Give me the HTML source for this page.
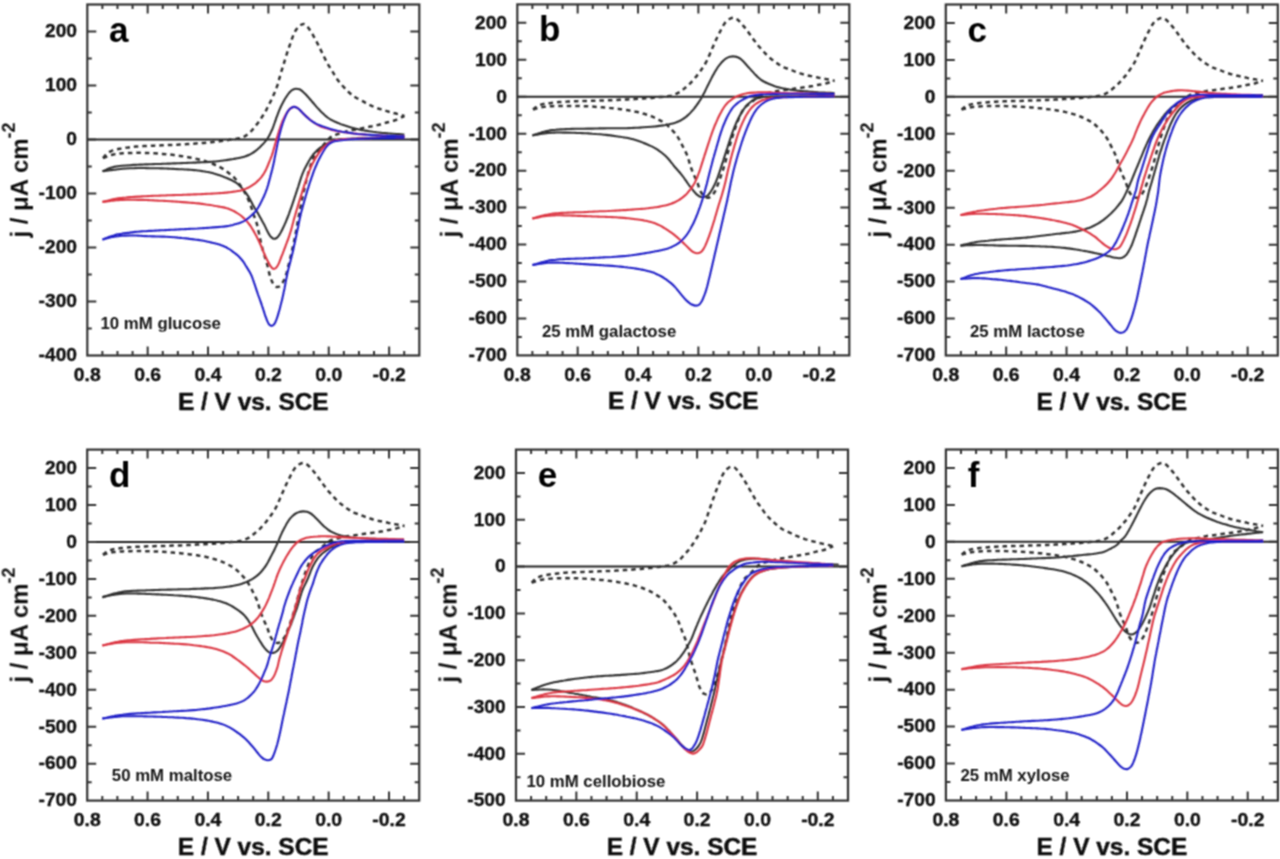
<!DOCTYPE html><html><head><meta charset="utf-8"><style>html,body{margin:0;padding:0;background:#fff;}svg{display:block}</style></head><body>
<svg width="1280" height="859" viewBox="0 0 1280 859">
<defs><filter id="bl" x="0" y="0" width="1280" height="859" filterUnits="userSpaceOnUse"><feConvolveMatrix order="3" kernelMatrix="1 2 1 2 4 2 1 2 1" edgeMode="duplicate"/></filter></defs>
<rect width="1280" height="859" fill="#fff"/><g filter="url(#bl)">
<g><clipPath id="ca"><rect x="87.30" y="4.50" width="332.00" height="351.00"/></clipPath><g clip-path="url(#ca)"><line x1="87.30" y1="139.50" x2="419.30" y2="139.50" stroke="#222" stroke-width="2"/><path d="M103.1 158.1 C103.5 157.6 104.7 156.0 105.6 155.0 C106.5 154.1 107.5 153.1 108.6 152.4 C109.7 151.7 110.9 151.1 112.2 150.6 C113.4 150.1 114.7 149.8 116.0 149.5 C117.3 149.1 118.6 148.9 119.9 148.7 C121.2 148.5 122.5 148.3 123.9 148.1 C125.2 147.9 126.5 147.6 127.8 147.5 C129.1 147.3 130.5 147.1 131.8 147.0 C133.1 146.8 134.4 146.7 135.8 146.6 C137.1 146.5 138.4 146.4 139.8 146.4 C141.1 146.3 142.4 146.2 143.7 146.1 C145.1 146.0 146.4 146.0 147.7 145.9 C149.1 145.8 150.4 145.8 151.7 145.7 C153.1 145.7 154.4 145.6 155.7 145.6 C157.1 145.5 158.4 145.5 159.7 145.4 C161.1 145.4 162.4 145.3 163.7 145.3 C165.1 145.2 166.4 145.1 167.7 145.1 C169.1 145.0 170.4 145.0 171.7 144.9 C173.1 144.9 174.4 144.8 175.7 144.7 C177.0 144.7 178.4 144.6 179.7 144.5 C181.0 144.5 182.4 144.4 183.7 144.3 C185.0 144.2 186.4 144.2 187.7 144.1 C189.0 144.0 190.4 143.9 191.7 143.8 C193.0 143.7 194.3 143.6 195.7 143.5 C197.0 143.4 198.3 143.3 199.7 143.2 C201.0 143.1 202.3 143.0 203.7 142.9 C205.0 142.8 206.3 142.7 207.6 142.5 C209.0 142.4 210.3 142.3 211.6 142.2 C212.9 142.0 214.3 141.9 215.6 141.8 C216.9 141.6 218.3 141.5 219.6 141.3 C220.9 141.2 222.2 141.0 223.5 140.8 C224.9 140.7 226.2 140.5 227.5 140.3 C228.8 140.0 230.1 139.8 231.5 139.6 C232.8 139.4 234.1 139.3 235.4 139.0 C236.7 138.8 238.1 138.7 239.3 138.3 C240.6 138.0 241.9 137.5 243.1 137.0 C244.3 136.5 245.5 135.8 246.6 135.1 C247.7 134.3 248.8 133.5 249.8 132.6 C250.7 131.7 251.6 130.8 252.5 129.7 C253.4 128.7 254.1 127.6 255.0 126.6 C255.8 125.6 256.7 124.6 257.5 123.5 C258.3 122.5 259.1 121.4 259.9 120.3 C260.6 119.2 261.3 118.1 262.0 116.9 C262.8 115.8 263.5 114.7 264.1 113.5 C264.8 112.4 265.5 111.2 266.2 110.1 C266.8 108.9 267.4 107.7 268.0 106.5 C268.6 105.4 269.2 104.2 269.8 103.0 C270.4 101.8 271.0 100.6 271.6 99.4 C272.1 98.2 272.7 96.9 273.2 95.7 C273.8 94.5 274.4 93.3 274.9 92.1 C275.4 90.9 275.9 89.6 276.4 88.4 C276.8 87.1 277.2 85.8 277.6 84.6 C278.0 83.3 278.4 82.0 278.7 80.7 C279.1 79.4 279.5 78.2 279.8 76.9 C280.2 75.6 280.6 74.3 280.9 73.0 C281.3 71.8 281.7 70.5 282.1 69.2 C282.5 67.9 282.9 66.7 283.3 65.4 C283.7 64.1 284.1 62.8 284.4 61.6 C284.8 60.3 285.2 59.0 285.6 57.7 C286.0 56.5 286.4 55.2 286.8 53.9 C287.2 52.6 287.6 51.4 288.0 50.1 C288.5 48.8 288.9 47.6 289.4 46.3 C289.8 45.1 290.2 43.8 290.7 42.6 C291.1 41.3 291.5 40.0 292.0 38.8 C292.4 37.5 292.9 36.3 293.4 35.0 C293.9 33.8 294.4 32.6 295.1 31.4 C295.7 30.3 296.4 29.1 297.3 28.1 C298.1 27.1 299.1 26.1 300.2 25.4 C301.2 24.7 302.5 23.9 303.6 24.0 C304.7 24.1 305.9 25.1 306.8 25.9 C307.7 26.8 308.5 28.0 309.2 29.1 C310.0 30.2 310.7 31.3 311.4 32.5 C312.1 33.6 312.8 34.7 313.4 35.9 C314.1 37.1 314.8 38.2 315.4 39.4 C316.0 40.6 316.6 41.7 317.2 42.9 C317.8 44.1 318.4 45.3 319.0 46.5 C319.6 47.7 320.2 48.9 320.8 50.1 C321.4 51.3 322.0 52.5 322.6 53.7 C323.1 54.9 323.7 56.1 324.3 57.3 C324.9 58.5 325.5 59.7 326.1 60.9 C326.7 62.1 327.3 63.2 328.0 64.4 C328.7 65.5 329.4 66.7 330.1 67.8 C330.8 68.9 331.5 70.0 332.2 71.2 C332.9 72.3 333.6 73.4 334.3 74.6 C335.0 75.7 335.6 76.9 336.4 78.0 C337.1 79.1 337.9 80.2 338.7 81.3 C339.5 82.3 340.4 83.3 341.3 84.3 C342.1 85.3 343.0 86.3 344.0 87.3 C344.9 88.3 345.8 89.2 346.7 90.2 C347.7 91.1 348.6 92.1 349.6 93.0 C350.6 93.9 351.6 94.8 352.6 95.6 C353.7 96.3 354.8 97.1 356.0 97.7 C357.1 98.4 358.3 98.9 359.5 99.5 C360.7 100.2 361.9 100.8 363.1 101.4 C364.2 102.1 365.4 102.8 366.5 103.4 C367.7 104.0 368.9 104.6 370.1 105.2 C371.3 105.7 372.5 106.3 373.8 106.8 C375.0 107.3 376.3 107.8 377.5 108.2 C378.8 108.6 380.1 109.0 381.3 109.4 C382.6 109.8 383.9 110.2 385.2 110.6 C386.4 111.0 387.7 111.4 389.0 111.8 C390.3 112.1 391.5 112.5 392.8 112.8 C394.1 113.2 395.4 113.4 396.7 113.8 C398.0 114.1 399.3 114.4 400.6 114.8 C401.9 115.2 403.8 115.9 404.4 116.1" fill="none" stroke="#303030" stroke-width="2.5" stroke-dasharray="4.5 4" stroke-linejoin="round"/><path d="M103.1 158.1 C103.7 157.8 105.5 157.1 106.8 156.6 C108.0 156.1 109.3 155.6 110.6 155.2 C111.8 154.9 113.1 154.5 114.4 154.3 C115.7 154.0 117.1 153.8 118.4 153.7 C119.7 153.5 121.0 153.4 122.4 153.3 C123.7 153.2 125.0 153.2 126.4 153.1 C127.7 153.0 129.0 153.0 130.4 153.0 C131.7 152.9 133.0 152.9 134.4 152.9 C135.7 152.8 137.0 152.8 138.4 152.8 C139.7 152.8 141.0 152.8 142.4 152.9 C143.7 152.9 145.0 152.9 146.4 152.9 C147.7 153.0 149.0 153.0 150.4 153.1 C151.7 153.2 153.0 153.2 154.3 153.3 C155.7 153.4 157.0 153.5 158.3 153.6 C159.7 153.7 161.0 153.8 162.3 153.9 C163.7 154.0 165.0 154.1 166.3 154.2 C167.6 154.4 169.0 154.5 170.3 154.6 C171.6 154.8 172.9 154.9 174.3 155.1 C175.6 155.3 176.9 155.4 178.2 155.6 C179.5 155.8 180.9 156.0 182.2 156.2 C183.5 156.4 184.8 156.6 186.1 156.8 C187.4 157.1 188.8 157.3 190.1 157.5 C191.4 157.8 192.7 158.0 194.0 158.3 C195.3 158.6 196.6 158.9 197.9 159.2 C199.2 159.5 200.5 159.8 201.8 160.2 C203.1 160.5 204.3 160.9 205.6 161.3 C206.9 161.7 208.1 162.1 209.4 162.6 C210.6 163.0 211.9 163.5 213.1 164.0 C214.4 164.6 215.6 165.1 216.8 165.6 C218.0 166.2 219.2 166.8 220.4 167.4 C221.5 168.1 222.7 168.7 223.8 169.5 C224.9 170.2 226.0 171.0 227.1 171.8 C228.1 172.6 229.2 173.4 230.3 174.2 C231.3 175.0 232.4 175.8 233.3 176.7 C234.3 177.6 235.2 178.6 236.1 179.7 C236.9 180.7 237.7 181.8 238.5 182.8 C239.2 183.9 240.0 185.0 240.7 186.1 C241.5 187.2 242.2 188.4 242.9 189.5 C243.6 190.6 244.3 191.7 245.0 192.9 C245.7 194.1 246.3 195.2 246.9 196.4 C247.5 197.6 248.0 198.8 248.5 200.1 C249.1 201.3 249.5 202.5 250.0 203.8 C250.5 205.0 250.9 206.3 251.4 207.5 C251.8 208.8 252.2 210.1 252.6 211.4 C253.0 212.6 253.4 213.9 253.8 215.2 C254.2 216.4 254.7 217.7 255.2 218.9 C255.6 220.2 256.1 221.4 256.5 222.7 C256.9 224.0 257.2 225.3 257.6 226.6 C257.9 227.8 258.2 229.2 258.4 230.5 C258.7 231.8 259.0 233.1 259.2 234.4 C259.5 235.7 259.7 237.0 260.0 238.3 C260.3 239.6 260.5 240.9 260.8 242.2 C261.1 243.5 261.4 244.8 261.8 246.1 C262.1 247.4 262.5 248.7 262.8 250.0 C263.2 251.2 263.6 252.5 264.0 253.8 C264.4 255.1 264.8 256.3 265.1 257.6 C265.5 258.9 265.9 260.2 266.3 261.4 C266.7 262.7 267.1 264.0 267.4 265.3 C267.8 266.6 268.1 267.9 268.4 269.2 C268.7 270.5 268.9 271.8 269.2 273.1 C269.5 274.4 269.9 275.7 270.3 276.9 C270.7 278.2 271.1 279.5 271.7 280.7 C272.2 281.9 272.8 283.2 273.6 284.2 C274.3 285.2 275.3 286.5 276.3 286.9 C277.3 287.2 278.7 286.9 279.7 286.3 C280.7 285.7 281.5 284.4 282.2 283.3 C283.0 282.2 283.6 281.0 284.2 279.8 C284.7 278.6 285.2 277.4 285.7 276.1 C286.1 274.8 286.4 273.5 286.8 272.3 C287.1 271.0 287.4 269.7 287.8 268.4 C288.1 267.1 288.4 265.8 288.7 264.5 C289.1 263.2 289.4 261.9 289.7 260.6 C290.0 259.3 290.3 258.0 290.6 256.7 C290.9 255.4 291.2 254.1 291.5 252.8 C291.8 251.5 292.1 250.2 292.4 248.9 C292.7 247.6 293.0 246.3 293.3 245.0 C293.6 243.7 293.9 242.4 294.2 241.1 C294.4 239.8 294.7 238.5 295.0 237.2 C295.2 235.9 295.5 234.6 295.7 233.3 C296.0 232.0 296.2 230.7 296.4 229.3 C296.7 228.0 296.9 226.7 297.1 225.4 C297.4 224.1 297.6 222.8 297.8 221.5 C298.1 220.2 298.3 218.8 298.5 217.5 C298.8 216.2 299.0 214.9 299.3 213.6 C299.5 212.3 299.8 211.0 300.0 209.7 C300.3 208.4 300.5 207.1 300.8 205.7 C301.1 204.4 301.3 203.1 301.6 201.8 C301.8 200.5 302.1 199.2 302.4 197.9 C302.7 196.6 302.9 195.3 303.2 194.0 C303.5 192.7 303.8 191.4 304.1 190.1 C304.4 188.8 304.7 187.5 305.0 186.2 C305.3 184.9 305.6 183.6 305.9 182.3 C306.2 181.0 306.6 179.7 306.9 178.4 C307.2 177.1 307.5 175.8 307.9 174.5 C308.2 173.3 308.6 172.0 308.9 170.7 C309.3 169.4 309.7 168.1 310.1 166.8 C310.5 165.6 310.9 164.3 311.4 163.1 C311.8 161.8 312.3 160.6 312.8 159.4 C313.4 158.1 313.9 156.9 314.5 155.7 C315.2 154.6 315.8 153.4 316.6 152.4 C317.5 151.4 318.7 150.8 319.6 149.8 C320.6 148.9 321.3 147.8 322.2 146.8 C323.0 145.7 323.7 144.6 324.6 143.6 C325.4 142.6 326.3 141.5 327.2 140.6 C328.1 139.6 329.0 138.6 330.0 137.8 C331.1 136.9 332.2 136.2 333.4 135.6 C334.5 135.0 335.9 134.7 337.1 134.3 C338.4 133.9 339.7 133.6 341.0 133.2 C342.2 132.8 343.5 132.3 344.8 131.9 C346.0 131.5 347.3 131.1 348.6 130.8 C349.9 130.5 351.2 130.4 352.5 130.1 C353.9 129.9 355.2 129.7 356.5 129.5 C357.8 129.2 359.1 128.9 360.4 128.6 C361.7 128.3 363.0 128.0 364.3 127.7 C365.6 127.4 366.9 127.2 368.2 126.9 C369.5 126.7 370.8 126.4 372.1 126.2 C373.4 125.9 374.8 125.7 376.1 125.4 C377.4 125.1 378.7 124.9 380.0 124.5 C381.2 124.2 382.5 123.7 383.8 123.4 C385.1 123.0 386.3 122.6 387.6 122.2 C388.9 121.9 390.2 121.7 391.5 121.3 C392.8 121.0 394.1 120.7 395.4 120.2 C396.6 119.8 397.8 119.2 399.0 118.7 C400.2 118.1 401.7 117.4 402.6 116.9 C403.5 116.5 404.1 116.2 404.4 116.1" fill="none" stroke="#303030" stroke-width="2.5" stroke-dasharray="4.5 4" stroke-linejoin="round"/><path d="M102.5 171.3 C103.1 171.0 104.9 170.1 106.1 169.6 C107.4 169.0 108.6 168.5 109.8 168.1 C111.1 167.6 112.4 167.2 113.7 166.9 C115.0 166.7 116.3 166.5 117.6 166.3 C118.9 166.1 120.3 165.9 121.6 165.8 C122.9 165.7 124.2 165.6 125.6 165.5 C126.9 165.4 128.2 165.3 129.6 165.2 C130.9 165.1 132.2 165.0 133.6 164.9 C134.9 164.9 136.2 164.8 137.5 164.7 C138.9 164.7 140.2 164.6 141.5 164.6 C142.9 164.5 144.2 164.5 145.5 164.4 C146.9 164.4 148.2 164.3 149.5 164.3 C150.9 164.2 152.2 164.2 153.5 164.1 C154.9 164.1 156.2 164.0 157.5 164.0 C158.9 163.9 160.2 163.9 161.5 163.9 C162.9 163.8 164.2 163.8 165.5 163.7 C166.9 163.7 168.2 163.6 169.5 163.6 C170.9 163.5 172.2 163.5 173.5 163.4 C174.9 163.4 176.2 163.3 177.5 163.3 C178.9 163.2 180.2 163.2 181.5 163.1 C182.9 163.1 184.2 163.0 185.5 163.0 C186.8 162.9 188.2 162.9 189.5 162.8 C190.8 162.7 192.2 162.7 193.5 162.6 C194.8 162.6 196.2 162.5 197.5 162.4 C198.8 162.4 200.2 162.3 201.5 162.3 C202.8 162.2 204.2 162.2 205.5 162.1 C206.8 162.0 208.2 162.0 209.5 161.9 C210.8 161.8 212.2 161.7 213.5 161.6 C214.8 161.5 216.1 161.4 217.5 161.2 C218.8 161.1 220.1 161.0 221.4 160.8 C222.8 160.6 224.1 160.4 225.4 160.2 C226.7 160.1 228.0 159.8 229.4 159.6 C230.7 159.4 232.0 159.2 233.3 159.0 C234.6 158.7 235.9 158.5 237.2 158.2 C238.5 158.0 239.8 157.7 241.1 157.4 C242.4 157.1 243.7 156.8 245.0 156.4 C246.3 156.0 247.6 155.6 248.8 155.0 C250.0 154.5 251.2 153.9 252.3 153.2 C253.4 152.5 254.5 151.7 255.6 150.9 C256.6 150.1 257.7 149.2 258.7 148.3 C259.7 147.5 260.6 146.5 261.5 145.6 C262.5 144.6 263.4 143.6 264.3 142.6 C265.1 141.6 266.0 140.6 266.8 139.6 C267.6 138.5 268.2 137.3 268.9 136.2 C269.5 135.0 270.2 133.8 270.7 132.6 C271.3 131.4 271.9 130.2 272.4 129.0 C272.9 127.7 273.4 126.5 273.8 125.2 C274.3 124.0 274.7 122.7 275.1 121.5 C275.6 120.2 276.0 118.9 276.4 117.7 C276.9 116.4 277.4 115.2 277.9 113.9 C278.3 112.7 278.8 111.4 279.3 110.2 C279.8 109.0 280.4 107.8 280.9 106.5 C281.5 105.3 282.1 104.1 282.7 103.0 C283.3 101.8 284.0 100.6 284.6 99.5 C285.3 98.3 286.0 97.2 286.8 96.1 C287.5 95.0 288.3 93.9 289.1 92.9 C290.0 91.9 290.9 90.8 292.0 90.1 C293.1 89.4 294.4 88.9 295.6 88.7 C296.9 88.6 298.3 88.9 299.5 89.3 C300.6 89.8 301.7 90.7 302.7 91.5 C303.7 92.4 304.7 93.4 305.6 94.3 C306.5 95.3 307.4 96.3 308.3 97.3 C309.2 98.3 310.0 99.3 310.9 100.3 C311.8 101.3 312.6 102.3 313.5 103.3 C314.4 104.3 315.3 105.4 316.1 106.4 C317.0 107.4 317.9 108.4 318.8 109.3 C319.7 110.3 320.7 111.3 321.6 112.2 C322.6 113.1 323.5 114.1 324.5 115.0 C325.5 115.8 326.5 116.7 327.6 117.5 C328.7 118.3 329.8 119.0 330.9 119.7 C332.1 120.3 333.3 120.9 334.5 121.5 C335.7 122.0 336.9 122.6 338.1 123.1 C339.4 123.6 340.6 124.1 341.9 124.6 C343.1 125.0 344.4 125.4 345.7 125.8 C346.9 126.2 348.2 126.6 349.5 127.0 C350.8 127.4 352.0 127.8 353.3 128.1 C354.6 128.5 355.9 128.8 357.2 129.1 C358.5 129.4 359.8 129.6 361.1 129.9 C362.4 130.1 363.8 130.4 365.1 130.6 C366.4 130.8 367.7 131.0 369.0 131.2 C370.3 131.4 371.7 131.6 373.0 131.8 C374.3 131.9 375.6 132.1 377.0 132.3 C378.3 132.4 379.6 132.6 380.9 132.7 C382.3 132.9 383.6 133.0 384.9 133.1 C386.2 133.2 387.6 133.3 388.9 133.5 C390.2 133.6 391.6 133.6 392.9 133.7 C394.2 133.8 395.5 133.9 396.9 134.0 C398.2 134.1 399.6 134.2 400.9 134.3 C402.1 134.4 403.8 134.5 404.4 134.5" fill="none" stroke="#303030" stroke-width="2.1" stroke-linejoin="round"/><path d="M102.5 171.3 C103.2 171.2 105.1 170.9 106.5 170.7 C107.8 170.5 109.1 170.3 110.4 170.1 C111.8 170.0 113.1 169.8 114.4 169.7 C115.7 169.5 117.1 169.4 118.4 169.2 C119.7 169.1 121.0 168.9 122.4 168.8 C123.7 168.7 125.0 168.6 126.3 168.5 C127.7 168.4 129.0 168.3 130.3 168.2 C131.7 168.1 133.0 168.1 134.3 168.1 C135.7 168.0 137.0 168.0 138.3 168.0 C139.7 168.0 141.0 168.0 142.3 168.0 C143.7 168.0 145.0 168.1 146.3 168.1 C147.7 168.1 149.0 168.1 150.3 168.2 C151.7 168.2 153.0 168.2 154.3 168.2 C155.7 168.3 157.0 168.3 158.3 168.3 C159.7 168.3 161.0 168.4 162.3 168.4 C163.7 168.4 165.0 168.5 166.3 168.5 C167.7 168.6 169.0 168.6 170.3 168.7 C171.7 168.7 173.0 168.8 174.3 168.9 C175.7 168.9 177.0 169.0 178.3 169.1 C179.6 169.1 181.0 169.2 182.3 169.3 C183.6 169.4 185.0 169.5 186.3 169.5 C187.6 169.6 189.0 169.7 190.3 169.8 C191.6 169.9 192.9 170.0 194.3 170.1 C195.6 170.2 196.9 170.4 198.3 170.5 C199.6 170.7 200.9 170.9 202.2 171.1 C203.5 171.3 204.9 171.5 206.2 171.8 C207.5 172.0 208.8 172.3 210.1 172.6 C211.4 172.9 212.7 173.2 213.9 173.6 C215.2 174.0 216.5 174.4 217.8 174.8 C219.0 175.2 220.3 175.6 221.6 176.1 C222.8 176.5 224.1 177.0 225.3 177.4 C226.5 177.9 227.8 178.4 229.0 179.0 C230.2 179.5 231.5 180.0 232.6 180.7 C233.8 181.3 235.0 181.9 236.1 182.7 C237.1 183.4 238.1 184.3 239.1 185.3 C240.1 186.2 241.0 187.1 241.9 188.1 C242.8 189.1 243.6 190.1 244.5 191.2 C245.3 192.2 246.2 193.3 246.9 194.3 C247.7 195.4 248.5 196.5 249.1 197.7 C249.8 198.8 250.4 200.0 251.0 201.2 C251.6 202.4 252.2 203.6 252.8 204.8 C253.5 205.9 254.2 207.1 254.8 208.2 C255.5 209.4 256.2 210.5 256.9 211.6 C257.6 212.8 258.3 213.9 258.9 215.1 C259.6 216.2 260.2 217.4 260.9 218.6 C261.5 219.7 262.2 220.9 262.8 222.1 C263.4 223.3 264.1 224.4 264.7 225.6 C265.3 226.8 265.9 228.0 266.4 229.2 C267.0 230.4 267.5 231.7 268.2 232.8 C268.8 234.0 269.5 235.2 270.3 236.2 C271.2 237.1 272.2 238.4 273.3 238.7 C274.3 239.0 275.6 238.6 276.6 238.0 C277.6 237.4 278.5 236.1 279.2 235.1 C280.0 234.0 280.6 232.8 281.2 231.6 C281.9 230.4 282.5 229.2 283.0 228.0 C283.6 226.8 284.2 225.6 284.7 224.4 C285.3 223.2 285.8 222.0 286.3 220.7 C286.8 219.5 287.3 218.3 287.8 217.0 C288.2 215.8 288.7 214.5 289.2 213.3 C289.6 212.0 290.1 210.8 290.5 209.5 C291.0 208.3 291.4 207.0 291.9 205.7 C292.3 204.5 292.7 203.2 293.1 202.0 C293.6 200.7 294.0 199.4 294.4 198.2 C294.8 196.9 295.2 195.6 295.7 194.4 C296.1 193.1 296.5 191.8 296.9 190.6 C297.3 189.3 297.7 188.0 298.2 186.8 C298.6 185.5 299.0 184.2 299.4 182.9 C299.8 181.7 300.2 180.4 300.6 179.1 C301.0 177.9 301.4 176.6 301.9 175.4 C302.4 174.1 302.9 172.9 303.4 171.7 C303.9 170.4 304.5 169.2 305.1 168.0 C305.7 166.9 306.4 165.7 307.0 164.5 C307.6 163.3 308.3 162.2 308.9 161.0 C309.6 159.9 310.3 158.7 311.0 157.6 C311.7 156.5 312.5 155.4 313.3 154.3 C314.2 153.3 315.1 152.3 316.0 151.4 C316.9 150.4 318.0 149.6 319.0 148.7 C320.1 147.9 321.2 147.2 322.3 146.5 C323.4 145.8 324.6 145.1 325.7 144.4 C326.9 143.8 328.0 143.1 329.2 142.5 C330.4 141.9 331.7 141.4 332.9 141.0 C334.2 140.6 335.5 140.3 336.8 140.1 C338.1 139.8 339.4 139.6 340.8 139.4 C342.1 139.3 343.4 139.1 344.7 139.0 C346.1 138.9 347.4 138.8 348.7 138.7 C350.1 138.7 351.4 138.6 352.7 138.5 C354.1 138.5 355.4 138.4 356.7 138.4 C358.1 138.3 359.4 138.3 360.7 138.2 C362.1 138.2 363.4 138.1 364.7 138.1 C366.1 138.0 367.4 138.0 368.7 138.0 C370.1 137.9 371.4 137.9 372.7 137.8 C374.1 137.8 375.4 137.8 376.7 137.8 C378.1 137.7 379.4 137.7 380.7 137.7 C382.0 137.6 383.4 137.6 384.7 137.6 C386.0 137.6 387.4 137.6 388.7 137.5 C390.0 137.5 391.4 137.5 392.7 137.5 C394.0 137.5 395.4 137.4 396.7 137.4 C398.0 137.4 399.4 137.4 400.7 137.4 C402.0 137.3 403.8 137.3 404.4 137.3" fill="none" stroke="#303030" stroke-width="2.1" stroke-linejoin="round"/><path d="M102.5 201.9 C103.2 201.7 105.1 201.3 106.4 200.9 C107.7 200.6 109.0 200.3 110.3 200.0 C111.6 199.7 112.9 199.4 114.2 199.1 C115.5 198.8 116.8 198.6 118.1 198.4 C119.4 198.2 120.8 198.0 122.1 197.9 C123.4 197.7 124.7 197.6 126.1 197.5 C127.4 197.3 128.7 197.2 130.0 197.1 C131.4 197.0 132.7 197.0 134.0 196.9 C135.4 196.8 136.7 196.7 138.0 196.6 C139.4 196.6 140.7 196.5 142.0 196.4 C143.4 196.3 144.7 196.3 146.0 196.2 C147.3 196.1 148.7 196.1 150.0 196.0 C151.3 195.9 152.7 195.9 154.0 195.8 C155.3 195.8 156.7 195.7 158.0 195.7 C159.3 195.6 160.7 195.6 162.0 195.5 C163.3 195.5 164.7 195.4 166.0 195.4 C167.3 195.3 168.7 195.3 170.0 195.2 C171.3 195.2 172.7 195.2 174.0 195.1 C175.3 195.1 176.7 195.0 178.0 195.0 C179.3 194.9 180.7 194.9 182.0 194.9 C183.3 194.8 184.7 194.8 186.0 194.7 C187.3 194.7 188.7 194.6 190.0 194.6 C191.3 194.5 192.7 194.5 194.0 194.4 C195.3 194.4 196.6 194.3 198.0 194.3 C199.3 194.2 200.6 194.2 202.0 194.1 C203.3 194.0 204.6 194.0 206.0 193.9 C207.3 193.8 208.6 193.8 210.0 193.7 C211.3 193.6 212.6 193.6 214.0 193.5 C215.3 193.4 216.6 193.3 218.0 193.2 C219.3 193.1 220.6 193.1 221.9 193.0 C223.3 192.8 224.6 192.7 225.9 192.6 C227.3 192.5 228.6 192.3 229.9 192.2 C231.2 192.0 232.5 191.8 233.9 191.6 C235.2 191.4 236.5 191.3 237.8 191.0 C239.1 190.8 240.4 190.6 241.7 190.2 C243.0 189.8 244.3 189.4 245.5 188.9 C246.7 188.4 247.9 187.8 249.1 187.2 C250.3 186.5 251.4 185.9 252.5 185.1 C253.7 184.4 254.7 183.6 255.8 182.8 C256.8 181.9 257.8 181.0 258.7 180.1 C259.6 179.1 260.5 178.1 261.4 177.1 C262.2 176.0 262.9 174.9 263.7 173.8 C264.4 172.7 265.1 171.5 265.7 170.3 C266.3 169.2 266.8 167.9 267.3 166.7 C267.9 165.5 268.3 164.2 268.8 163.0 C269.3 161.7 269.8 160.5 270.3 159.3 C270.8 158.0 271.3 156.8 271.8 155.6 C272.2 154.3 272.6 153.0 273.0 151.8 C273.4 150.5 273.7 149.2 274.1 147.9 C274.5 146.6 274.8 145.4 275.2 144.1 C275.6 142.8 275.9 141.5 276.3 140.2 C276.7 139.0 277.0 137.7 277.4 136.4 C277.8 135.1 278.1 133.8 278.5 132.6 C278.9 131.3 279.3 130.0 279.8 128.7 C280.2 127.5 280.6 126.2 281.1 125.0 C281.5 123.7 282.0 122.5 282.5 121.2 C283.0 120.0 283.6 118.8 284.2 117.6 C284.8 116.4 285.4 115.2 286.1 114.1 C286.8 113.0 287.5 111.8 288.3 110.8 C289.2 109.8 290.0 108.6 291.1 108.0 C292.2 107.3 293.5 106.8 294.7 106.9 C295.9 107.0 297.1 107.8 298.2 108.5 C299.3 109.3 300.1 110.4 301.1 111.3 C302.0 112.3 302.9 113.2 303.9 114.2 C304.8 115.1 305.8 116.0 306.8 116.9 C307.8 117.8 308.8 118.7 309.8 119.5 C310.8 120.4 311.9 121.2 313.0 122.0 C314.0 122.8 315.1 123.5 316.3 124.2 C317.4 124.9 318.6 125.5 319.8 126.0 C321.0 126.6 322.3 127.0 323.6 127.4 C324.9 127.8 326.2 128.1 327.4 128.5 C328.7 128.9 330.0 129.3 331.3 129.7 C332.5 130.0 333.8 130.4 335.1 130.7 C336.4 131.0 337.7 131.2 339.1 131.4 C340.4 131.6 341.7 131.8 343.0 132.0 C344.3 132.2 345.7 132.4 347.0 132.6 C348.3 132.7 349.6 132.9 350.9 133.1 C352.3 133.3 353.6 133.5 354.9 133.6 C356.2 133.8 357.5 133.9 358.9 134.1 C360.2 134.2 361.5 134.3 362.9 134.4 C364.2 134.5 365.5 134.6 366.8 134.7 C368.2 134.8 369.5 134.9 370.8 135.0 C372.2 135.0 373.5 135.1 374.8 135.2 C376.2 135.3 377.5 135.4 378.8 135.4 C380.2 135.5 381.5 135.6 382.8 135.7 C384.2 135.7 385.5 135.8 386.8 135.8 C388.1 135.9 389.5 136.0 390.8 136.0 C392.1 136.1 393.5 136.1 394.8 136.2 C396.1 136.2 397.5 136.2 398.8 136.3 C400.1 136.3 401.9 136.3 402.8 136.4 C403.7 136.4 404.1 136.4 404.4 136.4" fill="none" stroke="#dc3844" stroke-width="2.1" stroke-linejoin="round"/><path d="M102.5 201.9 C103.2 201.8 105.2 201.6 106.5 201.4 C107.8 201.2 109.1 201.0 110.4 200.9 C111.8 200.7 113.1 200.5 114.4 200.4 C115.7 200.3 117.1 200.2 118.4 200.1 C119.7 200.0 121.1 200.0 122.4 199.9 C123.7 199.9 125.1 199.9 126.4 199.8 C127.7 199.8 129.1 199.8 130.4 199.8 C131.7 199.8 133.1 199.8 134.4 199.8 C135.7 199.8 137.1 199.8 138.4 199.9 C139.7 199.9 141.1 199.9 142.4 199.9 C143.7 200.0 145.1 200.0 146.4 200.0 C147.7 200.1 149.1 200.1 150.4 200.2 C151.7 200.2 153.1 200.3 154.4 200.4 C155.7 200.4 157.1 200.5 158.4 200.6 C159.7 200.6 161.0 200.7 162.4 200.8 C163.7 200.9 165.0 200.9 166.4 201.0 C167.7 201.1 169.0 201.2 170.4 201.3 C171.7 201.4 173.0 201.4 174.4 201.5 C175.7 201.6 177.0 201.7 178.3 201.8 C179.7 201.9 181.0 202.0 182.3 202.1 C183.7 202.2 185.0 202.3 186.3 202.4 C187.7 202.5 189.0 202.6 190.3 202.7 C191.6 202.8 193.0 202.9 194.3 203.0 C195.6 203.2 197.0 203.3 198.3 203.4 C199.6 203.6 200.9 203.7 202.3 203.9 C203.6 204.1 204.9 204.3 206.2 204.5 C207.5 204.6 208.9 204.8 210.2 205.0 C211.5 205.2 212.8 205.4 214.1 205.7 C215.4 205.9 216.7 206.1 218.1 206.4 C219.4 206.6 220.7 206.9 222.0 207.1 C223.3 207.4 224.6 207.6 225.9 208.0 C227.2 208.3 228.5 208.7 229.7 209.2 C230.9 209.6 232.2 210.2 233.3 210.8 C234.5 211.4 235.7 212.1 236.8 212.8 C238.0 213.5 239.1 214.2 240.1 215.0 C241.2 215.8 242.2 216.7 243.2 217.6 C244.2 218.5 245.1 219.4 246.0 220.4 C246.9 221.4 247.8 222.4 248.6 223.5 C249.4 224.5 250.2 225.6 251.0 226.7 C251.7 227.8 252.4 228.9 253.1 230.1 C253.8 231.2 254.4 232.4 255.0 233.6 C255.6 234.8 256.3 235.9 256.9 237.1 C257.5 238.3 258.1 239.5 258.7 240.7 C259.3 241.9 259.8 243.1 260.3 244.3 C260.9 245.6 261.4 246.8 261.9 248.0 C262.4 249.2 262.9 250.5 263.4 251.7 C264.0 252.9 264.5 254.1 265.0 255.4 C265.6 256.6 266.2 257.8 266.7 259.0 C267.3 260.2 267.9 261.4 268.5 262.6 C269.2 263.7 269.7 265.0 270.5 266.0 C271.3 267.1 272.1 268.5 273.1 268.8 C274.0 269.1 275.3 268.5 276.2 267.7 C277.1 267.0 277.7 265.6 278.3 264.4 C278.9 263.2 279.4 261.9 279.9 260.7 C280.4 259.5 280.8 258.2 281.3 257.0 C281.8 255.8 282.3 254.5 282.8 253.3 C283.3 252.0 283.8 250.8 284.2 249.5 C284.7 248.3 285.2 247.0 285.6 245.8 C286.1 244.5 286.6 243.3 287.0 242.0 C287.5 240.8 288.0 239.5 288.4 238.3 C288.9 237.0 289.3 235.8 289.7 234.5 C290.2 233.2 290.5 232.0 290.9 230.7 C291.3 229.4 291.6 228.1 292.0 226.8 C292.3 225.5 292.6 224.2 293.0 223.0 C293.3 221.7 293.7 220.4 294.0 219.1 C294.4 217.8 294.7 216.5 295.1 215.3 C295.5 214.0 295.9 212.7 296.2 211.4 C296.6 210.1 297.0 208.9 297.4 207.6 C297.8 206.3 298.2 205.0 298.5 203.8 C298.9 202.5 299.3 201.2 299.7 199.9 C300.1 198.7 300.5 197.4 300.9 196.1 C301.3 194.8 301.7 193.6 302.1 192.3 C302.5 191.0 302.8 189.7 303.3 188.5 C303.7 187.2 304.1 185.9 304.5 184.7 C304.9 183.4 305.3 182.1 305.8 180.9 C306.2 179.6 306.6 178.3 307.1 177.1 C307.5 175.8 307.9 174.6 308.4 173.3 C308.9 172.1 309.4 170.8 309.9 169.6 C310.4 168.4 310.9 167.1 311.5 165.9 C312.0 164.7 312.6 163.5 313.2 162.3 C313.9 161.2 314.5 160.0 315.2 158.8 C315.8 157.7 316.5 156.5 317.2 155.4 C318.0 154.3 318.7 153.2 319.5 152.1 C320.3 151.1 321.2 150.0 322.0 149.0 C322.9 148.0 323.8 147.0 324.8 146.2 C325.8 145.3 326.9 144.4 328.0 143.7 C329.1 143.0 330.3 142.4 331.5 141.8 C332.7 141.3 334.0 140.9 335.3 140.6 C336.6 140.2 337.9 140.1 339.2 139.9 C340.5 139.7 341.8 139.5 343.2 139.4 C344.5 139.3 345.8 139.2 347.2 139.1 C348.5 139.0 349.8 139.0 351.2 138.9 C352.5 138.8 353.8 138.8 355.1 138.7 C356.5 138.7 357.8 138.6 359.1 138.5 C360.5 138.5 361.8 138.4 363.1 138.4 C364.5 138.3 365.8 138.3 367.1 138.2 C368.5 138.2 369.8 138.1 371.1 138.1 C372.5 138.1 373.8 138.0 375.1 138.0 C376.5 138.0 377.8 137.9 379.1 137.9 C380.5 137.9 381.8 137.8 383.1 137.8 C384.5 137.8 385.8 137.8 387.1 137.8 C388.5 137.7 389.8 137.7 391.1 137.7 C392.5 137.7 393.8 137.7 395.1 137.6 C396.5 137.6 397.8 137.6 399.1 137.6 C400.5 137.6 402.3 137.5 403.1 137.5 C404.0 137.5 404.2 137.5 404.4 137.5" fill="none" stroke="#dc3844" stroke-width="2.1" stroke-linejoin="round"/><path d="M102.5 239.5 C103.1 239.3 105.0 238.5 106.2 238.0 C107.5 237.5 108.7 237.0 110.0 236.6 C111.2 236.1 112.5 235.7 113.8 235.4 C115.0 235.0 116.3 234.7 117.7 234.4 C119.0 234.2 120.3 233.9 121.6 233.7 C122.9 233.5 124.2 233.3 125.5 233.1 C126.9 232.9 128.2 232.7 129.5 232.6 C130.8 232.4 132.1 232.2 133.5 232.1 C134.8 232.0 136.1 231.8 137.5 231.7 C138.8 231.6 140.1 231.5 141.4 231.4 C142.8 231.3 144.1 231.3 145.4 231.2 C146.8 231.1 148.1 231.0 149.4 230.9 C150.8 230.9 152.1 230.8 153.4 230.7 C154.8 230.6 156.1 230.6 157.4 230.5 C158.7 230.4 160.1 230.4 161.4 230.3 C162.7 230.2 164.1 230.2 165.4 230.1 C166.7 230.0 168.1 230.0 169.4 229.9 C170.7 229.8 172.1 229.8 173.4 229.7 C174.7 229.6 176.1 229.6 177.4 229.5 C178.7 229.4 180.1 229.4 181.4 229.3 C182.7 229.2 184.1 229.2 185.4 229.1 C186.7 229.0 188.0 229.0 189.4 228.9 C190.7 228.8 192.0 228.8 193.4 228.7 C194.7 228.6 196.0 228.5 197.4 228.5 C198.7 228.4 200.0 228.3 201.4 228.2 C202.7 228.1 204.0 228.1 205.4 228.0 C206.7 227.9 208.0 227.8 209.3 227.7 C210.7 227.6 212.0 227.5 213.3 227.4 C214.7 227.3 216.0 227.2 217.3 227.1 C218.7 227.0 220.0 226.9 221.3 226.8 C222.6 226.7 224.0 226.6 225.3 226.4 C226.6 226.2 227.9 226.0 229.2 225.8 C230.5 225.5 231.8 225.2 233.1 224.9 C234.4 224.5 235.7 224.2 237.0 223.8 C238.3 223.4 239.5 223.0 240.8 222.5 C242.0 222.0 243.2 221.5 244.4 220.9 C245.5 220.2 246.6 219.4 247.7 218.6 C248.7 217.8 249.8 216.9 250.8 216.0 C251.8 215.2 252.8 214.3 253.7 213.3 C254.6 212.4 255.5 211.3 256.3 210.3 C257.1 209.2 257.8 208.1 258.5 207.0 C259.2 205.8 259.8 204.6 260.4 203.5 C261.1 202.3 261.7 201.1 262.2 199.9 C262.8 198.7 263.4 197.5 264.0 196.3 C264.5 195.1 265.0 193.8 265.5 192.6 C266.0 191.3 266.4 190.1 266.9 188.8 C267.3 187.6 267.7 186.3 268.1 185.0 C268.4 183.7 268.8 182.5 269.1 181.2 C269.5 179.9 269.8 178.6 270.2 177.3 C270.5 176.0 270.8 174.7 271.2 173.4 C271.5 172.1 271.8 170.8 272.2 169.6 C272.5 168.3 272.8 167.0 273.1 165.7 C273.4 164.4 273.7 163.1 274.0 161.8 C274.2 160.5 274.5 159.1 274.7 157.8 C275.0 156.5 275.3 155.2 275.5 153.9 C275.8 152.6 276.0 151.3 276.3 150.0 C276.6 148.7 276.8 147.4 277.1 146.1 C277.3 144.8 277.6 143.4 277.9 142.1 C278.1 140.8 278.4 139.5 278.7 138.2 C278.9 136.9 279.3 135.6 279.6 134.3 C279.9 133.0 280.3 131.8 280.6 130.5 C281.0 129.2 281.3 127.9 281.7 126.6 C282.1 125.3 282.5 124.1 282.9 122.8 C283.3 121.5 283.8 120.3 284.3 119.1 C284.8 117.8 285.3 116.6 285.8 115.4 C286.4 114.2 286.9 112.9 287.6 111.8 C288.3 110.7 289.1 109.5 290.1 108.7 C291.1 107.9 292.3 107.1 293.5 106.9 C294.7 106.8 296.1 107.2 297.2 107.8 C298.3 108.4 299.2 109.5 300.2 110.4 C301.2 111.3 302.0 112.3 303.0 113.3 C303.9 114.2 304.9 115.1 305.8 116.1 C306.8 117.0 307.8 117.9 308.8 118.8 C309.8 119.6 310.8 120.5 311.9 121.2 C313.0 122.0 314.2 122.6 315.4 123.3 C316.5 123.9 317.7 124.5 319.0 125.0 C320.2 125.6 321.4 126.1 322.7 126.5 C323.9 127.0 325.2 127.4 326.5 127.8 C327.7 128.2 329.0 128.6 330.3 129.0 C331.5 129.4 332.8 129.8 334.1 130.1 C335.4 130.4 336.7 130.7 338.0 131.0 C339.3 131.2 340.6 131.4 342.0 131.7 C343.3 131.9 344.6 132.1 345.9 132.3 C347.2 132.5 348.5 132.7 349.9 132.9 C351.2 133.1 352.5 133.3 353.8 133.5 C355.1 133.6 356.5 133.8 357.8 134.0 C359.1 134.1 360.4 134.2 361.8 134.3 C363.1 134.4 364.4 134.5 365.8 134.6 C367.1 134.7 368.4 134.8 369.7 134.9 C371.1 135.0 372.4 135.1 373.7 135.1 C375.1 135.2 376.4 135.3 377.7 135.4 C379.1 135.5 380.4 135.5 381.7 135.6 C383.1 135.7 384.4 135.7 385.7 135.8 C387.1 135.9 388.4 135.9 389.7 136.0 C391.1 136.0 392.4 136.1 393.7 136.1 C395.0 136.2 396.4 136.2 397.7 136.2 C399.0 136.3 400.6 136.3 401.7 136.3 C402.8 136.4 403.9 136.4 404.4 136.4" fill="none" stroke="#2424c8" stroke-width="2.1" stroke-linejoin="round"/><path d="M102.5 239.5 C103.2 239.3 105.1 238.8 106.4 238.4 C107.7 238.1 108.9 237.7 110.2 237.4 C111.5 237.1 112.8 236.9 114.2 236.6 C115.5 236.4 116.8 236.3 118.1 236.2 C119.5 236.0 120.8 235.9 122.1 235.8 C123.4 235.8 124.8 235.7 126.1 235.6 C127.4 235.6 128.8 235.6 130.1 235.5 C131.4 235.5 132.8 235.5 134.1 235.5 C135.4 235.5 136.8 235.6 138.1 235.6 C139.4 235.7 140.8 235.8 142.1 235.9 C143.4 235.9 144.8 236.0 146.1 236.1 C147.4 236.2 148.8 236.2 150.1 236.3 C151.4 236.3 152.8 236.4 154.1 236.4 C155.4 236.4 156.7 236.5 158.1 236.5 C159.4 236.5 160.7 236.5 162.1 236.6 C163.4 236.6 164.7 236.7 166.1 236.7 C167.4 236.8 168.7 236.9 170.1 237.0 C171.4 237.1 172.7 237.2 174.1 237.3 C175.4 237.4 176.7 237.5 178.0 237.6 C179.4 237.7 180.7 237.8 182.0 238.0 C183.4 238.1 184.7 238.3 186.0 238.4 C187.3 238.6 188.7 238.7 190.0 238.9 C191.3 239.0 192.6 239.2 193.9 239.4 C195.3 239.6 196.6 239.8 197.9 239.9 C199.2 240.1 200.5 240.3 201.9 240.5 C203.2 240.8 204.5 241.0 205.8 241.2 C207.1 241.5 208.4 241.8 209.7 242.1 C211.0 242.3 212.3 242.7 213.6 243.0 C214.9 243.3 216.2 243.7 217.5 244.0 C218.7 244.4 220.0 244.8 221.3 245.3 C222.5 245.7 223.8 246.2 225.0 246.8 C226.2 247.3 227.3 248.0 228.5 248.7 C229.6 249.3 230.8 250.1 231.8 250.8 C232.9 251.6 234.0 252.4 235.0 253.2 C236.1 254.1 237.1 254.9 238.1 255.8 C239.0 256.7 240.0 257.7 240.9 258.7 C241.8 259.7 242.6 260.7 243.4 261.8 C244.1 262.9 244.8 264.0 245.5 265.2 C246.2 266.3 246.9 267.5 247.6 268.6 C248.3 269.7 249.0 270.8 249.7 272.0 C250.3 273.2 251.0 274.4 251.5 275.6 C252.0 276.8 252.5 278.0 252.9 279.3 C253.4 280.5 253.8 281.8 254.2 283.1 C254.7 284.3 255.1 285.6 255.5 286.9 C255.9 288.1 256.3 289.4 256.7 290.7 C257.1 291.9 257.6 293.2 258.0 294.5 C258.4 295.7 258.9 297.0 259.4 298.2 C259.8 299.5 260.3 300.7 260.7 302.0 C261.2 303.3 261.6 304.5 262.0 305.8 C262.5 307.0 262.9 308.3 263.3 309.6 C263.7 310.8 264.1 312.1 264.5 313.4 C264.9 314.6 265.3 315.9 265.8 317.2 C266.2 318.4 266.7 319.7 267.2 320.9 C267.8 322.1 268.3 323.6 269.1 324.4 C269.9 325.2 271.1 326.0 272.1 325.8 C273.0 325.7 274.1 324.3 274.8 323.3 C275.5 322.3 275.9 320.9 276.4 319.7 C276.9 318.4 277.3 317.2 277.7 315.9 C278.1 314.6 278.5 313.3 278.8 312.0 C279.2 310.8 279.6 309.5 279.9 308.2 C280.2 306.9 280.6 305.6 280.9 304.3 C281.2 303.0 281.6 301.7 281.9 300.4 C282.2 299.1 282.5 297.8 282.8 296.5 C283.1 295.2 283.4 293.9 283.6 292.6 C283.9 291.3 284.2 290.0 284.5 288.7 C284.7 287.4 285.0 286.1 285.2 284.8 C285.5 283.5 285.7 282.2 285.9 280.9 C286.2 279.5 286.4 278.2 286.7 276.9 C287.0 275.6 287.2 274.3 287.5 273.0 C287.8 271.7 288.1 270.4 288.4 269.1 C288.8 267.8 289.1 266.5 289.4 265.3 C289.8 264.0 290.1 262.7 290.4 261.4 C290.8 260.1 291.1 258.8 291.4 257.5 C291.8 256.2 292.1 254.9 292.4 253.6 C292.7 252.3 293.0 251.0 293.3 249.7 C293.6 248.4 293.8 247.1 294.1 245.8 C294.4 244.5 294.7 243.2 295.0 241.9 C295.2 240.6 295.5 239.3 295.8 238.0 C296.1 236.7 296.3 235.4 296.6 234.1 C296.9 232.8 297.2 231.5 297.4 230.2 C297.7 228.9 298.0 227.5 298.3 226.2 C298.5 224.9 298.8 223.6 299.0 222.3 C299.3 221.0 299.5 219.7 299.8 218.4 C300.1 217.1 300.4 215.8 300.7 214.5 C301.0 213.2 301.4 211.9 301.7 210.6 C302.1 209.3 302.4 208.1 302.8 206.8 C303.1 205.5 303.5 204.2 303.8 202.9 C304.2 201.6 304.5 200.3 304.9 199.1 C305.3 197.8 305.6 196.5 306.0 195.2 C306.4 193.9 306.8 192.7 307.1 191.4 C307.5 190.1 307.9 188.8 308.3 187.6 C308.7 186.3 309.1 185.0 309.5 183.7 C309.9 182.5 310.4 181.2 310.8 179.9 C311.2 178.7 311.6 177.4 312.1 176.2 C312.5 174.9 313.0 173.6 313.4 172.4 C313.9 171.1 314.3 169.9 314.8 168.7 C315.3 167.4 315.8 166.2 316.4 165.0 C316.9 163.7 317.4 162.5 318.0 161.3 C318.6 160.1 319.1 158.9 319.8 157.7 C320.4 156.5 321.0 155.4 321.7 154.2 C322.4 153.1 323.0 151.9 323.7 150.8 C324.4 149.6 325.1 148.5 325.9 147.4 C326.7 146.4 327.5 145.3 328.5 144.4 C329.5 143.6 330.7 142.9 331.9 142.3 C333.1 141.8 334.4 141.4 335.7 141.1 C336.9 140.8 338.3 140.7 339.6 140.5 C340.9 140.3 342.2 140.1 343.6 140.0 C344.9 139.8 346.2 139.6 347.5 139.5 C348.9 139.4 350.2 139.3 351.5 139.2 C352.9 139.1 354.2 139.0 355.5 139.0 C356.9 138.9 358.2 138.8 359.5 138.8 C360.8 138.7 362.2 138.6 363.5 138.6 C364.8 138.5 366.2 138.5 367.5 138.4 C368.8 138.4 370.2 138.3 371.5 138.3 C372.8 138.3 374.2 138.2 375.5 138.2 C376.8 138.1 378.2 138.1 379.5 138.1 C380.8 138.1 382.2 138.0 383.5 138.0 C384.8 138.0 386.2 138.0 387.5 137.9 C388.8 137.9 390.2 137.9 391.5 137.9 C392.8 137.9 394.2 137.8 395.5 137.8 C396.8 137.8 398.2 137.8 399.5 137.8 C400.8 137.8 402.7 137.7 403.5 137.7 C404.3 137.7 404.2 137.7 404.4 137.7" fill="none" stroke="#2424c8" stroke-width="2.1" stroke-linejoin="round"/></g><path d="M102.39 355.50v-4.50M102.39 4.50v4.50M117.48 355.50v-4.50M117.48 4.50v4.50M132.57 355.50v-4.50M132.57 4.50v4.50M147.66 355.50v-9.00M147.66 4.50v9.00M162.75 355.50v-4.50M162.75 4.50v4.50M177.85 355.50v-4.50M177.85 4.50v4.50M192.94 355.50v-4.50M192.94 4.50v4.50M208.03 355.50v-9.00M208.03 4.50v9.00M223.12 355.50v-4.50M223.12 4.50v4.50M238.21 355.50v-4.50M238.21 4.50v4.50M253.30 355.50v-4.50M253.30 4.50v4.50M268.39 355.50v-9.00M268.39 4.50v9.00M283.48 355.50v-4.50M283.48 4.50v4.50M298.57 355.50v-4.50M298.57 4.50v4.50M313.66 355.50v-4.50M313.66 4.50v4.50M328.75 355.50v-9.00M328.75 4.50v9.00M343.85 355.50v-4.50M343.85 4.50v4.50M358.94 355.50v-4.50M358.94 4.50v4.50M374.03 355.50v-4.50M374.03 4.50v4.50M389.12 355.50v-9.00M389.12 4.50v9.00M404.21 355.50v-4.50M404.21 4.50v4.50M87.30 328.50h4.50M419.30 328.50h-4.50M87.30 301.50h9.00M419.30 301.50h-9.00M87.30 274.50h4.50M419.30 274.50h-4.50M87.30 247.50h9.00M419.30 247.50h-9.00M87.30 220.50h4.50M419.30 220.50h-4.50M87.30 193.50h9.00M419.30 193.50h-9.00M87.30 166.50h4.50M419.30 166.50h-4.50M87.30 139.50h9.00M419.30 139.50h-9.00M87.30 112.50h4.50M419.30 112.50h-4.50M87.30 85.50h9.00M419.30 85.50h-9.00M87.30 58.50h4.50M419.30 58.50h-4.50M87.30 31.50h9.00M419.30 31.50h-9.00" stroke="#333333" stroke-width="2" fill="none"/><rect x="87.30" y="4.50" width="332.00" height="351.00" fill="none" stroke="#333333" stroke-width="2.2"/><g font-family='"Liberation Sans", sans-serif' font-weight="bold" font-size="19.2" fill="#0c0c0c" stroke="#0c0c0c" stroke-width="0.3"><text transform="translate(77.00 361.30) scale(1.0 1)" text-anchor="end">-400</text><text transform="translate(77.00 307.30) scale(1.0 1)" text-anchor="end">-300</text><text transform="translate(77.00 253.30) scale(1.0 1)" text-anchor="end">-200</text><text transform="translate(77.00 199.30) scale(1.0 1)" text-anchor="end">-100</text><text transform="translate(77.00 145.30) scale(1.0 1)" text-anchor="end">0</text><text transform="translate(77.00 91.30) scale(1.0 1)" text-anchor="end">100</text><text transform="translate(77.00 37.30) scale(1.0 1)" text-anchor="end">200</text><text transform="translate(87.30 380.90) scale(1.01 1)" text-anchor="middle">0.8</text><text transform="translate(147.66 380.90) scale(1.01 1)" text-anchor="middle">0.6</text><text transform="translate(208.03 380.90) scale(1.01 1)" text-anchor="middle">0.4</text><text transform="translate(268.39 380.90) scale(1.01 1)" text-anchor="middle">0.2</text><text transform="translate(328.75 380.90) scale(1.01 1)" text-anchor="middle">0.0</text><text transform="translate(389.12 380.90) scale(1.01 1)" text-anchor="middle">-0.2</text></g><text transform="translate(253.30 409.50) scale(1.04 1)" text-anchor="middle" font-family='"Liberation Sans", sans-serif' font-weight="bold" font-size="23.5" fill="#0c0c0c" stroke="#0c0c0c" stroke-width="0.4">E / V vs. SCE</text><text transform="translate(27.80 180.00) rotate(-90)" text-anchor="middle" font-family='"Liberation Sans", sans-serif' font-weight="bold" font-size="24" fill="#0c0c0c">j / μA cm<tspan font-size="18" dy="-13">-2</tspan></text><text x="109.10" y="41.50" font-family='"Liberation Sans", sans-serif' font-weight="bold" font-size="35" fill="#000">a</text><text transform="translate(100.50 328.60) scale(1.05 1)" font-family='"Liberation Sans", sans-serif' font-weight="bold" font-size="16" fill="#151515">10 mM glucose</text></g>
<g><clipPath id="cb"><rect x="517.30" y="4.40" width="332.00" height="351.00"/></clipPath><g clip-path="url(#cb)"><line x1="517.30" y1="96.77" x2="849.30" y2="96.77" stroke="#222" stroke-width="2"/><path d="M533.1 109.5 C533.6 109.1 535.1 107.7 536.2 107.0 C537.3 106.3 538.5 105.6 539.7 105.1 C540.9 104.6 542.2 104.3 543.5 104.0 C544.8 103.7 546.2 103.6 547.5 103.4 C548.8 103.2 550.1 103.1 551.5 102.9 C552.8 102.8 554.1 102.6 555.4 102.5 C556.8 102.3 558.1 102.2 559.4 102.1 C560.7 102.0 562.1 101.9 563.4 101.8 C564.7 101.7 566.1 101.6 567.4 101.6 C568.7 101.5 570.1 101.4 571.4 101.4 C572.7 101.3 574.1 101.3 575.4 101.2 C576.7 101.2 578.1 101.1 579.4 101.1 C580.7 101.0 582.0 101.0 583.4 101.0 C584.7 100.9 586.0 100.9 587.4 100.9 C588.7 100.8 590.0 100.8 591.4 100.8 C592.7 100.7 594.0 100.7 595.4 100.7 C596.7 100.6 598.0 100.6 599.4 100.5 C600.7 100.5 602.0 100.5 603.4 100.4 C604.7 100.4 606.0 100.3 607.4 100.3 C608.7 100.3 610.0 100.2 611.4 100.2 C612.7 100.1 614.0 100.1 615.4 100.0 C616.7 99.9 618.0 99.9 619.4 99.8 C620.7 99.8 622.0 99.7 623.4 99.6 C624.7 99.6 626.0 99.5 627.4 99.4 C628.7 99.4 630.0 99.3 631.3 99.2 C632.7 99.2 634.0 99.1 635.3 99.0 C636.7 98.9 638.0 98.8 639.3 98.7 C640.7 98.7 642.0 98.6 643.3 98.5 C644.7 98.4 646.0 98.3 647.3 98.2 C648.6 98.1 650.0 98.0 651.3 97.9 C652.6 97.8 654.0 97.6 655.3 97.5 C656.6 97.4 657.9 97.2 659.3 97.1 C660.6 97.0 661.9 96.8 663.2 96.7 C664.6 96.5 665.9 96.4 667.2 96.3 C668.5 96.1 669.9 95.9 671.2 95.6 C672.4 95.3 673.7 94.9 675.0 94.4 C676.2 93.9 677.4 93.4 678.6 92.7 C679.8 92.1 680.9 91.3 681.9 90.5 C683.0 89.7 684.0 88.8 685.0 88.0 C686.0 87.1 687.0 86.3 688.0 85.4 C689.0 84.5 690.0 83.5 690.9 82.6 C691.8 81.6 692.7 80.6 693.6 79.6 C694.5 78.6 695.3 77.6 696.2 76.6 C697.0 75.6 697.8 74.5 698.6 73.4 C699.4 72.4 700.2 71.3 701.0 70.2 C701.7 69.1 702.5 68.0 703.2 66.9 C703.9 65.8 704.7 64.7 705.4 63.5 C706.0 62.4 706.7 61.2 707.2 60.0 C707.8 58.8 708.3 57.5 708.8 56.3 C709.4 55.1 709.9 53.8 710.4 52.6 C710.9 51.4 711.4 50.2 712.0 49.0 C712.5 47.7 713.1 46.5 713.6 45.3 C714.2 44.1 714.7 42.9 715.2 41.6 C715.8 40.4 716.3 39.2 716.9 38.0 C717.5 36.8 718.1 35.6 718.6 34.4 C719.2 33.2 719.9 32.0 720.5 30.8 C721.1 29.7 721.6 28.5 722.3 27.3 C722.9 26.1 723.6 24.9 724.3 23.9 C725.1 22.8 726.0 21.7 726.9 20.9 C727.9 20.0 729.1 19.2 730.2 18.7 C731.4 18.1 732.7 17.7 733.9 17.8 C735.1 18.0 736.3 18.8 737.4 19.5 C738.5 20.3 739.3 21.3 740.3 22.3 C741.2 23.3 742.1 24.3 742.9 25.3 C743.8 26.3 744.6 27.3 745.5 28.4 C746.3 29.4 747.1 30.5 747.9 31.6 C748.7 32.7 749.4 33.7 750.2 34.8 C751.0 35.9 751.8 37.0 752.6 38.1 C753.3 39.1 754.1 40.2 754.9 41.3 C755.7 42.4 756.5 43.5 757.3 44.5 C758.1 45.5 759.0 46.5 759.9 47.5 C760.8 48.5 761.7 49.5 762.6 50.5 C763.5 51.4 764.4 52.5 765.3 53.5 C766.2 54.4 767.1 55.4 768.0 56.3 C769.0 57.2 770.1 58.1 771.1 58.9 C772.2 59.7 773.2 60.5 774.3 61.3 C775.4 62.1 776.5 62.9 777.6 63.6 C778.7 64.3 779.8 65.1 780.9 65.8 C782.1 66.4 783.3 67.0 784.5 67.6 C785.7 68.1 787.0 68.5 788.2 69.0 C789.5 69.5 790.8 69.9 792.0 70.3 C793.3 70.8 794.5 71.3 795.7 71.8 C797.0 72.2 798.3 72.7 799.5 73.1 C800.8 73.5 802.1 73.9 803.3 74.3 C804.6 74.6 805.9 75.0 807.2 75.3 C808.5 75.6 809.8 75.8 811.1 76.1 C812.4 76.4 813.7 76.7 815.0 76.9 C816.3 77.2 817.6 77.5 818.9 77.8 C820.3 78.0 821.6 78.3 822.9 78.5 C824.2 78.8 825.5 79.0 826.8 79.2 C828.1 79.4 829.5 79.6 830.8 79.9 C832.0 80.2 833.8 80.6 834.4 80.8" fill="none" stroke="#303030" stroke-width="2.5" stroke-dasharray="4.5 4" stroke-linejoin="round"/><path d="M533.1 109.5 C533.7 109.3 535.6 108.8 536.9 108.4 C538.2 108.1 539.5 107.7 540.8 107.5 C542.1 107.2 543.5 107.0 544.8 106.8 C546.1 106.7 547.4 106.6 548.8 106.4 C550.1 106.3 551.4 106.3 552.7 106.2 C554.1 106.1 555.4 106.1 556.7 106.1 C558.1 106.0 559.4 106.0 560.7 106.0 C562.1 105.9 563.4 105.9 564.7 105.9 C566.1 105.9 567.4 105.9 568.7 105.9 C570.1 105.9 571.4 105.9 572.7 105.9 C574.1 105.9 575.4 105.9 576.7 106.0 C578.1 106.0 579.4 106.0 580.7 106.1 C582.1 106.1 583.4 106.2 584.7 106.2 C586.1 106.3 587.4 106.3 588.7 106.4 C590.1 106.5 591.4 106.5 592.7 106.6 C594.1 106.7 595.4 106.8 596.7 106.9 C598.0 107.0 599.4 107.1 600.7 107.2 C602.0 107.3 603.4 107.4 604.7 107.5 C606.0 107.6 607.3 107.7 608.7 107.8 C610.0 108.0 611.3 108.1 612.7 108.2 C614.0 108.4 615.3 108.5 616.6 108.7 C618.0 108.8 619.3 109.0 620.6 109.2 C621.9 109.3 623.2 109.5 624.6 109.7 C625.9 109.9 627.2 110.1 628.5 110.3 C629.8 110.6 631.1 110.8 632.5 111.0 C633.8 111.3 635.1 111.5 636.4 111.8 C637.7 112.1 639.0 112.5 640.3 112.8 C641.5 113.1 642.8 113.5 644.1 113.8 C645.4 114.2 646.7 114.6 647.9 115.0 C649.2 115.4 650.5 115.9 651.7 116.4 C652.9 116.9 654.1 117.4 655.4 118.0 C656.6 118.6 657.7 119.2 658.9 119.8 C660.1 120.4 661.3 121.0 662.4 121.7 C663.6 122.4 664.7 123.2 665.7 124.0 C666.8 124.8 667.7 125.7 668.7 126.6 C669.7 127.6 670.6 128.5 671.5 129.5 C672.4 130.4 673.3 131.4 674.2 132.4 C675.1 133.4 676.0 134.4 676.7 135.5 C677.5 136.6 678.2 137.7 678.9 138.9 C679.6 140.0 680.3 141.2 680.9 142.4 C681.5 143.5 682.0 144.8 682.6 146.0 C683.2 147.2 683.8 148.4 684.3 149.6 C684.9 150.8 685.6 151.9 686.2 153.1 C686.7 154.3 687.3 155.6 687.7 156.8 C688.2 158.1 688.5 159.3 688.9 160.6 C689.3 161.9 689.6 163.2 690.0 164.5 C690.4 165.7 690.8 167.0 691.2 168.3 C691.7 169.5 692.2 170.8 692.7 172.0 C693.2 173.2 693.8 174.4 694.3 175.7 C694.8 176.9 695.4 178.1 695.9 179.3 C696.4 180.6 697.0 181.8 697.5 183.0 C698.0 184.2 698.3 185.5 698.8 186.8 C699.2 188.0 699.6 189.3 700.2 190.5 C700.7 191.7 701.4 192.9 702.1 194.0 C702.9 195.0 703.8 196.2 704.9 196.8 C705.9 197.5 707.3 197.9 708.4 197.7 C709.6 197.5 710.7 196.5 711.7 195.6 C712.7 194.8 713.5 193.7 714.3 192.6 C715.0 191.5 715.6 190.3 716.2 189.1 C716.7 187.9 717.1 186.6 717.6 185.3 C718.1 184.1 718.5 182.8 719.0 181.6 C719.4 180.3 719.9 179.1 720.3 177.8 C720.7 176.6 721.2 175.3 721.6 174.0 C722.0 172.8 722.5 171.5 722.9 170.2 C723.3 169.0 723.7 167.7 724.1 166.4 C724.5 165.2 724.9 163.9 725.3 162.6 C725.6 161.3 726.0 160.0 726.3 158.7 C726.6 157.5 727.0 156.2 727.3 154.9 C727.6 153.6 728.0 152.3 728.3 151.0 C728.6 149.7 729.0 148.4 729.4 147.1 C729.7 145.8 730.1 144.6 730.4 143.3 C730.8 142.0 731.2 140.7 731.6 139.4 C732.0 138.2 732.3 136.9 732.7 135.6 C733.1 134.3 733.5 133.1 734.0 131.8 C734.4 130.5 734.8 129.3 735.2 128.0 C735.7 126.8 736.1 125.5 736.6 124.3 C737.0 123.0 737.5 121.8 738.0 120.5 C738.5 119.3 738.9 118.0 739.5 116.8 C740.0 115.6 740.6 114.4 741.2 113.2 C741.8 112.0 742.5 110.9 743.2 109.8 C744.0 108.6 744.7 107.5 745.6 106.6 C746.6 105.7 747.8 105.1 748.8 104.3 C749.9 103.5 751.0 102.8 752.0 101.9 C753.0 101.1 753.9 100.1 755.0 99.3 C756.0 98.4 757.0 97.6 758.1 96.8 C759.2 96.1 760.4 95.3 761.6 94.8 C762.8 94.3 764.1 93.9 765.3 93.6 C766.6 93.3 768.0 93.1 769.3 92.8 C770.6 92.5 771.9 92.2 773.2 91.9 C774.5 91.6 775.8 91.3 777.1 91.1 C778.4 90.9 779.7 90.7 781.0 90.5 C782.4 90.3 783.7 90.3 785.0 90.1 C786.3 89.9 787.7 89.7 789.0 89.5 C790.3 89.3 791.6 89.1 792.9 88.9 C794.2 88.7 795.6 88.5 796.9 88.3 C798.2 88.1 799.5 88.0 800.8 87.8 C802.2 87.6 803.5 87.5 804.8 87.3 C806.1 87.1 807.5 86.9 808.8 86.7 C810.1 86.5 811.4 86.2 812.7 86.0 C814.0 85.7 815.3 85.4 816.6 85.1 C817.9 84.9 819.2 84.7 820.6 84.5 C821.9 84.3 823.2 84.1 824.5 83.8 C825.8 83.5 827.1 83.1 828.3 82.7 C829.6 82.3 831.1 81.8 832.2 81.5 C833.2 81.2 834.0 80.9 834.4 80.8" fill="none" stroke="#303030" stroke-width="2.5" stroke-dasharray="4.5 4" stroke-linejoin="round"/><path d="M532.4 135.4 C533.0 135.2 534.9 134.6 536.2 134.2 C537.5 133.8 538.7 133.3 540.0 132.9 C541.3 132.5 542.5 132.1 543.8 131.8 C545.1 131.4 546.4 131.1 547.7 130.9 C549.0 130.6 550.3 130.3 551.7 130.1 C553.0 129.9 554.3 129.8 555.6 129.7 C557.0 129.5 558.3 129.4 559.6 129.4 C560.9 129.3 562.3 129.2 563.6 129.2 C564.9 129.1 566.3 129.1 567.6 129.0 C568.9 129.0 570.3 128.9 571.6 128.9 C572.9 128.9 574.3 128.9 575.6 128.8 C576.9 128.8 578.3 128.8 579.6 128.8 C580.9 128.8 582.3 128.7 583.6 128.7 C584.9 128.7 586.3 128.7 587.6 128.6 C588.9 128.6 590.3 128.6 591.6 128.6 C592.9 128.5 594.3 128.5 595.6 128.5 C596.9 128.5 598.3 128.4 599.6 128.4 C600.9 128.4 602.3 128.4 603.6 128.4 C604.9 128.4 606.3 128.4 607.6 128.3 C608.9 128.3 610.3 128.3 611.6 128.3 C612.9 128.3 614.3 128.3 615.6 128.3 C616.9 128.3 618.3 128.2 619.6 128.2 C620.9 128.2 622.3 128.2 623.6 128.2 C624.9 128.1 626.3 128.1 627.6 128.1 C628.9 128.0 630.3 128.0 631.6 128.0 C632.9 127.9 634.3 127.9 635.6 127.8 C636.9 127.7 638.3 127.7 639.6 127.6 C640.9 127.5 642.2 127.4 643.6 127.3 C644.9 127.2 646.2 127.1 647.6 127.0 C648.9 126.9 650.2 126.8 651.6 126.7 C652.9 126.6 654.2 126.5 655.5 126.4 C656.9 126.2 658.2 126.1 659.5 125.9 C660.8 125.8 662.2 125.6 663.5 125.4 C664.8 125.1 666.1 124.9 667.4 124.7 C668.7 124.4 670.0 124.1 671.3 123.8 C672.6 123.5 673.9 123.1 675.2 122.7 C676.4 122.3 677.7 121.8 678.9 121.2 C680.1 120.7 681.3 120.0 682.4 119.3 C683.5 118.7 684.6 117.9 685.7 117.1 C686.7 116.3 687.8 115.4 688.7 114.5 C689.7 113.6 690.6 112.6 691.5 111.6 C692.4 110.7 693.3 109.6 694.1 108.6 C694.9 107.5 695.7 106.5 696.5 105.4 C697.3 104.3 698.1 103.2 698.8 102.1 C699.6 101.0 700.3 99.9 701.0 98.7 C701.6 97.6 702.3 96.4 702.9 95.2 C703.5 94.1 704.1 92.9 704.8 91.7 C705.4 90.5 705.9 89.3 706.5 88.1 C707.1 86.9 707.7 85.7 708.3 84.5 C708.9 83.3 709.5 82.1 710.1 80.9 C710.7 79.8 711.3 78.6 711.9 77.4 C712.6 76.2 713.2 75.0 713.8 73.9 C714.5 72.7 715.1 71.5 715.8 70.4 C716.5 69.3 717.2 68.1 717.9 67.0 C718.7 65.9 719.5 64.9 720.4 63.8 C721.2 62.8 722.1 61.8 723.1 60.9 C724.0 60.0 725.1 59.1 726.2 58.4 C727.3 57.8 728.5 57.2 729.8 56.8 C731.1 56.5 732.4 56.3 733.7 56.4 C735.0 56.4 736.4 56.7 737.6 57.2 C738.8 57.7 739.9 58.4 741.0 59.2 C742.0 60.0 742.9 61.1 743.8 62.0 C744.8 63.0 745.6 64.0 746.5 65.0 C747.4 66.0 748.3 67.0 749.2 67.9 C750.1 68.9 751.0 70.0 751.9 70.9 C752.8 71.9 753.7 72.9 754.6 73.9 C755.5 74.8 756.4 75.8 757.4 76.7 C758.4 77.6 759.4 78.5 760.4 79.3 C761.5 80.1 762.6 80.8 763.8 81.5 C764.9 82.1 766.2 82.7 767.4 83.2 C768.6 83.8 769.8 84.3 771.1 84.8 C772.3 85.3 773.6 85.7 774.8 86.2 C776.1 86.6 777.4 87.0 778.6 87.3 C779.9 87.7 781.2 88.0 782.5 88.3 C783.8 88.5 785.1 88.8 786.5 89.0 C787.8 89.3 789.1 89.5 790.4 89.7 C791.7 89.9 793.0 90.1 794.4 90.3 C795.7 90.4 797.0 90.6 798.3 90.7 C799.7 90.8 801.0 91.0 802.3 91.1 C803.6 91.2 805.0 91.3 806.3 91.4 C807.6 91.5 809.0 91.6 810.3 91.7 C811.6 91.8 813.0 91.9 814.3 92.0 C815.6 92.1 816.9 92.2 818.3 92.3 C819.6 92.3 820.9 92.4 822.3 92.5 C823.6 92.6 824.9 92.6 826.3 92.7 C827.6 92.8 828.9 92.8 830.3 92.9 C831.6 93.0 833.8 93.1 834.5 93.1" fill="none" stroke="#303030" stroke-width="2.1" stroke-linejoin="round"/><path d="M532.4 135.4 C533.0 135.3 535.0 134.9 536.3 134.7 C537.6 134.5 539.0 134.2 540.3 134.0 C541.6 133.8 542.9 133.6 544.2 133.4 C545.5 133.2 546.9 133.1 548.2 132.9 C549.5 132.8 550.9 132.7 552.2 132.7 C553.5 132.6 554.8 132.6 556.2 132.5 C557.5 132.5 558.8 132.5 560.2 132.5 C561.5 132.5 562.8 132.5 564.2 132.6 C565.5 132.6 566.8 132.6 568.2 132.6 C569.5 132.7 570.8 132.7 572.2 132.7 C573.5 132.8 574.8 132.8 576.2 132.9 C577.5 132.9 578.8 133.0 580.2 133.0 C581.5 133.1 582.8 133.1 584.2 133.2 C585.5 133.3 586.8 133.3 588.2 133.4 C589.5 133.5 590.8 133.6 592.2 133.7 C593.5 133.7 594.8 133.8 596.1 134.0 C597.5 134.1 598.8 134.2 600.1 134.3 C601.5 134.4 602.8 134.6 604.1 134.7 C605.4 134.8 606.8 135.0 608.1 135.1 C609.4 135.3 610.7 135.5 612.1 135.6 C613.4 135.8 614.7 136.0 616.0 136.2 C617.3 136.4 618.7 136.5 620.0 136.7 C621.3 136.9 622.6 137.1 623.9 137.4 C625.2 137.6 626.6 137.8 627.9 138.1 C629.2 138.4 630.5 138.7 631.8 139.0 C633.1 139.3 634.3 139.7 635.6 140.1 C636.9 140.5 638.2 140.9 639.4 141.3 C640.7 141.7 641.9 142.2 643.2 142.7 C644.4 143.2 645.6 143.7 646.9 144.2 C648.1 144.7 649.3 145.3 650.5 145.9 C651.7 146.4 652.9 147.0 654.1 147.7 C655.2 148.3 656.4 149.0 657.5 149.7 C658.6 150.5 659.7 151.2 660.8 152.0 C661.8 152.8 662.9 153.7 663.9 154.5 C664.9 155.4 665.9 156.3 666.8 157.2 C667.8 158.2 668.6 159.2 669.5 160.2 C670.4 161.2 671.1 162.3 672.0 163.4 C672.8 164.4 673.6 165.5 674.4 166.5 C675.3 167.5 676.2 168.5 677.1 169.5 C678.0 170.5 678.9 171.4 679.8 172.5 C680.6 173.5 681.5 174.5 682.3 175.6 C683.1 176.6 683.9 177.7 684.6 178.8 C685.4 179.9 686.1 181.0 686.9 182.1 C687.7 183.2 688.4 184.3 689.2 185.4 C690.0 186.4 690.8 187.5 691.7 188.5 C692.5 189.6 693.3 190.7 694.2 191.7 C695.0 192.7 695.9 193.7 696.9 194.6 C697.9 195.4 699.0 196.3 700.2 196.7 C701.4 197.1 702.9 197.2 704.1 197.0 C705.3 196.8 706.6 196.2 707.6 195.5 C708.6 194.7 709.4 193.5 710.2 192.4 C711.0 191.4 711.6 190.2 712.3 189.1 C713.0 187.9 713.6 186.7 714.2 185.5 C714.8 184.3 715.4 183.1 715.9 181.9 C716.4 180.7 716.9 179.5 717.4 178.2 C717.9 177.0 718.3 175.7 718.7 174.4 C719.2 173.2 719.6 171.9 720.0 170.6 C720.4 169.4 720.8 168.1 721.2 166.8 C721.6 165.6 722.0 164.3 722.5 163.0 C722.9 161.8 723.3 160.5 723.7 159.2 C724.1 158.0 724.5 156.7 724.9 155.4 C725.3 154.2 725.7 152.9 726.1 151.6 C726.5 150.3 726.9 149.1 727.4 147.8 C727.8 146.5 728.2 145.3 728.6 144.0 C729.0 142.7 729.4 141.5 729.8 140.2 C730.3 138.9 730.7 137.7 731.1 136.4 C731.6 135.2 732.0 133.9 732.4 132.6 C732.9 131.4 733.3 130.1 733.8 128.9 C734.3 127.6 734.8 126.4 735.3 125.2 C735.8 123.9 736.4 122.7 736.9 121.5 C737.5 120.3 738.1 119.1 738.7 117.9 C739.3 116.7 739.9 115.6 740.6 114.4 C741.2 113.2 741.9 112.1 742.6 111.0 C743.3 109.8 744.1 108.7 744.9 107.7 C745.7 106.6 746.6 105.6 747.5 104.6 C748.4 103.7 749.4 102.8 750.5 102.0 C751.5 101.2 752.6 100.4 753.8 99.8 C755.0 99.2 756.2 98.7 757.5 98.3 C758.7 97.9 760.1 97.6 761.4 97.4 C762.7 97.1 764.0 96.9 765.3 96.8 C766.6 96.6 768.0 96.6 769.3 96.6 C770.6 96.5 772.0 96.5 773.3 96.5 C774.6 96.4 776.0 96.4 777.3 96.4 C778.6 96.4 780.0 96.4 781.3 96.4 C782.6 96.4 784.0 96.4 785.3 96.4 C786.6 96.4 788.0 96.4 789.3 96.4 C790.6 96.3 792.0 96.3 793.3 96.3 C794.6 96.3 796.0 96.3 797.3 96.3 C798.6 96.3 800.0 96.3 801.3 96.3 C802.6 96.3 804.0 96.3 805.3 96.3 C806.6 96.2 808.0 96.2 809.3 96.2 C810.6 96.2 812.0 96.2 813.3 96.2 C814.6 96.2 816.0 96.2 817.3 96.2 C818.6 96.1 820.0 96.1 821.3 96.1 C822.6 96.1 824.0 96.1 825.3 96.1 C826.6 96.1 828.0 96.1 829.3 96.0 C830.6 96.0 832.4 96.0 833.3 96.0 C834.2 96.0 834.3 96.0 834.5 96.0" fill="none" stroke="#303030" stroke-width="2.1" stroke-linejoin="round"/><path d="M532.4 218.5 C533.0 218.3 535.0 217.8 536.2 217.4 C537.5 217.0 538.8 216.7 540.1 216.3 C541.4 216.0 542.7 215.6 544.0 215.3 C545.3 215.0 546.6 214.7 547.9 214.5 C549.2 214.2 550.5 214.0 551.8 213.8 C553.1 213.6 554.5 213.5 555.8 213.4 C557.1 213.2 558.4 213.1 559.8 213.0 C561.1 212.9 562.4 212.9 563.8 212.8 C565.1 212.7 566.4 212.7 567.8 212.6 C569.1 212.6 570.4 212.5 571.8 212.5 C573.1 212.4 574.4 212.4 575.8 212.3 C577.1 212.3 578.4 212.2 579.8 212.2 C581.1 212.1 582.4 212.1 583.7 212.1 C585.1 212.0 586.4 211.9 587.7 211.9 C589.1 211.8 590.4 211.8 591.7 211.7 C593.1 211.6 594.4 211.6 595.7 211.5 C597.1 211.5 598.4 211.4 599.7 211.3 C601.1 211.3 602.4 211.2 603.7 211.2 C605.1 211.1 606.4 211.0 607.7 211.0 C609.1 210.9 610.4 210.8 611.7 210.8 C613.1 210.7 614.4 210.7 615.7 210.6 C617.0 210.5 618.4 210.5 619.7 210.4 C621.0 210.3 622.4 210.2 623.7 210.1 C625.0 210.1 626.4 210.0 627.7 209.9 C629.0 209.8 630.4 209.7 631.7 209.6 C633.0 209.5 634.3 209.4 635.7 209.3 C637.0 209.2 638.3 209.1 639.7 209.0 C641.0 208.9 642.3 208.8 643.6 208.7 C645.0 208.6 646.3 208.4 647.6 208.3 C649.0 208.1 650.3 208.0 651.6 207.8 C652.9 207.6 654.2 207.5 655.6 207.3 C656.9 207.1 658.2 206.8 659.5 206.6 C660.8 206.4 662.1 206.1 663.4 205.8 C664.7 205.6 666.0 205.3 667.3 204.9 C668.6 204.5 669.9 204.1 671.1 203.7 C672.4 203.2 673.6 202.7 674.8 202.2 C676.0 201.6 677.2 201.0 678.4 200.3 C679.5 199.7 680.6 198.9 681.7 198.1 C682.8 197.4 683.8 196.5 684.8 195.6 C685.8 194.7 686.8 193.8 687.6 192.8 C688.5 191.8 689.4 190.8 690.2 189.7 C691.0 188.6 691.8 187.6 692.5 186.4 C693.2 185.3 693.9 184.2 694.6 183.0 C695.2 181.9 695.8 180.7 696.3 179.4 C696.9 178.2 697.4 177.0 697.8 175.7 C698.3 174.5 698.8 173.3 699.2 172.0 C699.7 170.7 700.1 169.5 700.5 168.2 C700.9 166.9 701.3 165.7 701.7 164.4 C702.1 163.1 702.5 161.8 702.9 160.6 C703.3 159.3 703.7 158.0 704.1 156.8 C704.5 155.5 704.9 154.2 705.4 153.0 C705.8 151.7 706.2 150.4 706.6 149.2 C707.0 147.9 707.4 146.6 707.8 145.4 C708.2 144.1 708.7 142.8 709.1 141.5 C709.5 140.3 709.9 139.0 710.3 137.7 C710.8 136.5 711.2 135.2 711.6 134.0 C712.1 132.7 712.5 131.5 713.0 130.2 C713.5 129.0 713.9 127.7 714.4 126.5 C714.9 125.2 715.5 124.0 716.0 122.8 C716.5 121.6 717.1 120.4 717.6 119.1 C718.2 117.9 718.7 116.7 719.3 115.5 C719.9 114.3 720.5 113.1 721.2 112.0 C721.8 110.8 722.5 109.6 723.2 108.5 C723.9 107.4 724.6 106.3 725.5 105.2 C726.3 104.2 727.2 103.2 728.1 102.3 C729.1 101.4 730.2 100.5 731.2 99.8 C732.3 99.0 733.4 98.2 734.6 97.6 C735.7 96.9 736.9 96.3 738.1 95.8 C739.4 95.2 740.6 94.8 741.9 94.4 C743.2 94.0 744.5 93.7 745.8 93.5 C747.1 93.2 748.4 93.1 749.7 92.9 C751.1 92.8 752.4 92.7 753.7 92.6 C755.0 92.5 756.4 92.4 757.7 92.3 C759.0 92.3 760.4 92.2 761.7 92.2 C763.0 92.2 764.4 92.2 765.7 92.2 C767.0 92.3 768.4 92.4 769.7 92.4 C771.0 92.5 772.4 92.6 773.7 92.7 C775.0 92.7 776.4 92.8 777.7 92.8 C779.0 92.9 780.4 92.9 781.7 93.0 C783.0 93.0 784.4 93.0 785.7 93.1 C787.0 93.1 788.4 93.2 789.7 93.2 C791.0 93.2 792.4 93.2 793.7 93.3 C795.0 93.3 796.4 93.3 797.7 93.3 C799.0 93.4 800.4 93.4 801.7 93.4 C803.0 93.4 804.4 93.5 805.7 93.5 C807.0 93.5 808.4 93.5 809.7 93.6 C811.0 93.6 812.4 93.6 813.7 93.6 C815.0 93.7 816.4 93.7 817.7 93.7 C819.0 93.7 820.4 93.8 821.7 93.8 C823.0 93.8 824.3 93.8 825.7 93.8 C827.0 93.9 828.3 93.9 829.7 93.9 C831.0 93.9 832.9 94.0 833.7 94.0 C834.5 94.0 834.4 94.0 834.5 94.0" fill="none" stroke="#dc3844" stroke-width="2.1" stroke-linejoin="round"/><path d="M532.4 218.5 C533.0 218.4 535.0 218.0 536.3 217.7 C537.6 217.5 538.9 217.2 540.2 217.0 C541.6 216.7 542.9 216.5 544.2 216.3 C545.5 216.1 546.8 215.9 548.2 215.8 C549.5 215.7 550.8 215.5 552.1 215.5 C553.5 215.4 554.8 215.4 556.1 215.3 C557.5 215.3 558.8 215.3 560.1 215.3 C561.5 215.3 562.8 215.3 564.1 215.4 C565.5 215.4 566.8 215.4 568.1 215.5 C569.5 215.5 570.8 215.6 572.1 215.6 C573.5 215.6 574.8 215.7 576.1 215.8 C577.5 215.8 578.8 215.9 580.1 215.9 C581.5 216.0 582.8 216.0 584.1 216.1 C585.5 216.1 586.8 216.2 588.1 216.2 C589.5 216.3 590.8 216.3 592.1 216.4 C593.4 216.4 594.8 216.5 596.1 216.5 C597.4 216.6 598.8 216.6 600.1 216.7 C601.4 216.7 602.8 216.8 604.1 216.8 C605.4 216.9 606.8 216.9 608.1 217.0 C609.4 217.0 610.8 217.1 612.1 217.1 C613.4 217.2 614.8 217.3 616.1 217.3 C617.4 217.4 618.8 217.5 620.1 217.6 C621.4 217.7 622.7 217.8 624.1 217.9 C625.4 218.0 626.7 218.2 628.1 218.3 C629.4 218.4 630.7 218.6 632.0 218.7 C633.4 218.9 634.7 219.0 636.0 219.2 C637.3 219.4 638.6 219.6 640.0 219.8 C641.3 220.0 642.6 220.2 643.9 220.4 C645.2 220.7 646.5 220.9 647.8 221.2 C649.1 221.6 650.4 221.9 651.7 222.3 C653.0 222.6 654.2 223.1 655.5 223.5 C656.7 224.0 657.9 224.5 659.1 225.1 C660.3 225.7 661.5 226.3 662.7 227.0 C663.8 227.7 665.0 228.4 666.1 229.1 C667.2 229.8 668.3 230.6 669.4 231.3 C670.5 232.1 671.6 232.8 672.7 233.6 C673.8 234.4 674.8 235.2 675.8 236.1 C676.9 236.9 677.9 237.8 678.8 238.7 C679.8 239.6 680.8 240.5 681.8 241.4 C682.8 242.3 683.7 243.2 684.7 244.2 C685.7 245.1 686.6 246.0 687.5 247.0 C688.5 247.9 689.3 249.0 690.3 249.8 C691.3 250.7 692.4 251.7 693.5 252.2 C694.6 252.8 696.0 253.4 697.2 253.3 C698.4 253.3 699.8 252.8 700.8 252.1 C701.9 251.4 702.7 250.2 703.4 249.1 C704.1 248.0 704.7 246.8 705.3 245.6 C705.8 244.4 706.4 243.1 706.9 241.9 C707.4 240.7 707.9 239.4 708.3 238.2 C708.8 236.9 709.3 235.7 709.7 234.4 C710.1 233.2 710.5 231.9 711.0 230.6 C711.4 229.4 711.8 228.1 712.2 226.8 C712.6 225.6 713.0 224.3 713.4 223.0 C713.8 221.7 714.2 220.5 714.6 219.2 C714.9 217.9 715.3 216.6 715.7 215.3 C716.1 214.1 716.4 212.8 716.8 211.5 C717.2 210.2 717.6 208.9 717.9 207.7 C718.3 206.4 718.7 205.1 719.1 203.8 C719.5 202.6 719.9 201.3 720.3 200.0 C720.7 198.7 721.1 197.5 721.5 196.2 C721.9 194.9 722.3 193.7 722.6 192.4 C723.0 191.1 723.4 189.8 723.7 188.5 C724.1 187.2 724.4 186.0 724.7 184.7 C725.1 183.4 725.4 182.1 725.7 180.8 C726.0 179.5 726.2 178.2 726.5 176.9 C726.8 175.6 727.1 174.3 727.4 173.0 C727.7 171.7 728.0 170.4 728.3 169.1 C728.6 167.8 728.9 166.5 729.3 165.2 C729.6 163.9 729.9 162.6 730.2 161.3 C730.5 160.0 730.8 158.7 731.2 157.4 C731.5 156.1 731.9 154.8 732.2 153.5 C732.6 152.3 733.0 151.0 733.3 149.7 C733.7 148.4 734.1 147.1 734.4 145.9 C734.8 144.6 735.2 143.3 735.6 142.0 C735.9 140.7 736.3 139.5 736.7 138.2 C737.1 136.9 737.5 135.7 737.9 134.4 C738.4 133.1 738.8 131.9 739.3 130.6 C739.7 129.4 740.2 128.1 740.7 126.9 C741.2 125.7 741.8 124.4 742.3 123.2 C742.9 122.0 743.4 120.8 744.0 119.6 C744.6 118.4 745.2 117.2 745.8 116.0 C746.5 114.9 747.2 113.7 747.9 112.6 C748.6 111.5 749.4 110.4 750.2 109.4 C751.0 108.3 751.9 107.3 752.9 106.4 C753.8 105.5 754.9 104.6 755.9 103.8 C757.0 103.0 758.1 102.3 759.3 101.7 C760.5 101.1 761.7 100.5 762.9 100.0 C764.2 99.6 765.5 99.2 766.8 98.9 C768.1 98.6 769.4 98.4 770.7 98.2 C772.0 98.1 773.4 98.0 774.7 97.8 C776.0 97.7 777.3 97.7 778.7 97.6 C780.0 97.5 781.3 97.3 782.7 97.3 C784.0 97.2 785.3 97.1 786.7 97.1 C788.0 97.0 789.3 97.0 790.7 96.9 C792.0 96.9 793.3 96.9 794.7 96.9 C796.0 96.9 797.3 96.8 798.7 96.8 C800.0 96.8 801.3 96.8 802.7 96.7 C804.0 96.7 805.3 96.7 806.7 96.7 C808.0 96.7 809.3 96.6 810.7 96.6 C812.0 96.6 813.3 96.6 814.7 96.6 C816.0 96.5 817.3 96.5 818.7 96.5 C820.0 96.5 821.3 96.5 822.7 96.5 C824.0 96.4 825.3 96.4 826.7 96.4 C828.0 96.4 829.4 96.4 830.7 96.3 C831.9 96.3 833.7 96.3 834.4 96.3" fill="none" stroke="#dc3844" stroke-width="2.1" stroke-linejoin="round"/><path d="M532.4 265.0 C533.0 264.8 534.9 264.2 536.2 263.9 C537.5 263.5 538.8 263.1 540.1 262.7 C541.3 262.4 542.6 262.0 543.9 261.7 C545.2 261.4 546.5 261.1 547.8 260.8 C549.1 260.5 550.4 260.3 551.8 260.1 C553.1 259.9 554.4 259.8 555.7 259.7 C557.1 259.5 558.4 259.4 559.7 259.3 C561.0 259.2 562.4 259.2 563.7 259.1 C565.0 259.0 566.4 259.0 567.7 258.9 C569.0 258.9 570.4 258.8 571.7 258.8 C573.0 258.7 574.4 258.7 575.7 258.6 C577.0 258.6 578.4 258.6 579.7 258.5 C581.0 258.5 582.4 258.4 583.7 258.4 C585.0 258.3 586.4 258.3 587.7 258.2 C589.0 258.1 590.4 258.1 591.7 258.0 C593.0 257.9 594.4 257.9 595.7 257.8 C597.0 257.7 598.3 257.7 599.7 257.6 C601.0 257.5 602.3 257.5 603.7 257.4 C605.0 257.3 606.3 257.3 607.7 257.2 C609.0 257.1 610.3 257.0 611.7 257.0 C613.0 256.9 614.3 256.8 615.7 256.7 C617.0 256.6 618.3 256.5 619.6 256.4 C621.0 256.3 622.3 256.2 623.6 256.1 C625.0 256.0 626.3 255.9 627.6 255.7 C628.9 255.6 630.3 255.4 631.6 255.3 C632.9 255.1 634.2 254.9 635.6 254.7 C636.9 254.5 638.2 254.3 639.5 254.1 C640.8 253.9 642.1 253.7 643.5 253.5 C644.8 253.3 646.1 253.0 647.4 252.8 C648.7 252.6 650.0 252.3 651.3 252.1 C652.6 251.8 653.9 251.6 655.3 251.3 C656.6 251.1 657.9 250.8 659.2 250.6 C660.5 250.3 661.8 250.1 663.1 249.8 C664.4 249.5 665.7 249.2 667.0 248.8 C668.2 248.4 669.5 248.0 670.7 247.4 C672.0 246.9 673.2 246.4 674.4 245.7 C675.5 245.1 676.7 244.4 677.8 243.6 C678.8 242.9 679.9 242.1 680.9 241.2 C681.9 240.3 682.9 239.4 683.8 238.4 C684.7 237.4 685.5 236.4 686.3 235.4 C687.1 234.3 687.9 233.2 688.6 232.0 C689.3 230.9 690.0 229.8 690.6 228.6 C691.2 227.4 691.9 226.2 692.5 225.0 C693.1 223.9 693.7 222.7 694.2 221.5 C694.8 220.2 695.3 219.0 695.8 217.8 C696.4 216.6 696.8 215.3 697.3 214.1 C697.8 212.8 698.3 211.6 698.7 210.3 C699.2 209.1 699.6 207.8 700.1 206.6 C700.5 205.3 701.0 204.1 701.4 202.8 C701.8 201.5 702.2 200.3 702.6 199.0 C703.0 197.7 703.3 196.4 703.7 195.1 C704.1 193.9 704.4 192.6 704.8 191.3 C705.1 190.0 705.5 188.7 705.8 187.4 C706.2 186.1 706.5 184.9 706.9 183.6 C707.2 182.3 707.5 181.0 707.8 179.7 C708.2 178.4 708.5 177.1 708.8 175.8 C709.1 174.5 709.4 173.2 709.8 171.9 C710.1 170.6 710.4 169.3 710.8 168.0 C711.1 166.8 711.4 165.5 711.8 164.2 C712.1 162.9 712.5 161.6 712.8 160.3 C713.2 159.0 713.5 157.7 713.9 156.5 C714.2 155.2 714.6 153.9 715.0 152.6 C715.3 151.3 715.7 150.0 716.1 148.8 C716.5 147.5 716.8 146.2 717.2 144.9 C717.6 143.6 717.9 142.4 718.3 141.1 C718.7 139.8 719.0 138.5 719.4 137.2 C719.8 136.0 720.2 134.7 720.6 133.4 C721.0 132.1 721.4 130.9 721.9 129.6 C722.3 128.4 722.8 127.1 723.2 125.9 C723.7 124.6 724.2 123.4 724.8 122.2 C725.3 120.9 725.8 119.7 726.4 118.5 C727.0 117.3 727.6 116.1 728.2 114.9 C728.8 113.8 729.5 112.6 730.2 111.5 C730.9 110.3 731.6 109.2 732.4 108.2 C733.2 107.1 734.1 106.1 735.1 105.2 C736.0 104.3 737.1 103.4 738.1 102.6 C739.2 101.8 740.3 101.1 741.5 100.4 C742.6 99.8 743.8 99.1 745.0 98.5 C746.2 97.9 747.4 97.3 748.6 96.8 C749.8 96.3 751.1 95.9 752.4 95.6 C753.7 95.3 755.0 95.1 756.3 94.9 C757.7 94.7 759.0 94.6 760.3 94.4 C761.6 94.3 763.0 94.2 764.3 94.2 C765.6 94.1 767.0 94.0 768.3 94.0 C769.6 94.0 771.0 93.9 772.3 93.9 C773.6 93.9 775.0 93.9 776.3 93.9 C777.6 93.8 779.0 93.8 780.3 93.8 C781.6 93.8 783.0 93.8 784.3 93.8 C785.6 93.8 787.0 93.8 788.3 93.8 C789.6 93.8 791.0 93.8 792.3 93.8 C793.6 93.8 795.0 93.8 796.3 93.8 C797.6 93.8 799.0 93.8 800.3 93.8 C801.6 93.8 803.0 93.8 804.3 93.8 C805.6 93.8 807.0 93.8 808.3 93.8 C809.6 93.8 811.0 93.9 812.3 93.9 C813.6 93.9 815.0 93.9 816.3 93.9 C817.6 93.9 819.0 93.9 820.3 93.9 C821.6 93.9 823.0 93.9 824.3 93.9 C825.6 93.9 827.0 94.0 828.3 94.0 C829.6 94.0 831.3 94.0 832.3 94.0 C833.3 94.0 834.1 94.0 834.5 94.0" fill="none" stroke="#2424c8" stroke-width="2.1" stroke-linejoin="round"/><path d="M532.4 265.0 C533.0 264.9 535.0 264.6 536.3 264.4 C537.7 264.2 539.0 263.9 540.3 263.7 C541.6 263.5 542.9 263.4 544.3 263.2 C545.6 263.0 546.9 262.9 548.2 262.8 C549.6 262.7 550.9 262.7 552.2 262.6 C553.6 262.6 554.9 262.6 556.2 262.6 C557.6 262.6 558.9 262.7 560.2 262.7 C561.6 262.8 562.9 262.8 564.2 262.9 C565.6 262.9 566.9 263.0 568.2 263.1 C569.5 263.2 570.9 263.3 572.2 263.3 C573.5 263.4 574.9 263.5 576.2 263.6 C577.5 263.7 578.9 263.8 580.2 263.9 C581.5 264.0 582.9 264.0 584.2 264.1 C585.5 264.2 586.8 264.3 588.2 264.4 C589.5 264.5 590.8 264.6 592.2 264.6 C593.5 264.7 594.8 264.8 596.2 264.9 C597.5 265.0 598.8 265.0 600.2 265.1 C601.5 265.2 602.8 265.3 604.1 265.4 C605.5 265.4 606.8 265.5 608.1 265.6 C609.5 265.7 610.8 265.8 612.1 265.9 C613.5 266.0 614.8 266.1 616.1 266.2 C617.4 266.3 618.8 266.4 620.1 266.6 C621.4 266.7 622.8 266.8 624.1 267.0 C625.4 267.1 626.7 267.3 628.0 267.5 C629.4 267.6 630.7 267.8 632.0 268.0 C633.3 268.2 634.7 268.4 636.0 268.6 C637.3 268.8 638.6 269.0 639.9 269.2 C641.2 269.5 642.5 269.7 643.8 270.0 C645.1 270.3 646.4 270.6 647.7 270.9 C649.0 271.3 650.3 271.6 651.6 272.1 C652.8 272.5 654.1 272.9 655.3 273.4 C656.6 273.9 657.8 274.5 659.0 275.1 C660.1 275.7 661.3 276.3 662.5 277.0 C663.6 277.7 664.7 278.5 665.8 279.2 C666.9 280.0 668.0 280.8 669.0 281.6 C670.1 282.4 671.1 283.2 672.1 284.1 C673.1 285.0 674.0 286.0 674.9 286.9 C675.8 287.9 676.7 289.0 677.5 290.0 C678.4 291.0 679.2 292.1 680.0 293.1 C680.9 294.2 681.7 295.2 682.5 296.2 C683.4 297.3 684.3 298.3 685.2 299.2 C686.1 300.1 687.1 301.1 688.1 301.9 C689.2 302.8 690.2 303.7 691.3 304.3 C692.5 304.9 693.8 305.5 695.0 305.6 C696.3 305.7 697.7 305.5 698.8 304.9 C699.8 304.3 700.6 303.1 701.3 302.0 C702.1 300.9 702.6 299.7 703.1 298.4 C703.6 297.2 704.1 296.0 704.6 294.7 C705.0 293.5 705.5 292.2 705.9 290.9 C706.3 289.7 706.6 288.4 707.0 287.1 C707.3 285.8 707.7 284.5 708.0 283.2 C708.3 281.9 708.6 280.6 708.9 279.3 C709.3 278.0 709.6 276.7 709.9 275.5 C710.2 274.2 710.5 272.9 710.8 271.6 C711.1 270.3 711.4 269.0 711.7 267.7 C712.0 266.4 712.3 265.1 712.6 263.8 C712.9 262.5 713.2 261.2 713.5 259.9 C713.8 258.6 714.1 257.3 714.4 256.0 C714.7 254.7 715.0 253.4 715.3 252.1 C715.6 250.8 715.9 249.5 716.2 248.2 C716.5 246.9 716.8 245.6 717.1 244.3 C717.4 243.0 717.7 241.7 718.0 240.4 C718.3 239.1 718.6 237.8 718.9 236.5 C719.2 235.2 719.5 233.9 719.8 232.6 C720.1 231.3 720.4 230.0 720.7 228.7 C721.0 227.4 721.3 226.1 721.6 224.8 C721.9 223.5 722.2 222.2 722.5 220.9 C722.8 219.6 723.1 218.3 723.4 217.0 C723.7 215.7 724.0 214.4 724.3 213.1 C724.6 211.8 724.9 210.5 725.2 209.2 C725.5 207.9 725.8 206.6 726.1 205.3 C726.4 204.0 726.7 202.7 727.0 201.4 C727.3 200.1 727.5 198.8 727.8 197.5 C728.1 196.2 728.4 194.9 728.6 193.6 C728.9 192.3 729.2 191.0 729.4 189.7 C729.7 188.3 730.0 187.0 730.2 185.7 C730.5 184.4 730.7 183.1 731.0 181.8 C731.3 180.5 731.6 179.2 731.9 177.9 C732.2 176.6 732.5 175.3 732.8 174.0 C733.1 172.7 733.4 171.4 733.7 170.1 C734.1 168.8 734.4 167.5 734.7 166.3 C735.1 165.0 735.4 163.7 735.8 162.4 C736.1 161.1 736.5 159.8 736.8 158.5 C737.2 157.2 737.6 156.0 737.9 154.7 C738.3 153.4 738.7 152.1 739.1 150.9 C739.5 149.6 739.9 148.3 740.3 147.0 C740.7 145.8 741.1 144.5 741.5 143.2 C741.9 142.0 742.3 140.7 742.8 139.4 C743.2 138.2 743.6 136.9 744.1 135.7 C744.6 134.4 745.0 133.2 745.5 131.9 C746.0 130.7 746.5 129.4 747.0 128.2 C747.5 127.0 748.0 125.7 748.5 124.5 C749.1 123.3 749.6 122.1 750.1 120.9 C750.7 119.6 751.2 118.4 751.8 117.2 C752.4 116.0 753.1 114.9 753.7 113.7 C754.4 112.6 755.1 111.4 755.9 110.3 C756.7 109.3 757.5 108.2 758.4 107.3 C759.3 106.3 760.3 105.4 761.3 104.5 C762.4 103.7 763.5 102.9 764.6 102.2 C765.7 101.5 766.9 100.8 768.1 100.3 C769.3 99.8 770.6 99.3 771.8 98.9 C773.1 98.6 774.4 98.3 775.7 98.1 C777.1 97.9 778.4 97.7 779.7 97.6 C781.0 97.5 782.4 97.4 783.7 97.3 C785.0 97.2 786.4 97.2 787.7 97.1 C789.0 97.1 790.4 97.1 791.7 97.1 C793.0 97.0 794.4 97.0 795.7 97.0 C797.0 97.0 798.4 96.9 799.7 96.9 C801.0 96.9 802.4 96.8 803.7 96.8 C805.0 96.8 806.4 96.8 807.7 96.8 C809.0 96.7 810.4 96.7 811.7 96.7 C813.0 96.7 814.4 96.7 815.7 96.7 C817.0 96.7 818.4 96.6 819.7 96.6 C821.0 96.6 822.4 96.6 823.7 96.6 C825.0 96.6 826.4 96.6 827.7 96.6 C829.0 96.5 830.6 96.5 831.7 96.5 C832.8 96.5 833.8 96.5 834.2 96.5" fill="none" stroke="#2424c8" stroke-width="2.1" stroke-linejoin="round"/></g><path d="M532.39 355.40v-4.50M532.39 4.40v4.50M547.48 355.40v-4.50M547.48 4.40v4.50M562.57 355.40v-4.50M562.57 4.40v4.50M577.66 355.40v-9.00M577.66 4.40v9.00M592.75 355.40v-4.50M592.75 4.40v4.50M607.85 355.40v-4.50M607.85 4.40v4.50M622.94 355.40v-4.50M622.94 4.40v4.50M638.03 355.40v-9.00M638.03 4.40v9.00M653.12 355.40v-4.50M653.12 4.40v4.50M668.21 355.40v-4.50M668.21 4.40v4.50M683.30 355.40v-4.50M683.30 4.40v4.50M698.39 355.40v-9.00M698.39 4.40v9.00M713.48 355.40v-4.50M713.48 4.40v4.50M728.57 355.40v-4.50M728.57 4.40v4.50M743.66 355.40v-4.50M743.66 4.40v4.50M758.75 355.40v-9.00M758.75 4.40v9.00M773.85 355.40v-4.50M773.85 4.40v4.50M788.94 355.40v-4.50M788.94 4.40v4.50M804.03 355.40v-4.50M804.03 4.40v4.50M819.12 355.40v-9.00M819.12 4.40v9.00M834.21 355.40v-4.50M834.21 4.40v4.50M517.30 336.93h4.50M849.30 336.93h-4.50M517.30 318.45h9.00M849.30 318.45h-9.00M517.30 299.98h4.50M849.30 299.98h-4.50M517.30 281.51h9.00M849.30 281.51h-9.00M517.30 263.03h4.50M849.30 263.03h-4.50M517.30 244.56h9.00M849.30 244.56h-9.00M517.30 226.08h4.50M849.30 226.08h-4.50M517.30 207.61h9.00M849.30 207.61h-9.00M517.30 189.14h4.50M849.30 189.14h-4.50M517.30 170.66h9.00M849.30 170.66h-9.00M517.30 152.19h4.50M849.30 152.19h-4.50M517.30 133.72h9.00M849.30 133.72h-9.00M517.30 115.24h4.50M849.30 115.24h-4.50M517.30 96.77h9.00M849.30 96.77h-9.00M517.30 78.29h4.50M849.30 78.29h-4.50M517.30 59.82h9.00M849.30 59.82h-9.00M517.30 41.35h4.50M849.30 41.35h-4.50M517.30 22.87h9.00M849.30 22.87h-9.00" stroke="#333333" stroke-width="2" fill="none"/><rect x="517.30" y="4.40" width="332.00" height="351.00" fill="none" stroke="#333333" stroke-width="2.2"/><g font-family='"Liberation Sans", sans-serif' font-weight="bold" font-size="19.2" fill="#0c0c0c" stroke="#0c0c0c" stroke-width="0.3"><text transform="translate(507.00 361.20) scale(1.0 1)" text-anchor="end">-700</text><text transform="translate(507.00 324.25) scale(1.0 1)" text-anchor="end">-600</text><text transform="translate(507.00 287.31) scale(1.0 1)" text-anchor="end">-500</text><text transform="translate(507.00 250.36) scale(1.0 1)" text-anchor="end">-400</text><text transform="translate(507.00 213.41) scale(1.0 1)" text-anchor="end">-300</text><text transform="translate(507.00 176.46) scale(1.0 1)" text-anchor="end">-200</text><text transform="translate(507.00 139.52) scale(1.0 1)" text-anchor="end">-100</text><text transform="translate(507.00 102.57) scale(1.0 1)" text-anchor="end">0</text><text transform="translate(507.00 65.62) scale(1.0 1)" text-anchor="end">100</text><text transform="translate(507.00 28.67) scale(1.0 1)" text-anchor="end">200</text><text transform="translate(517.30 380.80) scale(1.01 1)" text-anchor="middle">0.8</text><text transform="translate(577.66 380.80) scale(1.01 1)" text-anchor="middle">0.6</text><text transform="translate(638.03 380.80) scale(1.01 1)" text-anchor="middle">0.4</text><text transform="translate(698.39 380.80) scale(1.01 1)" text-anchor="middle">0.2</text><text transform="translate(758.75 380.80) scale(1.01 1)" text-anchor="middle">0.0</text><text transform="translate(819.12 380.80) scale(1.01 1)" text-anchor="middle">-0.2</text></g><text transform="translate(683.30 409.40) scale(1.04 1)" text-anchor="middle" font-family='"Liberation Sans", sans-serif' font-weight="bold" font-size="23.5" fill="#0c0c0c" stroke="#0c0c0c" stroke-width="0.4">E / V vs. SCE</text><text transform="translate(457.80 179.90) rotate(-90)" text-anchor="middle" font-family='"Liberation Sans", sans-serif' font-weight="bold" font-size="24" fill="#0c0c0c">j / μA cm<tspan font-size="18" dy="-13">-2</tspan></text><text x="539.10" y="41.40" font-family='"Liberation Sans", sans-serif' font-weight="bold" font-size="35" fill="#000">b</text><text transform="translate(541.90 336.70) scale(1.05 1)" font-family='"Liberation Sans", sans-serif' font-weight="bold" font-size="16" fill="#151515">25 mM galactose</text></g>
<g><clipPath id="cc"><rect x="945.80" y="4.50" width="332.00" height="351.00"/></clipPath><g clip-path="url(#cc)"><line x1="945.80" y1="96.87" x2="1277.80" y2="96.87" stroke="#222" stroke-width="2"/><path d="M961.6 109.6 C962.1 109.2 963.6 107.8 964.7 107.1 C965.8 106.4 967.0 105.7 968.2 105.2 C969.4 104.7 970.7 104.4 972.0 104.1 C973.3 103.8 974.7 103.7 976.0 103.5 C977.3 103.3 978.6 103.2 980.0 103.0 C981.3 102.9 982.6 102.7 983.9 102.6 C985.3 102.4 986.6 102.3 987.9 102.2 C989.2 102.1 990.6 102.0 991.9 101.9 C993.2 101.8 994.6 101.7 995.9 101.7 C997.2 101.6 998.6 101.5 999.9 101.5 C1001.2 101.4 1002.6 101.4 1003.9 101.3 C1005.2 101.3 1006.6 101.2 1007.9 101.2 C1009.2 101.1 1010.5 101.1 1011.9 101.1 C1013.2 101.0 1014.5 101.0 1015.9 101.0 C1017.2 100.9 1018.5 100.9 1019.9 100.9 C1021.2 100.8 1022.5 100.8 1023.9 100.8 C1025.2 100.7 1026.5 100.7 1027.9 100.6 C1029.2 100.6 1030.5 100.6 1031.9 100.5 C1033.2 100.5 1034.5 100.4 1035.9 100.4 C1037.2 100.4 1038.5 100.3 1039.9 100.3 C1041.2 100.2 1042.5 100.2 1043.9 100.1 C1045.2 100.0 1046.5 100.0 1047.9 99.9 C1049.2 99.9 1050.5 99.8 1051.9 99.7 C1053.2 99.7 1054.5 99.6 1055.9 99.5 C1057.2 99.5 1058.5 99.4 1059.8 99.3 C1061.2 99.3 1062.5 99.2 1063.8 99.1 C1065.2 99.0 1066.5 98.9 1067.8 98.8 C1069.2 98.8 1070.5 98.7 1071.8 98.6 C1073.2 98.5 1074.5 98.4 1075.8 98.3 C1077.1 98.2 1078.5 98.1 1079.8 98.0 C1081.1 97.9 1082.5 97.7 1083.8 97.6 C1085.1 97.5 1086.4 97.3 1087.8 97.2 C1089.1 97.1 1090.4 96.9 1091.7 96.8 C1093.1 96.6 1094.4 96.5 1095.7 96.4 C1097.0 96.2 1098.4 96.0 1099.7 95.7 C1100.9 95.4 1102.2 95.0 1103.5 94.5 C1104.7 94.0 1105.9 93.5 1107.1 92.8 C1108.3 92.2 1109.4 91.4 1110.4 90.6 C1111.5 89.8 1112.5 88.9 1113.5 88.1 C1114.5 87.2 1115.5 86.4 1116.5 85.5 C1117.5 84.6 1118.5 83.6 1119.4 82.7 C1120.3 81.7 1121.2 80.7 1122.1 79.7 C1123.0 78.7 1123.8 77.7 1124.7 76.7 C1125.5 75.7 1126.3 74.6 1127.1 73.5 C1127.9 72.5 1128.7 71.4 1129.5 70.3 C1130.2 69.2 1131.0 68.1 1131.7 67.0 C1132.4 65.9 1133.2 64.8 1133.9 63.6 C1134.5 62.5 1135.2 61.3 1135.7 60.1 C1136.3 58.9 1136.8 57.6 1137.3 56.4 C1137.9 55.2 1138.4 53.9 1138.9 52.7 C1139.4 51.5 1139.9 50.3 1140.5 49.1 C1141.0 47.8 1141.6 46.6 1142.1 45.4 C1142.7 44.2 1143.2 43.0 1143.7 41.7 C1144.3 40.5 1144.8 39.3 1145.4 38.1 C1146.0 36.9 1146.6 35.7 1147.1 34.5 C1147.7 33.3 1148.4 32.1 1149.0 30.9 C1149.6 29.8 1150.1 28.6 1150.8 27.4 C1151.4 26.2 1152.1 25.0 1152.8 24.0 C1153.6 22.9 1154.5 21.8 1155.4 21.0 C1156.4 20.1 1157.6 19.3 1158.7 18.8 C1159.9 18.2 1161.2 17.8 1162.4 17.9 C1163.6 18.1 1164.8 18.9 1165.9 19.6 C1167.0 20.4 1167.8 21.4 1168.8 22.4 C1169.7 23.4 1170.6 24.4 1171.4 25.4 C1172.3 26.4 1173.1 27.4 1174.0 28.5 C1174.8 29.5 1175.6 30.6 1176.4 31.7 C1177.2 32.8 1177.9 33.8 1178.7 34.9 C1179.5 36.0 1180.3 37.1 1181.1 38.2 C1181.8 39.2 1182.6 40.3 1183.4 41.4 C1184.2 42.5 1185.0 43.6 1185.8 44.6 C1186.6 45.6 1187.5 46.6 1188.4 47.6 C1189.3 48.6 1190.2 49.6 1191.1 50.6 C1192.0 51.5 1192.9 52.6 1193.8 53.6 C1194.7 54.5 1195.6 55.5 1196.5 56.4 C1197.5 57.3 1198.6 58.2 1199.6 59.0 C1200.7 59.8 1201.7 60.6 1202.8 61.4 C1203.9 62.2 1205.0 63.0 1206.1 63.7 C1207.2 64.4 1208.3 65.2 1209.4 65.9 C1210.6 66.5 1211.8 67.1 1213.0 67.7 C1214.2 68.2 1215.5 68.6 1216.7 69.1 C1218.0 69.6 1219.3 70.0 1220.5 70.4 C1221.8 70.9 1223.0 71.4 1224.2 71.9 C1225.5 72.3 1226.8 72.8 1228.0 73.2 C1229.3 73.6 1230.6 74.0 1231.8 74.4 C1233.1 74.7 1234.4 75.1 1235.7 75.4 C1237.0 75.7 1238.3 75.9 1239.6 76.2 C1240.9 76.5 1242.2 76.8 1243.5 77.0 C1244.8 77.3 1246.1 77.6 1247.4 77.9 C1248.8 78.1 1250.1 78.4 1251.4 78.6 C1252.7 78.9 1254.0 79.1 1255.3 79.3 C1256.6 79.5 1258.0 79.7 1259.3 80.0 C1260.5 80.3 1262.3 80.7 1262.9 80.9" fill="none" stroke="#303030" stroke-width="2.5" stroke-dasharray="4.5 4" stroke-linejoin="round"/><path d="M961.6 109.6 C962.2 109.4 964.1 108.9 965.4 108.5 C966.7 108.2 968.0 107.8 969.3 107.6 C970.6 107.3 972.0 107.1 973.3 106.9 C974.6 106.8 975.9 106.7 977.3 106.5 C978.6 106.4 979.9 106.4 981.2 106.3 C982.6 106.2 983.9 106.2 985.2 106.2 C986.6 106.1 987.9 106.1 989.2 106.1 C990.6 106.0 991.9 106.0 993.2 106.0 C994.6 106.0 995.9 106.0 997.2 106.0 C998.6 106.0 999.9 106.0 1001.2 106.0 C1002.6 106.0 1003.9 106.0 1005.2 106.1 C1006.6 106.1 1007.9 106.1 1009.2 106.2 C1010.6 106.2 1011.9 106.3 1013.2 106.3 C1014.6 106.4 1015.9 106.4 1017.2 106.5 C1018.6 106.6 1019.9 106.6 1021.2 106.7 C1022.6 106.8 1023.9 106.9 1025.2 107.0 C1026.5 107.1 1027.9 107.2 1029.2 107.3 C1030.5 107.4 1031.9 107.5 1033.2 107.6 C1034.5 107.7 1035.8 107.8 1037.2 107.9 C1038.5 108.1 1039.8 108.2 1041.2 108.3 C1042.5 108.5 1043.8 108.6 1045.1 108.8 C1046.5 108.9 1047.8 109.1 1049.1 109.3 C1050.4 109.4 1051.7 109.6 1053.1 109.8 C1054.4 110.0 1055.7 110.2 1057.0 110.4 C1058.3 110.7 1059.6 110.9 1061.0 111.1 C1062.3 111.4 1063.6 111.6 1064.9 111.9 C1066.2 112.2 1067.5 112.6 1068.8 112.9 C1070.0 113.2 1071.3 113.6 1072.6 113.9 C1073.9 114.3 1075.2 114.7 1076.4 115.1 C1077.7 115.5 1079.0 116.0 1080.2 116.5 C1081.4 117.0 1082.6 117.5 1083.9 118.1 C1085.1 118.7 1086.2 119.3 1087.4 119.9 C1088.6 120.5 1089.8 121.1 1090.9 121.8 C1092.1 122.5 1093.2 123.3 1094.2 124.1 C1095.3 124.9 1096.2 125.8 1097.2 126.7 C1098.2 127.7 1099.1 128.6 1100.0 129.6 C1100.9 130.5 1101.8 131.5 1102.7 132.5 C1103.6 133.5 1104.5 134.5 1105.2 135.6 C1106.0 136.7 1106.7 137.8 1107.4 139.0 C1108.1 140.1 1108.8 141.3 1109.4 142.5 C1110.0 143.6 1110.5 144.9 1111.1 146.1 C1111.7 147.3 1112.3 148.5 1112.8 149.7 C1113.4 150.9 1114.1 152.0 1114.7 153.2 C1115.2 154.4 1115.8 155.7 1116.2 156.9 C1116.7 158.2 1117.0 159.4 1117.4 160.7 C1117.8 162.0 1118.1 163.3 1118.5 164.6 C1118.9 165.8 1119.3 167.1 1119.7 168.4 C1120.2 169.6 1120.7 170.9 1121.2 172.1 C1121.7 173.3 1122.3 174.5 1122.8 175.8 C1123.3 177.0 1123.9 178.2 1124.4 179.4 C1124.9 180.7 1125.5 181.9 1126.0 183.1 C1126.5 184.3 1126.8 185.6 1127.3 186.9 C1127.7 188.1 1128.1 189.4 1128.7 190.6 C1129.2 191.8 1129.9 193.0 1130.6 194.1 C1131.4 195.1 1132.3 196.3 1133.4 196.9 C1134.4 197.6 1135.8 198.0 1136.9 197.8 C1138.1 197.6 1139.2 196.6 1140.2 195.7 C1141.2 194.9 1142.0 193.8 1142.8 192.7 C1143.5 191.6 1144.1 190.4 1144.7 189.2 C1145.2 188.0 1145.6 186.7 1146.1 185.4 C1146.6 184.2 1147.0 182.9 1147.5 181.7 C1147.9 180.4 1148.4 179.2 1148.8 177.9 C1149.2 176.7 1149.7 175.4 1150.1 174.1 C1150.5 172.9 1151.0 171.6 1151.4 170.3 C1151.8 169.1 1152.2 167.8 1152.6 166.5 C1153.0 165.3 1153.4 164.0 1153.8 162.7 C1154.1 161.4 1154.5 160.1 1154.8 158.8 C1155.1 157.6 1155.5 156.3 1155.8 155.0 C1156.1 153.7 1156.5 152.4 1156.8 151.1 C1157.1 149.8 1157.5 148.5 1157.9 147.2 C1158.2 145.9 1158.6 144.7 1158.9 143.4 C1159.3 142.1 1159.7 140.8 1160.1 139.5 C1160.5 138.3 1160.8 137.0 1161.2 135.7 C1161.6 134.4 1162.0 133.2 1162.5 131.9 C1162.9 130.6 1163.3 129.4 1163.7 128.1 C1164.2 126.9 1164.6 125.6 1165.1 124.4 C1165.5 123.1 1166.0 121.9 1166.5 120.6 C1167.0 119.4 1167.4 118.1 1168.0 116.9 C1168.5 115.7 1169.1 114.5 1169.7 113.3 C1170.3 112.1 1171.0 111.0 1171.7 109.9 C1172.5 108.7 1173.2 107.6 1174.1 106.7 C1175.1 105.8 1176.3 105.2 1177.3 104.4 C1178.4 103.6 1179.5 102.9 1180.5 102.0 C1181.5 101.2 1182.4 100.2 1183.5 99.4 C1184.5 98.5 1185.5 97.7 1186.6 96.9 C1187.7 96.2 1188.9 95.4 1190.1 94.9 C1191.3 94.4 1192.6 94.0 1193.8 93.7 C1195.1 93.4 1196.5 93.2 1197.8 92.9 C1199.1 92.6 1200.4 92.3 1201.7 92.0 C1203.0 91.7 1204.3 91.4 1205.6 91.2 C1206.9 91.0 1208.2 90.8 1209.5 90.6 C1210.9 90.4 1212.2 90.4 1213.5 90.2 C1214.8 90.0 1216.2 89.8 1217.5 89.6 C1218.8 89.4 1220.1 89.2 1221.4 89.0 C1222.7 88.8 1224.1 88.6 1225.4 88.4 C1226.7 88.2 1228.0 88.1 1229.3 87.9 C1230.7 87.7 1232.0 87.6 1233.3 87.4 C1234.6 87.2 1236.0 87.0 1237.3 86.8 C1238.6 86.6 1239.9 86.3 1241.2 86.1 C1242.5 85.8 1243.8 85.5 1245.1 85.2 C1246.4 85.0 1247.7 84.8 1249.1 84.6 C1250.4 84.4 1251.7 84.2 1253.0 83.9 C1254.3 83.6 1255.6 83.2 1256.8 82.8 C1258.1 82.4 1259.6 81.9 1260.7 81.6 C1261.7 81.3 1262.5 81.0 1262.9 80.9" fill="none" stroke="#303030" stroke-width="2.5" stroke-dasharray="4.5 4" stroke-linejoin="round"/><path d="M960.4 245.6 C961.1 245.4 963.0 245.0 964.3 244.6 C965.6 244.3 966.9 244.0 968.2 243.7 C969.5 243.4 970.8 243.1 972.1 242.8 C973.4 242.6 974.7 242.3 976.0 242.1 C977.3 241.9 978.7 241.7 980.0 241.5 C981.3 241.4 982.6 241.2 983.9 241.1 C985.3 240.9 986.6 240.8 987.9 240.7 C989.3 240.5 990.6 240.4 991.9 240.3 C993.2 240.2 994.6 240.1 995.9 239.9 C997.2 239.8 998.6 239.7 999.9 239.6 C1001.2 239.5 1002.5 239.4 1003.9 239.3 C1005.2 239.2 1006.5 239.1 1007.9 239.0 C1009.2 238.9 1010.5 238.8 1011.8 238.7 C1013.2 238.6 1014.5 238.5 1015.8 238.4 C1017.2 238.3 1018.5 238.2 1019.8 238.1 C1021.2 238.0 1022.5 237.9 1023.8 237.8 C1025.1 237.7 1026.5 237.6 1027.8 237.4 C1029.1 237.3 1030.4 237.2 1031.8 237.0 C1033.1 236.9 1034.4 236.7 1035.7 236.5 C1037.1 236.4 1038.4 236.2 1039.7 236.0 C1041.0 235.9 1042.4 235.7 1043.7 235.5 C1045.0 235.3 1046.3 235.2 1047.6 235.0 C1049.0 234.8 1050.3 234.6 1051.6 234.5 C1052.9 234.3 1054.3 234.2 1055.6 234.0 C1056.9 233.9 1058.2 233.7 1059.6 233.6 C1060.9 233.4 1062.2 233.3 1063.5 233.1 C1064.9 233.0 1066.2 232.8 1067.5 232.7 C1068.8 232.5 1070.2 232.4 1071.5 232.2 C1072.8 232.0 1074.1 231.8 1075.4 231.6 C1076.7 231.4 1078.0 231.1 1079.3 230.8 C1080.6 230.4 1081.9 230.1 1083.2 229.7 C1084.5 229.4 1085.8 229.0 1087.0 228.5 C1088.3 228.1 1089.5 227.7 1090.8 227.2 C1092.0 226.7 1093.2 226.1 1094.4 225.5 C1095.6 224.9 1096.8 224.3 1097.9 223.6 C1099.1 222.9 1100.2 222.2 1101.3 221.4 C1102.4 220.7 1103.5 219.9 1104.5 219.1 C1105.6 218.2 1106.6 217.4 1107.6 216.5 C1108.6 215.7 1109.6 214.7 1110.6 213.8 C1111.5 212.9 1112.5 212.0 1113.4 211.0 C1114.3 210.1 1115.2 209.1 1116.1 208.1 C1117.0 207.1 1117.8 206.0 1118.6 205.0 C1119.5 203.9 1120.4 202.9 1121.1 201.9 C1121.9 200.8 1122.6 199.6 1123.2 198.5 C1123.9 197.3 1124.4 196.1 1125.0 194.9 C1125.6 193.7 1126.2 192.5 1126.7 191.3 C1127.3 190.1 1127.9 188.9 1128.4 187.6 C1128.9 186.4 1129.5 185.2 1130.0 184.0 C1130.5 182.8 1131.1 181.5 1131.6 180.3 C1132.1 179.1 1132.6 177.8 1133.1 176.6 C1133.6 175.4 1134.1 174.1 1134.6 172.9 C1135.1 171.7 1135.6 170.4 1136.1 169.2 C1136.6 168.0 1137.2 166.7 1137.7 165.5 C1138.2 164.3 1138.7 163.0 1139.2 161.8 C1139.7 160.6 1140.2 159.4 1140.7 158.1 C1141.3 156.9 1141.8 155.7 1142.3 154.4 C1142.8 153.2 1143.3 152.0 1143.8 150.7 C1144.3 149.5 1144.8 148.3 1145.4 147.0 C1145.9 145.8 1146.4 144.6 1147.0 143.4 C1147.5 142.2 1148.1 141.0 1148.7 139.8 C1149.3 138.6 1149.9 137.4 1150.5 136.2 C1151.1 135.0 1151.7 133.8 1152.4 132.7 C1153.0 131.5 1153.7 130.3 1154.4 129.2 C1155.1 128.1 1155.8 126.9 1156.5 125.8 C1157.2 124.7 1158.0 123.6 1158.7 122.5 C1159.5 121.4 1160.3 120.3 1161.1 119.3 C1161.9 118.2 1162.7 117.1 1163.5 116.1 C1164.3 115.0 1165.2 114.0 1166.1 113.0 C1166.9 112.0 1167.8 111.0 1168.8 110.1 C1169.7 109.1 1170.7 108.2 1171.7 107.4 C1172.8 106.6 1173.9 105.8 1175.0 105.0 C1176.1 104.3 1177.2 103.6 1178.4 102.9 C1179.5 102.3 1180.7 101.6 1181.9 101.0 C1183.0 100.4 1184.2 99.7 1185.4 99.2 C1186.6 98.7 1187.9 98.2 1189.2 97.8 C1190.5 97.4 1191.7 97.1 1193.0 96.8 C1194.3 96.5 1195.6 96.3 1197.0 96.1 C1198.3 95.9 1199.6 95.9 1201.0 95.8 C1202.3 95.7 1203.6 95.7 1205.0 95.6 C1206.3 95.6 1207.6 95.5 1208.9 95.5 C1210.3 95.5 1211.6 95.4 1212.9 95.4 C1214.3 95.4 1215.6 95.4 1216.9 95.4 C1218.3 95.3 1219.6 95.3 1220.9 95.3 C1222.3 95.3 1223.6 95.3 1224.9 95.3 C1226.3 95.2 1227.6 95.2 1228.9 95.2 C1230.3 95.2 1231.6 95.2 1232.9 95.2 C1234.3 95.2 1235.6 95.2 1236.9 95.2 C1238.3 95.2 1239.6 95.1 1240.9 95.1 C1242.3 95.1 1243.6 95.1 1244.9 95.1 C1246.3 95.1 1247.6 95.1 1248.9 95.1 C1250.3 95.1 1251.6 95.1 1252.9 95.1 C1254.3 95.1 1255.6 95.1 1256.9 95.0 C1258.3 95.0 1259.9 95.0 1260.9 95.0 C1262.0 95.0 1262.7 95.0 1263.0 95.0" fill="none" stroke="#303030" stroke-width="2.1" stroke-linejoin="round"/><path d="M960.4 245.6 C961.1 245.6 963.1 245.5 964.4 245.4 C965.7 245.3 967.1 245.3 968.4 245.2 C969.7 245.2 971.1 245.1 972.4 245.1 C973.7 245.0 975.1 245.0 976.4 245.0 C977.7 245.0 979.1 245.0 980.4 245.0 C981.7 245.0 983.1 245.1 984.4 245.1 C985.7 245.1 987.1 245.2 988.4 245.2 C989.7 245.3 991.1 245.3 992.4 245.3 C993.7 245.4 995.1 245.4 996.4 245.5 C997.7 245.5 999.1 245.5 1000.4 245.6 C1001.7 245.6 1003.1 245.6 1004.4 245.6 C1005.7 245.7 1007.1 245.7 1008.4 245.7 C1009.7 245.7 1011.1 245.7 1012.4 245.8 C1013.7 245.8 1015.1 245.8 1016.4 245.8 C1017.7 245.8 1019.1 245.8 1020.4 245.9 C1021.7 245.9 1023.1 245.9 1024.4 245.9 C1025.7 246.0 1027.1 246.0 1028.4 246.0 C1029.7 246.1 1031.0 246.1 1032.4 246.1 C1033.7 246.2 1035.0 246.2 1036.4 246.2 C1037.7 246.3 1039.0 246.3 1040.4 246.4 C1041.7 246.4 1043.0 246.5 1044.4 246.5 C1045.7 246.6 1047.0 246.6 1048.4 246.7 C1049.7 246.8 1051.0 246.8 1052.4 246.9 C1053.7 247.0 1055.0 247.1 1056.4 247.2 C1057.7 247.3 1059.0 247.4 1060.3 247.5 C1061.7 247.7 1063.0 247.8 1064.3 247.9 C1065.6 248.1 1067.0 248.2 1068.3 248.4 C1069.6 248.6 1070.9 248.7 1072.3 248.9 C1073.6 249.1 1074.9 249.3 1076.2 249.5 C1077.5 249.7 1078.8 250.0 1080.2 250.2 C1081.5 250.4 1082.8 250.6 1084.1 250.9 C1085.4 251.1 1086.7 251.3 1088.0 251.6 C1089.3 251.8 1090.7 252.1 1092.0 252.4 C1093.3 252.6 1094.6 253.0 1095.9 253.3 C1097.2 253.6 1098.5 253.9 1099.8 254.1 C1101.1 254.4 1102.4 254.6 1103.7 254.9 C1105.0 255.2 1106.3 255.6 1107.6 255.9 C1108.8 256.2 1110.1 256.6 1111.4 256.9 C1112.7 257.3 1114.0 257.6 1115.3 257.8 C1116.6 258.0 1118.0 258.2 1119.3 258.2 C1120.6 258.1 1122.0 257.9 1123.1 257.3 C1124.3 256.8 1125.3 255.9 1126.2 254.9 C1127.1 254.0 1127.7 252.8 1128.4 251.6 C1129.1 250.5 1129.7 249.3 1130.3 248.1 C1130.9 246.9 1131.5 245.7 1132.0 244.5 C1132.5 243.2 1132.9 242.0 1133.4 240.7 C1133.8 239.5 1134.3 238.2 1134.7 237.0 C1135.2 235.7 1135.6 234.4 1136.0 233.2 C1136.4 231.9 1136.9 230.7 1137.3 229.4 C1137.7 228.1 1138.2 226.9 1138.6 225.6 C1139.0 224.3 1139.4 223.1 1139.8 221.8 C1140.3 220.5 1140.7 219.3 1141.1 218.0 C1141.5 216.7 1141.9 215.5 1142.4 214.2 C1142.8 213.0 1143.2 211.7 1143.7 210.4 C1144.1 209.2 1144.5 207.9 1144.9 206.6 C1145.4 205.4 1145.8 204.1 1146.1 202.8 C1146.5 201.5 1146.8 200.2 1147.2 199.0 C1147.5 197.7 1147.8 196.4 1148.1 195.1 C1148.4 193.8 1148.6 192.5 1149.0 191.2 C1149.3 189.9 1149.8 188.6 1150.1 187.4 C1150.5 186.1 1150.9 184.8 1151.3 183.5 C1151.7 182.3 1152.0 181.0 1152.4 179.7 C1152.8 178.4 1153.1 177.1 1153.5 175.8 C1153.9 174.6 1154.3 173.3 1154.6 172.0 C1155.0 170.7 1155.4 169.4 1155.7 168.2 C1156.1 166.9 1156.4 165.6 1156.8 164.3 C1157.2 163.0 1157.5 161.7 1157.9 160.5 C1158.2 159.2 1158.6 157.9 1159.0 156.6 C1159.3 155.3 1159.7 154.1 1160.1 152.8 C1160.5 151.5 1160.9 150.2 1161.4 149.0 C1161.8 147.7 1162.2 146.4 1162.6 145.2 C1163.0 143.9 1163.5 142.7 1163.9 141.4 C1164.4 140.1 1164.8 138.9 1165.3 137.6 C1165.7 136.4 1166.2 135.1 1166.7 133.9 C1167.1 132.6 1167.6 131.4 1168.1 130.2 C1168.6 128.9 1169.1 127.7 1169.6 126.4 C1170.1 125.2 1170.6 124.0 1171.2 122.8 C1171.7 121.6 1172.3 120.4 1172.9 119.2 C1173.5 118.0 1174.2 116.8 1174.8 115.7 C1175.5 114.5 1176.2 113.4 1177.0 112.3 C1177.8 111.2 1178.7 110.2 1179.5 109.2 C1180.4 108.2 1181.4 107.3 1182.4 106.4 C1183.4 105.5 1184.4 104.7 1185.5 103.9 C1186.6 103.1 1187.7 102.4 1188.9 101.8 C1190.0 101.1 1191.2 100.5 1192.5 100.0 C1193.7 99.5 1194.9 99.0 1196.2 98.7 C1197.5 98.3 1198.8 98.0 1200.1 97.8 C1201.4 97.5 1202.8 97.4 1204.1 97.3 C1205.4 97.2 1206.8 97.2 1208.1 97.2 C1209.4 97.1 1210.8 97.1 1212.1 97.1 C1213.4 97.1 1214.7 97.0 1216.1 97.0 C1217.4 97.0 1218.7 97.0 1220.1 97.0 C1221.4 97.0 1222.7 97.0 1224.1 96.9 C1225.4 96.9 1226.7 96.9 1228.1 96.9 C1229.4 96.9 1230.7 96.9 1232.1 96.9 C1233.4 96.9 1234.7 96.9 1236.1 96.9 C1237.4 96.9 1238.7 96.9 1240.1 96.9 C1241.4 96.9 1242.7 96.9 1244.1 96.9 C1245.4 96.9 1246.7 96.8 1248.1 96.8 C1249.4 96.8 1250.7 96.8 1252.1 96.8 C1253.4 96.8 1254.7 96.8 1256.1 96.8 C1257.4 96.8 1259.0 96.8 1260.1 96.8 C1261.2 96.8 1262.2 96.8 1262.6 96.8" fill="none" stroke="#303030" stroke-width="2.1" stroke-linejoin="round"/><path d="M960.4 215.0 C961.1 214.8 963.0 214.4 964.3 214.1 C965.6 213.7 966.9 213.4 968.2 213.1 C969.5 212.8 970.8 212.5 972.1 212.2 C973.4 212.0 974.7 211.7 976.0 211.5 C977.3 211.2 978.6 211.0 980.0 210.8 C981.3 210.6 982.6 210.4 983.9 210.3 C985.2 210.1 986.6 209.9 987.9 209.7 C989.2 209.6 990.5 209.4 991.9 209.2 C993.2 209.1 994.5 208.9 995.8 208.8 C997.2 208.6 998.5 208.5 999.8 208.3 C1001.1 208.2 1002.5 208.1 1003.8 208.0 C1005.1 207.8 1006.4 207.7 1007.8 207.6 C1009.1 207.5 1010.4 207.4 1011.8 207.3 C1013.1 207.2 1014.4 207.2 1015.7 207.1 C1017.1 207.0 1018.4 206.9 1019.7 206.8 C1021.1 206.7 1022.4 206.6 1023.7 206.5 C1025.1 206.4 1026.4 206.3 1027.7 206.2 C1029.0 206.1 1030.4 206.0 1031.7 205.8 C1033.0 205.7 1034.4 205.6 1035.7 205.5 C1037.0 205.3 1038.3 205.2 1039.7 205.1 C1041.0 204.9 1042.3 204.8 1043.6 204.7 C1045.0 204.5 1046.3 204.4 1047.6 204.2 C1048.9 204.1 1050.3 204.0 1051.6 203.8 C1052.9 203.7 1054.3 203.5 1055.6 203.4 C1056.9 203.3 1058.2 203.1 1059.6 203.0 C1060.9 202.8 1062.2 202.7 1063.5 202.5 C1064.9 202.4 1066.2 202.2 1067.5 202.1 C1068.8 201.9 1070.2 201.8 1071.5 201.6 C1072.8 201.5 1074.1 201.4 1075.5 201.2 C1076.8 201.0 1078.1 200.8 1079.4 200.5 C1080.7 200.2 1082.0 199.9 1083.2 199.5 C1084.5 199.1 1085.8 198.6 1087.0 198.1 C1088.3 197.7 1089.5 197.2 1090.7 196.7 C1091.9 196.1 1093.1 195.5 1094.2 194.7 C1095.3 194.0 1096.3 193.1 1097.4 192.3 C1098.4 191.5 1099.5 190.6 1100.5 189.8 C1101.5 188.9 1102.5 188.1 1103.5 187.2 C1104.5 186.3 1105.5 185.4 1106.4 184.5 C1107.4 183.5 1108.3 182.5 1109.1 181.5 C1110.0 180.5 1110.8 179.4 1111.6 178.3 C1112.4 177.3 1113.1 176.2 1113.8 175.0 C1114.6 173.9 1115.3 172.8 1115.9 171.6 C1116.6 170.5 1117.2 169.3 1117.9 168.1 C1118.5 167.0 1119.2 165.8 1119.8 164.6 C1120.4 163.5 1121.1 162.3 1121.7 161.1 C1122.4 160.0 1123.1 158.8 1123.7 157.6 C1124.4 156.5 1125.0 155.3 1125.6 154.1 C1126.3 153.0 1126.8 151.8 1127.4 150.6 C1128.0 149.4 1128.6 148.2 1129.2 147.0 C1129.8 145.8 1130.5 144.6 1131.1 143.4 C1131.6 142.2 1132.2 141.0 1132.7 139.8 C1133.3 138.6 1133.8 137.4 1134.3 136.1 C1134.8 134.9 1135.2 133.6 1135.7 132.4 C1136.2 131.2 1136.7 129.9 1137.2 128.7 C1137.7 127.4 1138.2 126.2 1138.8 125.0 C1139.3 123.8 1139.9 122.6 1140.4 121.4 C1141.0 120.2 1141.6 119.0 1142.2 117.8 C1142.8 116.6 1143.4 115.4 1144.1 114.2 C1144.7 113.1 1145.3 111.9 1146.0 110.7 C1146.7 109.6 1147.3 108.4 1148.0 107.3 C1148.7 106.2 1149.4 105.0 1150.2 103.9 C1151.0 102.9 1151.8 101.8 1152.7 100.8 C1153.5 99.8 1154.5 98.8 1155.5 97.9 C1156.5 97.1 1157.5 96.2 1158.6 95.5 C1159.7 94.8 1160.9 94.1 1162.1 93.6 C1163.3 93.0 1164.6 92.6 1165.9 92.3 C1167.2 91.9 1168.5 91.7 1169.8 91.4 C1171.1 91.2 1172.4 91.0 1173.7 90.8 C1175.1 90.6 1176.4 90.5 1177.7 90.4 C1179.1 90.3 1180.4 90.3 1181.7 90.3 C1183.1 90.3 1184.4 90.4 1185.7 90.5 C1187.0 90.6 1188.4 90.7 1189.7 90.8 C1191.0 90.9 1192.4 91.0 1193.7 91.2 C1195.0 91.3 1196.3 91.5 1197.7 91.6 C1199.0 91.8 1200.3 92.0 1201.6 92.1 C1203.0 92.2 1204.3 92.4 1205.6 92.5 C1206.9 92.6 1208.3 92.8 1209.6 92.9 C1210.9 93.0 1212.3 93.1 1213.6 93.2 C1214.9 93.3 1216.2 93.4 1217.6 93.5 C1218.9 93.6 1220.2 93.6 1221.6 93.7 C1222.9 93.8 1224.2 93.9 1225.6 93.9 C1226.9 94.0 1228.2 94.1 1229.6 94.1 C1230.9 94.2 1232.2 94.3 1233.6 94.3 C1234.9 94.4 1236.2 94.4 1237.5 94.5 C1238.9 94.6 1240.2 94.6 1241.5 94.7 C1242.9 94.7 1244.2 94.8 1245.5 94.8 C1246.9 94.8 1248.2 94.9 1249.5 94.9 C1250.9 95.0 1252.2 95.0 1253.5 95.0 C1254.9 95.1 1256.2 95.1 1257.5 95.1 C1258.9 95.2 1260.6 95.2 1261.5 95.3 C1262.4 95.3 1262.8 95.3 1263.0 95.3" fill="none" stroke="#dc3844" stroke-width="2.1" stroke-linejoin="round"/><path d="M960.4 215.0 C961.1 214.9 963.1 214.7 964.4 214.6 C965.7 214.5 967.0 214.4 968.4 214.2 C969.7 214.1 971.0 214.0 972.4 214.0 C973.7 213.9 975.0 213.8 976.4 213.8 C977.7 213.7 979.0 213.7 980.4 213.7 C981.7 213.7 983.0 213.8 984.4 213.8 C985.7 213.8 987.0 213.8 988.4 213.9 C989.7 213.9 991.0 213.9 992.4 214.0 C993.7 214.0 995.0 214.1 996.4 214.1 C997.7 214.2 999.0 214.2 1000.3 214.3 C1001.7 214.4 1003.0 214.4 1004.3 214.5 C1005.7 214.6 1007.0 214.7 1008.3 214.7 C1009.7 214.8 1011.0 214.9 1012.3 215.0 C1013.7 215.1 1015.0 215.1 1016.3 215.2 C1017.6 215.3 1019.0 215.5 1020.3 215.6 C1021.6 215.7 1023.0 215.8 1024.3 215.9 C1025.6 216.1 1026.9 216.2 1028.3 216.4 C1029.6 216.5 1030.9 216.7 1032.2 216.9 C1033.6 217.0 1034.9 217.2 1036.2 217.4 C1037.5 217.6 1038.8 217.8 1040.2 218.0 C1041.5 218.2 1042.8 218.4 1044.1 218.6 C1045.4 218.8 1046.7 219.0 1048.1 219.2 C1049.4 219.5 1050.7 219.7 1052.0 220.0 C1053.3 220.2 1054.6 220.4 1055.9 220.7 C1057.2 221.0 1058.5 221.2 1059.8 221.5 C1061.1 221.8 1062.4 222.1 1063.7 222.4 C1065.0 222.7 1066.3 223.0 1067.6 223.4 C1068.9 223.8 1070.2 224.1 1071.4 224.6 C1072.7 225.0 1073.9 225.5 1075.2 226.0 C1076.4 226.5 1077.6 227.1 1078.8 227.7 C1080.0 228.2 1081.2 228.9 1082.4 229.4 C1083.6 230.0 1084.8 230.6 1086.0 231.2 C1087.1 231.9 1088.3 232.5 1089.5 233.2 C1090.6 233.9 1091.7 234.6 1092.8 235.3 C1094.0 236.0 1095.1 236.8 1096.1 237.6 C1097.1 238.5 1098.0 239.4 1099.0 240.3 C1100.0 241.2 1101.0 242.1 1102.1 242.9 C1103.1 243.8 1104.2 244.6 1105.2 245.4 C1106.3 246.1 1107.4 246.9 1108.6 247.5 C1109.8 248.1 1111.0 248.8 1112.3 249.0 C1113.5 249.3 1115.0 249.3 1116.2 249.1 C1117.4 248.8 1118.6 248.1 1119.5 247.3 C1120.5 246.4 1121.0 245.1 1121.7 244.0 C1122.4 242.8 1123.0 241.6 1123.6 240.4 C1124.2 239.2 1124.7 238.0 1125.3 236.8 C1125.8 235.6 1126.4 234.4 1126.9 233.1 C1127.4 231.9 1127.9 230.7 1128.3 229.4 C1128.8 228.2 1129.3 226.9 1129.7 225.7 C1130.2 224.4 1130.7 223.2 1131.1 221.9 C1131.5 220.6 1132.0 219.4 1132.4 218.1 C1132.8 216.9 1133.2 215.6 1133.6 214.3 C1134.0 213.0 1134.4 211.8 1134.8 210.5 C1135.2 209.2 1135.6 208.0 1136.0 206.7 C1136.4 205.4 1136.8 204.1 1137.1 202.8 C1137.5 201.6 1137.9 200.3 1138.2 199.0 C1138.6 197.7 1139.0 196.4 1139.3 195.1 C1139.7 193.9 1140.0 192.6 1140.3 191.3 C1140.7 190.0 1141.0 188.7 1141.4 187.4 C1141.7 186.1 1142.1 184.8 1142.5 183.6 C1142.8 182.3 1143.2 181.0 1143.6 179.7 C1144.0 178.5 1144.4 177.2 1144.8 175.9 C1145.2 174.6 1145.6 173.4 1146.0 172.1 C1146.4 170.8 1146.8 169.6 1147.2 168.3 C1147.6 167.0 1148.0 165.8 1148.5 164.5 C1148.9 163.2 1149.3 162.0 1149.7 160.7 C1150.1 159.4 1150.6 158.2 1151.0 156.9 C1151.4 155.6 1151.9 154.4 1152.3 153.1 C1152.7 151.9 1153.2 150.6 1153.6 149.3 C1154.1 148.1 1154.5 146.8 1154.9 145.6 C1155.4 144.3 1155.8 143.1 1156.3 141.8 C1156.8 140.6 1157.3 139.3 1157.8 138.1 C1158.3 136.9 1158.9 135.7 1159.4 134.4 C1160.0 133.2 1160.6 132.0 1161.2 130.9 C1161.8 129.7 1162.5 128.5 1163.1 127.3 C1163.7 126.2 1164.4 125.0 1165.1 123.9 C1165.8 122.7 1166.5 121.6 1167.2 120.5 C1167.9 119.3 1168.6 118.2 1169.4 117.1 C1170.2 116.1 1171.0 115.0 1171.8 113.9 C1172.6 112.9 1173.5 111.8 1174.3 110.8 C1175.2 109.8 1176.0 108.8 1176.9 107.8 C1177.8 106.8 1178.7 105.8 1179.6 104.8 C1180.6 103.9 1181.5 103.0 1182.6 102.2 C1183.6 101.4 1184.7 100.6 1185.9 99.9 C1187.1 99.3 1188.3 98.7 1189.5 98.3 C1190.8 97.9 1192.1 97.5 1193.4 97.3 C1194.7 97.0 1196.0 96.9 1197.4 96.8 C1198.7 96.7 1200.0 96.7 1201.3 96.6 C1202.7 96.6 1204.0 96.6 1205.3 96.6 C1206.7 96.6 1208.0 96.6 1209.3 96.6 C1210.7 96.6 1212.0 96.6 1213.3 96.6 C1214.7 96.6 1216.0 96.5 1217.3 96.5 C1218.7 96.5 1220.0 96.5 1221.3 96.5 C1222.7 96.5 1224.0 96.5 1225.3 96.5 C1226.7 96.5 1228.0 96.5 1229.3 96.5 C1230.7 96.5 1232.0 96.5 1233.3 96.5 C1234.7 96.5 1236.0 96.5 1237.3 96.5 C1238.7 96.5 1240.0 96.5 1241.3 96.5 C1242.7 96.4 1244.0 96.4 1245.3 96.4 C1246.7 96.4 1248.0 96.4 1249.3 96.4 C1250.7 96.4 1252.0 96.4 1253.3 96.4 C1254.7 96.4 1256.0 96.4 1257.3 96.4 C1258.7 96.4 1260.4 96.4 1261.3 96.4 C1262.3 96.4 1262.7 96.4 1263.0 96.4" fill="none" stroke="#dc3844" stroke-width="2.1" stroke-linejoin="round"/><path d="M960.4 279.0 C961.0 278.8 962.9 278.1 964.2 277.7 C965.4 277.2 966.7 276.8 968.0 276.3 C969.2 275.9 970.5 275.5 971.8 275.1 C973.0 274.8 974.3 274.4 975.6 274.1 C976.9 273.8 978.2 273.6 979.6 273.3 C980.9 273.1 982.2 272.9 983.5 272.7 C984.8 272.5 986.1 272.3 987.5 272.2 C988.8 272.0 990.1 271.9 991.4 271.7 C992.8 271.6 994.1 271.4 995.4 271.3 C996.7 271.1 998.1 271.0 999.4 270.9 C1000.7 270.7 1002.1 270.6 1003.4 270.5 C1004.7 270.4 1006.0 270.2 1007.4 270.1 C1008.7 270.0 1010.0 269.9 1011.4 269.8 C1012.7 269.7 1014.0 269.6 1015.3 269.6 C1016.7 269.5 1018.0 269.4 1019.3 269.3 C1020.7 269.2 1022.0 269.1 1023.3 269.0 C1024.7 268.9 1026.0 268.8 1027.3 268.7 C1028.6 268.7 1030.0 268.6 1031.3 268.5 C1032.6 268.4 1034.0 268.3 1035.3 268.2 C1036.6 268.1 1038.0 268.0 1039.3 267.9 C1040.6 267.8 1041.9 267.7 1043.3 267.6 C1044.6 267.5 1045.9 267.4 1047.3 267.3 C1048.6 267.2 1049.9 267.1 1051.3 267.0 C1052.6 266.9 1053.9 266.8 1055.2 266.6 C1056.6 266.5 1057.9 266.4 1059.2 266.3 C1060.5 266.2 1061.9 266.0 1063.2 265.9 C1064.5 265.8 1065.9 265.6 1067.2 265.5 C1068.5 265.3 1069.8 265.2 1071.1 265.0 C1072.5 264.8 1073.8 264.6 1075.1 264.3 C1076.4 264.1 1077.7 263.8 1079.0 263.6 C1080.3 263.3 1081.6 263.0 1082.9 262.7 C1084.2 262.4 1085.5 262.1 1086.8 261.7 C1088.1 261.4 1089.4 261.0 1090.6 260.6 C1091.9 260.2 1093.2 259.8 1094.4 259.3 C1095.7 258.8 1096.9 258.3 1098.1 257.7 C1099.3 257.2 1100.5 256.6 1101.7 256.0 C1102.9 255.4 1104.0 254.7 1105.2 254.0 C1106.3 253.3 1107.5 252.6 1108.5 251.8 C1109.5 251.0 1110.5 250.0 1111.4 249.0 C1112.2 248.0 1113.0 246.9 1113.8 245.8 C1114.5 244.7 1115.2 243.6 1115.9 242.4 C1116.5 241.3 1117.1 240.1 1117.7 238.9 C1118.3 237.7 1118.9 236.5 1119.4 235.3 C1120.0 234.1 1120.6 232.9 1121.1 231.7 C1121.6 230.4 1122.2 229.2 1122.7 228.0 C1123.2 226.8 1123.7 225.5 1124.2 224.3 C1124.7 223.1 1125.2 221.8 1125.7 220.6 C1126.2 219.3 1126.7 218.1 1127.1 216.8 C1127.6 215.6 1128.1 214.3 1128.5 213.1 C1128.9 211.8 1129.4 210.6 1129.8 209.3 C1130.2 208.0 1130.6 206.8 1131.0 205.5 C1131.4 204.2 1131.8 202.9 1132.2 201.7 C1132.7 200.4 1133.0 199.1 1133.4 197.9 C1133.9 196.6 1134.3 195.3 1134.7 194.1 C1135.1 192.8 1135.6 191.6 1136.0 190.3 C1136.3 189.0 1136.6 187.7 1136.8 186.4 C1137.1 185.1 1137.3 183.7 1137.6 182.4 C1137.9 181.1 1138.2 179.9 1138.6 178.6 C1139.0 177.3 1139.4 176.0 1139.8 174.8 C1140.3 173.5 1140.7 172.3 1141.1 171.0 C1141.6 169.7 1141.9 168.5 1142.3 167.2 C1142.7 165.9 1143.1 164.6 1143.5 163.4 C1143.9 162.1 1144.3 160.8 1144.7 159.5 C1145.1 158.3 1145.5 157.0 1145.9 155.7 C1146.3 154.4 1146.7 153.2 1147.1 151.9 C1147.5 150.6 1147.9 149.4 1148.3 148.1 C1148.7 146.8 1149.1 145.5 1149.5 144.3 C1149.9 143.0 1150.3 141.7 1150.8 140.5 C1151.3 139.3 1151.8 138.0 1152.4 136.8 C1152.9 135.6 1153.6 134.4 1154.2 133.3 C1154.9 132.1 1155.6 131.0 1156.3 129.8 C1157.0 128.7 1157.7 127.6 1158.4 126.5 C1159.1 125.3 1159.9 124.2 1160.6 123.1 C1161.3 122.0 1162.0 120.8 1162.7 119.7 C1163.5 118.6 1164.2 117.5 1165.0 116.4 C1165.7 115.3 1166.5 114.2 1167.3 113.2 C1168.1 112.1 1168.9 111.1 1169.8 110.0 C1170.7 109.0 1171.5 108.0 1172.5 107.1 C1173.4 106.1 1174.4 105.2 1175.4 104.4 C1176.4 103.5 1177.5 102.7 1178.6 102.0 C1179.7 101.3 1180.9 100.6 1182.1 100.0 C1183.2 99.3 1184.4 98.7 1185.7 98.2 C1186.9 97.6 1188.1 97.1 1189.3 96.6 C1190.6 96.2 1191.9 95.9 1193.2 95.6 C1194.5 95.4 1195.8 95.2 1197.2 95.1 C1198.5 95.0 1199.8 95.0 1201.1 94.9 C1202.5 94.9 1203.8 94.9 1205.1 94.9 C1206.5 94.9 1207.8 94.9 1209.1 94.9 C1210.5 94.9 1211.8 94.9 1213.1 94.9 C1214.5 94.9 1215.8 94.9 1217.1 94.9 C1218.5 94.9 1219.8 94.9 1221.1 94.9 C1222.5 94.9 1223.8 94.9 1225.1 94.9 C1226.5 94.9 1227.8 94.9 1229.1 95.0 C1230.5 95.0 1231.8 95.0 1233.1 95.0 C1234.5 95.0 1235.8 95.0 1237.1 95.0 C1238.5 95.0 1239.8 95.0 1241.1 95.0 C1242.5 95.0 1243.8 95.1 1245.1 95.1 C1246.5 95.1 1247.8 95.1 1249.1 95.1 C1250.5 95.1 1251.8 95.1 1253.1 95.1 C1254.5 95.1 1255.8 95.1 1257.1 95.2 C1258.5 95.2 1260.2 95.2 1261.1 95.2 C1262.1 95.2 1262.7 95.2 1263.0 95.2" fill="none" stroke="#2424c8" stroke-width="2.1" stroke-linejoin="round"/><path d="M960.4 279.0 C961.1 278.9 963.1 278.8 964.4 278.7 C965.7 278.6 967.1 278.4 968.4 278.4 C969.7 278.3 971.0 278.2 972.4 278.1 C973.7 278.1 975.0 278.1 976.4 278.1 C977.7 278.1 979.0 278.2 980.4 278.2 C981.7 278.3 983.0 278.4 984.4 278.4 C985.7 278.5 987.0 278.6 988.4 278.7 C989.7 278.8 991.0 278.9 992.3 279.1 C993.7 279.2 995.0 279.3 996.3 279.4 C997.7 279.6 999.0 279.7 1000.3 279.8 C1001.6 279.9 1003.0 280.1 1004.3 280.2 C1005.6 280.4 1006.9 280.5 1008.3 280.7 C1009.6 280.8 1010.9 281.0 1012.2 281.1 C1013.6 281.3 1014.9 281.5 1016.2 281.6 C1017.5 281.8 1018.8 282.0 1020.2 282.2 C1021.5 282.3 1022.8 282.5 1024.1 282.7 C1025.5 282.9 1026.8 283.0 1028.1 283.2 C1029.4 283.4 1030.7 283.6 1032.1 283.7 C1033.4 283.9 1034.7 284.1 1036.0 284.3 C1037.3 284.5 1038.7 284.7 1040.0 285.0 C1041.3 285.3 1042.6 285.6 1043.9 285.9 C1045.2 286.2 1046.4 286.5 1047.7 286.9 C1049.0 287.2 1050.3 287.6 1051.6 287.9 C1052.9 288.3 1054.2 288.6 1055.5 288.9 C1056.8 289.2 1058.1 289.6 1059.3 289.9 C1060.6 290.2 1061.9 290.6 1063.2 291.0 C1064.5 291.3 1065.8 291.7 1067.0 292.2 C1068.3 292.6 1069.5 293.0 1070.8 293.5 C1072.1 293.9 1073.3 294.4 1074.5 294.9 C1075.8 295.4 1077.0 296.0 1078.2 296.6 C1079.4 297.2 1080.5 297.8 1081.7 298.5 C1082.8 299.1 1084.0 299.8 1085.1 300.5 C1086.3 301.2 1087.4 301.9 1088.5 302.7 C1089.6 303.4 1090.7 304.2 1091.7 305.0 C1092.8 305.9 1093.8 306.7 1094.8 307.6 C1095.8 308.5 1096.8 309.4 1097.7 310.3 C1098.7 311.2 1099.7 312.2 1100.6 313.1 C1101.5 314.1 1102.4 315.1 1103.2 316.1 C1104.1 317.1 1104.9 318.1 1105.8 319.2 C1106.6 320.2 1107.5 321.2 1108.4 322.2 C1109.2 323.3 1110.1 324.3 1110.9 325.3 C1111.8 326.3 1112.6 327.4 1113.5 328.4 C1114.4 329.3 1115.3 330.4 1116.4 331.2 C1117.4 331.9 1118.6 332.7 1119.9 332.8 C1121.1 333.0 1122.5 332.8 1123.6 332.2 C1124.7 331.7 1125.6 330.6 1126.4 329.6 C1127.2 328.6 1127.7 327.3 1128.2 326.1 C1128.8 324.9 1129.3 323.6 1129.8 322.4 C1130.3 321.2 1130.8 319.9 1131.3 318.7 C1131.7 317.4 1132.1 316.1 1132.5 314.9 C1132.9 313.6 1133.3 312.3 1133.6 311.0 C1134.0 309.7 1134.4 308.5 1134.7 307.2 C1135.1 305.9 1135.4 304.6 1135.7 303.3 C1136.1 302.0 1136.4 300.7 1136.7 299.4 C1137.0 298.1 1137.3 296.8 1137.6 295.5 C1137.9 294.2 1138.1 292.9 1138.4 291.6 C1138.7 290.3 1138.9 289.0 1139.2 287.7 C1139.5 286.4 1139.7 285.1 1140.0 283.8 C1140.3 282.5 1140.5 281.1 1140.8 279.8 C1141.1 278.5 1141.3 277.2 1141.6 275.9 C1141.9 274.6 1142.1 273.3 1142.4 272.0 C1142.6 270.7 1142.9 269.4 1143.2 268.1 C1143.4 266.8 1143.7 265.5 1143.9 264.2 C1144.2 262.8 1144.4 261.5 1144.7 260.2 C1144.9 258.9 1145.1 257.6 1145.4 256.3 C1145.6 255.0 1145.9 253.7 1146.1 252.4 C1146.4 251.0 1146.6 249.7 1146.8 248.4 C1147.1 247.1 1147.3 245.8 1147.6 244.5 C1147.9 243.2 1148.1 241.9 1148.4 240.6 C1148.7 239.3 1149.0 238.0 1149.3 236.7 C1149.5 235.4 1149.8 234.1 1150.1 232.8 C1150.4 231.5 1150.7 230.2 1151.0 228.8 C1151.2 227.5 1151.5 226.2 1151.8 224.9 C1152.1 223.6 1152.4 222.3 1152.7 221.0 C1153.0 219.7 1153.2 218.4 1153.5 217.1 C1153.8 215.8 1154.1 214.5 1154.3 213.2 C1154.6 211.9 1154.9 210.6 1155.1 209.3 C1155.4 208.0 1155.6 206.7 1155.9 205.4 C1156.1 204.0 1156.3 202.7 1156.6 201.4 C1156.8 200.1 1157.0 198.8 1157.2 197.5 C1157.5 196.2 1157.7 194.8 1157.9 193.5 C1158.1 192.2 1158.3 190.9 1158.4 189.6 C1158.6 188.2 1158.7 186.9 1158.9 185.6 C1159.0 184.3 1159.1 182.9 1159.3 181.6 C1159.4 180.3 1159.6 179.0 1159.8 177.6 C1160.0 176.3 1160.2 175.0 1160.4 173.7 C1160.7 172.4 1160.9 171.1 1161.2 169.8 C1161.4 168.5 1161.7 167.2 1162.0 165.8 C1162.3 164.5 1162.5 163.2 1162.8 161.9 C1163.1 160.6 1163.4 159.3 1163.7 158.0 C1164.0 156.7 1164.3 155.4 1164.7 154.2 C1165.0 152.9 1165.3 151.6 1165.7 150.3 C1166.0 149.0 1166.4 147.7 1166.8 146.4 C1167.1 145.2 1167.5 143.9 1167.9 142.6 C1168.3 141.3 1168.7 140.1 1169.2 138.8 C1169.6 137.5 1170.0 136.3 1170.5 135.0 C1170.9 133.8 1171.4 132.5 1171.9 131.3 C1172.3 130.0 1172.8 128.8 1173.3 127.5 C1173.8 126.3 1174.3 125.1 1174.9 123.9 C1175.4 122.7 1176.0 121.5 1176.6 120.3 C1177.3 119.1 1177.9 117.9 1178.6 116.8 C1179.3 115.7 1180.0 114.6 1180.8 113.5 C1181.6 112.4 1182.4 111.3 1183.3 110.3 C1184.1 109.3 1185.0 108.3 1186.0 107.4 C1186.9 106.4 1187.9 105.6 1189.0 104.7 C1190.0 103.9 1191.1 103.1 1192.2 102.4 C1193.3 101.7 1194.5 101.1 1195.7 100.5 C1196.9 99.9 1198.2 99.5 1199.5 99.0 C1200.7 98.6 1202.0 98.3 1203.3 98.0 C1204.6 97.7 1205.9 97.5 1207.3 97.3 C1208.6 97.1 1209.9 97.0 1211.2 96.9 C1212.6 96.8 1213.9 96.7 1215.2 96.7 C1216.5 96.7 1217.9 96.6 1219.2 96.6 C1220.5 96.6 1221.9 96.6 1223.2 96.6 C1224.5 96.6 1225.9 96.6 1227.2 96.6 C1228.5 96.6 1229.9 96.6 1231.2 96.6 C1232.5 96.6 1233.9 96.6 1235.2 96.7 C1236.5 96.7 1237.9 96.7 1239.2 96.7 C1240.5 96.7 1241.9 96.7 1243.2 96.7 C1244.5 96.8 1245.9 96.8 1247.2 96.8 C1248.5 96.8 1249.9 96.8 1251.2 96.9 C1252.5 96.9 1253.9 96.9 1255.2 96.9 C1256.5 96.9 1258.0 96.9 1259.2 97.0 C1260.4 97.0 1262.0 97.0 1262.5 97.0" fill="none" stroke="#2424c8" stroke-width="2.1" stroke-linejoin="round"/></g><path d="M960.89 355.50v-4.50M960.89 4.50v4.50M975.98 355.50v-4.50M975.98 4.50v4.50M991.07 355.50v-4.50M991.07 4.50v4.50M1006.16 355.50v-9.00M1006.16 4.50v9.00M1021.25 355.50v-4.50M1021.25 4.50v4.50M1036.35 355.50v-4.50M1036.35 4.50v4.50M1051.44 355.50v-4.50M1051.44 4.50v4.50M1066.53 355.50v-9.00M1066.53 4.50v9.00M1081.62 355.50v-4.50M1081.62 4.50v4.50M1096.71 355.50v-4.50M1096.71 4.50v4.50M1111.80 355.50v-4.50M1111.80 4.50v4.50M1126.89 355.50v-9.00M1126.89 4.50v9.00M1141.98 355.50v-4.50M1141.98 4.50v4.50M1157.07 355.50v-4.50M1157.07 4.50v4.50M1172.16 355.50v-4.50M1172.16 4.50v4.50M1187.25 355.50v-9.00M1187.25 4.50v9.00M1202.35 355.50v-4.50M1202.35 4.50v4.50M1217.44 355.50v-4.50M1217.44 4.50v4.50M1232.53 355.50v-4.50M1232.53 4.50v4.50M1247.62 355.50v-9.00M1247.62 4.50v9.00M1262.71 355.50v-4.50M1262.71 4.50v4.50M945.80 337.03h4.50M1277.80 337.03h-4.50M945.80 318.55h9.00M1277.80 318.55h-9.00M945.80 300.08h4.50M1277.80 300.08h-4.50M945.80 281.61h9.00M1277.80 281.61h-9.00M945.80 263.13h4.50M1277.80 263.13h-4.50M945.80 244.66h9.00M1277.80 244.66h-9.00M945.80 226.18h4.50M1277.80 226.18h-4.50M945.80 207.71h9.00M1277.80 207.71h-9.00M945.80 189.24h4.50M1277.80 189.24h-4.50M945.80 170.76h9.00M1277.80 170.76h-9.00M945.80 152.29h4.50M1277.80 152.29h-4.50M945.80 133.82h9.00M1277.80 133.82h-9.00M945.80 115.34h4.50M1277.80 115.34h-4.50M945.80 96.87h9.00M1277.80 96.87h-9.00M945.80 78.39h4.50M1277.80 78.39h-4.50M945.80 59.92h9.00M1277.80 59.92h-9.00M945.80 41.45h4.50M1277.80 41.45h-4.50M945.80 22.97h9.00M1277.80 22.97h-9.00" stroke="#333333" stroke-width="2" fill="none"/><rect x="945.80" y="4.50" width="332.00" height="351.00" fill="none" stroke="#333333" stroke-width="2.2"/><g font-family='"Liberation Sans", sans-serif' font-weight="bold" font-size="19.2" fill="#0c0c0c" stroke="#0c0c0c" stroke-width="0.3"><text transform="translate(935.50 361.30) scale(1.0 1)" text-anchor="end">-700</text><text transform="translate(935.50 324.35) scale(1.0 1)" text-anchor="end">-600</text><text transform="translate(935.50 287.41) scale(1.0 1)" text-anchor="end">-500</text><text transform="translate(935.50 250.46) scale(1.0 1)" text-anchor="end">-400</text><text transform="translate(935.50 213.51) scale(1.0 1)" text-anchor="end">-300</text><text transform="translate(935.50 176.56) scale(1.0 1)" text-anchor="end">-200</text><text transform="translate(935.50 139.62) scale(1.0 1)" text-anchor="end">-100</text><text transform="translate(935.50 102.67) scale(1.0 1)" text-anchor="end">0</text><text transform="translate(935.50 65.72) scale(1.0 1)" text-anchor="end">100</text><text transform="translate(935.50 28.77) scale(1.0 1)" text-anchor="end">200</text><text transform="translate(945.80 380.90) scale(1.01 1)" text-anchor="middle">0.8</text><text transform="translate(1006.16 380.90) scale(1.01 1)" text-anchor="middle">0.6</text><text transform="translate(1066.53 380.90) scale(1.01 1)" text-anchor="middle">0.4</text><text transform="translate(1126.89 380.90) scale(1.01 1)" text-anchor="middle">0.2</text><text transform="translate(1187.25 380.90) scale(1.01 1)" text-anchor="middle">0.0</text><text transform="translate(1247.62 380.90) scale(1.01 1)" text-anchor="middle">-0.2</text></g><text transform="translate(1111.80 409.50) scale(1.04 1)" text-anchor="middle" font-family='"Liberation Sans", sans-serif' font-weight="bold" font-size="23.5" fill="#0c0c0c" stroke="#0c0c0c" stroke-width="0.4">E / V vs. SCE</text><text transform="translate(886.30 180.00) rotate(-90)" text-anchor="middle" font-family='"Liberation Sans", sans-serif' font-weight="bold" font-size="24" fill="#0c0c0c">j / μA cm<tspan font-size="18" dy="-13">-2</tspan></text><text x="967.60" y="41.50" font-family='"Liberation Sans", sans-serif' font-weight="bold" font-size="35" fill="#000">c</text><text transform="translate(970.00 336.70) scale(1.05 1)" font-family='"Liberation Sans", sans-serif' font-weight="bold" font-size="16" fill="#151515">25 mM lactose</text></g>
<g><clipPath id="cd"><rect x="87.20" y="449.60" width="332.00" height="351.00"/></clipPath><g clip-path="url(#cd)"><line x1="87.20" y1="541.97" x2="419.20" y2="541.97" stroke="#222" stroke-width="2"/><path d="M103.0 554.7 C103.5 554.3 105.0 552.9 106.1 552.2 C107.2 551.5 108.4 550.8 109.6 550.3 C110.8 549.8 112.1 549.5 113.4 549.2 C114.7 548.9 116.1 548.8 117.4 548.6 C118.7 548.4 120.0 548.3 121.4 548.1 C122.7 548.0 124.0 547.8 125.3 547.7 C126.7 547.5 128.0 547.4 129.3 547.3 C130.6 547.2 132.0 547.1 133.3 547.0 C134.6 546.9 136.0 546.8 137.3 546.8 C138.6 546.7 140.0 546.6 141.3 546.6 C142.6 546.5 144.0 546.5 145.3 546.4 C146.6 546.4 148.0 546.3 149.3 546.3 C150.6 546.2 151.9 546.2 153.3 546.2 C154.6 546.1 155.9 546.1 157.3 546.1 C158.6 546.0 159.9 546.0 161.3 546.0 C162.6 545.9 163.9 545.9 165.3 545.9 C166.6 545.8 167.9 545.8 169.3 545.7 C170.6 545.7 171.9 545.7 173.3 545.6 C174.6 545.6 175.9 545.5 177.3 545.5 C178.6 545.5 179.9 545.4 181.3 545.4 C182.6 545.3 183.9 545.3 185.3 545.2 C186.6 545.1 187.9 545.1 189.3 545.0 C190.6 545.0 191.9 544.9 193.3 544.8 C194.6 544.8 195.9 544.7 197.3 544.6 C198.6 544.6 199.9 544.5 201.2 544.4 C202.6 544.4 203.9 544.3 205.2 544.2 C206.6 544.1 207.9 544.0 209.2 543.9 C210.6 543.9 211.9 543.8 213.2 543.7 C214.6 543.6 215.9 543.5 217.2 543.4 C218.5 543.3 219.9 543.2 221.2 543.1 C222.5 543.0 223.9 542.8 225.2 542.7 C226.5 542.6 227.8 542.4 229.2 542.3 C230.5 542.2 231.8 542.0 233.1 541.9 C234.5 541.7 235.8 541.6 237.1 541.5 C238.4 541.3 239.8 541.1 241.1 540.8 C242.3 540.5 243.6 540.1 244.9 539.6 C246.1 539.1 247.3 538.6 248.5 537.9 C249.7 537.3 250.8 536.5 251.8 535.7 C252.9 534.9 253.9 534.0 254.9 533.2 C255.9 532.3 256.9 531.5 257.9 530.6 C258.9 529.7 259.9 528.7 260.8 527.8 C261.7 526.8 262.6 525.8 263.5 524.8 C264.4 523.8 265.2 522.8 266.1 521.8 C266.9 520.8 267.7 519.7 268.5 518.6 C269.3 517.6 270.1 516.5 270.9 515.4 C271.6 514.3 272.4 513.2 273.1 512.1 C273.8 511.0 274.6 509.9 275.3 508.7 C275.9 507.6 276.6 506.4 277.1 505.2 C277.7 504.0 278.2 502.7 278.7 501.5 C279.3 500.3 279.8 499.0 280.3 497.8 C280.8 496.6 281.3 495.4 281.9 494.2 C282.4 492.9 283.0 491.7 283.5 490.5 C284.1 489.3 284.6 488.1 285.1 486.8 C285.7 485.6 286.2 484.4 286.8 483.2 C287.4 482.0 288.0 480.8 288.5 479.6 C289.1 478.4 289.8 477.2 290.4 476.0 C291.0 474.9 291.5 473.7 292.2 472.5 C292.8 471.3 293.5 470.1 294.2 469.1 C295.0 468.0 295.9 466.9 296.8 466.1 C297.8 465.2 299.0 464.4 300.1 463.9 C301.3 463.3 302.6 462.9 303.8 463.0 C305.0 463.2 306.2 464.0 307.3 464.7 C308.4 465.5 309.2 466.5 310.2 467.5 C311.1 468.5 312.0 469.5 312.8 470.5 C313.7 471.5 314.5 472.5 315.4 473.6 C316.2 474.6 317.0 475.7 317.8 476.8 C318.6 477.9 319.3 478.9 320.1 480.0 C320.9 481.1 321.7 482.2 322.5 483.3 C323.2 484.3 324.0 485.4 324.8 486.5 C325.6 487.6 326.4 488.7 327.2 489.7 C328.0 490.7 328.9 491.7 329.8 492.7 C330.7 493.7 331.6 494.7 332.5 495.7 C333.4 496.6 334.3 497.7 335.2 498.7 C336.1 499.6 337.0 500.6 337.9 501.5 C338.9 502.4 340.0 503.3 341.0 504.1 C342.1 504.9 343.1 505.7 344.2 506.5 C345.3 507.3 346.4 508.1 347.5 508.8 C348.6 509.5 349.7 510.3 350.8 511.0 C352.0 511.6 353.2 512.2 354.4 512.8 C355.6 513.3 356.9 513.7 358.1 514.2 C359.4 514.7 360.7 515.1 361.9 515.5 C363.2 516.0 364.4 516.5 365.6 517.0 C366.9 517.4 368.2 517.9 369.4 518.3 C370.7 518.7 372.0 519.1 373.2 519.5 C374.5 519.8 375.8 520.2 377.1 520.5 C378.4 520.8 379.7 521.0 381.0 521.3 C382.3 521.6 383.6 521.9 384.9 522.1 C386.2 522.4 387.5 522.7 388.8 523.0 C390.2 523.2 391.5 523.5 392.8 523.7 C394.1 524.0 395.4 524.2 396.7 524.4 C398.0 524.6 399.4 524.8 400.7 525.1 C401.9 525.4 403.7 525.8 404.3 526.0" fill="none" stroke="#303030" stroke-width="2.5" stroke-dasharray="4.5 4" stroke-linejoin="round"/><path d="M103.0 554.7 C103.6 554.5 105.5 554.0 106.8 553.6 C108.1 553.3 109.4 552.9 110.7 552.7 C112.0 552.4 113.4 552.2 114.7 552.0 C116.0 551.9 117.3 551.8 118.7 551.6 C120.0 551.5 121.3 551.5 122.6 551.4 C124.0 551.3 125.3 551.3 126.6 551.3 C128.0 551.2 129.3 551.2 130.6 551.2 C132.0 551.1 133.3 551.1 134.6 551.1 C136.0 551.1 137.3 551.1 138.6 551.1 C140.0 551.1 141.3 551.1 142.6 551.1 C144.0 551.1 145.3 551.1 146.6 551.2 C148.0 551.2 149.3 551.2 150.6 551.3 C152.0 551.3 153.3 551.4 154.6 551.4 C156.0 551.5 157.3 551.5 158.6 551.6 C160.0 551.7 161.3 551.7 162.6 551.8 C164.0 551.9 165.3 552.0 166.6 552.1 C167.9 552.2 169.3 552.3 170.6 552.4 C171.9 552.5 173.3 552.6 174.6 552.7 C175.9 552.8 177.2 552.9 178.6 553.0 C179.9 553.2 181.2 553.3 182.6 553.4 C183.9 553.6 185.2 553.7 186.5 553.9 C187.9 554.0 189.2 554.2 190.5 554.4 C191.8 554.5 193.1 554.7 194.5 554.9 C195.8 555.1 197.1 555.3 198.4 555.5 C199.7 555.8 201.0 556.0 202.4 556.2 C203.7 556.5 205.0 556.7 206.3 557.0 C207.6 557.3 208.9 557.7 210.2 558.0 C211.4 558.3 212.7 558.7 214.0 559.0 C215.3 559.4 216.6 559.8 217.8 560.2 C219.1 560.6 220.4 561.1 221.6 561.6 C222.8 562.1 224.0 562.6 225.3 563.2 C226.5 563.8 227.6 564.4 228.8 565.0 C230.0 565.6 231.2 566.2 232.3 566.9 C233.5 567.6 234.6 568.4 235.6 569.2 C236.7 570.0 237.6 570.9 238.6 571.8 C239.6 572.8 240.5 573.7 241.4 574.7 C242.3 575.6 243.2 576.6 244.1 577.6 C245.0 578.6 245.9 579.6 246.6 580.7 C247.4 581.8 248.1 582.9 248.8 584.1 C249.5 585.2 250.2 586.4 250.8 587.6 C251.4 588.7 251.9 590.0 252.5 591.2 C253.1 592.4 253.7 593.6 254.2 594.8 C254.8 596.0 255.5 597.1 256.1 598.3 C256.6 599.5 257.2 600.8 257.6 602.0 C258.1 603.3 258.4 604.5 258.8 605.8 C259.2 607.1 259.5 608.4 259.9 609.7 C260.3 610.9 260.7 612.2 261.1 613.5 C261.6 614.7 262.1 616.0 262.6 617.2 C263.1 618.4 263.7 619.6 264.2 620.9 C264.7 622.1 265.3 623.3 265.8 624.5 C266.3 625.8 266.9 627.0 267.4 628.2 C267.9 629.4 268.2 630.7 268.7 632.0 C269.1 633.2 269.5 634.5 270.1 635.7 C270.6 636.9 271.3 638.1 272.0 639.2 C272.8 640.2 273.7 641.4 274.8 642.0 C275.8 642.7 277.2 643.1 278.3 642.9 C279.5 642.7 280.6 641.7 281.6 640.8 C282.6 640.0 283.4 638.9 284.2 637.8 C284.9 636.7 285.5 635.5 286.1 634.3 C286.6 633.1 287.0 631.8 287.5 630.5 C288.0 629.3 288.4 628.0 288.9 626.8 C289.3 625.5 289.8 624.3 290.2 623.0 C290.6 621.8 291.1 620.5 291.5 619.2 C291.9 618.0 292.4 616.7 292.8 615.4 C293.2 614.2 293.6 612.9 294.0 611.6 C294.4 610.4 294.8 609.1 295.2 607.8 C295.5 606.5 295.9 605.2 296.2 603.9 C296.5 602.7 296.9 601.4 297.2 600.1 C297.5 598.8 297.9 597.5 298.2 596.2 C298.5 594.9 298.9 593.6 299.3 592.3 C299.6 591.0 300.0 589.8 300.3 588.5 C300.7 587.2 301.1 585.9 301.5 584.6 C301.9 583.4 302.2 582.1 302.6 580.8 C303.0 579.5 303.4 578.3 303.9 577.0 C304.3 575.7 304.7 574.5 305.1 573.2 C305.6 572.0 306.0 570.7 306.5 569.5 C306.9 568.2 307.4 567.0 307.9 565.7 C308.4 564.5 308.8 563.2 309.4 562.0 C309.9 560.8 310.5 559.6 311.1 558.4 C311.7 557.2 312.4 556.1 313.1 555.0 C313.9 553.8 314.6 552.7 315.5 551.8 C316.5 550.9 317.7 550.3 318.7 549.5 C319.8 548.7 320.9 548.0 321.9 547.1 C322.9 546.3 323.8 545.3 324.9 544.5 C325.9 543.6 326.9 542.8 328.0 542.0 C329.1 541.3 330.3 540.5 331.5 540.0 C332.7 539.5 334.0 539.1 335.2 538.8 C336.5 538.5 337.9 538.3 339.2 538.0 C340.5 537.7 341.8 537.4 343.1 537.1 C344.4 536.8 345.7 536.5 347.0 536.3 C348.3 536.1 349.6 535.9 350.9 535.7 C352.3 535.5 353.6 535.5 354.9 535.3 C356.2 535.1 357.6 534.9 358.9 534.7 C360.2 534.5 361.5 534.3 362.8 534.1 C364.1 533.9 365.5 533.7 366.8 533.5 C368.1 533.3 369.4 533.2 370.7 533.0 C372.1 532.8 373.4 532.7 374.7 532.5 C376.0 532.3 377.4 532.1 378.7 531.9 C380.0 531.7 381.3 531.4 382.6 531.2 C383.9 530.9 385.2 530.6 386.5 530.3 C387.8 530.1 389.1 529.9 390.5 529.7 C391.8 529.5 393.1 529.3 394.4 529.0 C395.7 528.7 397.0 528.3 398.2 527.9 C399.5 527.5 401.0 527.0 402.1 526.7 C403.1 526.4 403.9 526.1 404.3 526.0" fill="none" stroke="#303030" stroke-width="2.5" stroke-dasharray="4.5 4" stroke-linejoin="round"/><path d="M102.4 597.2 C103.0 597.0 105.0 596.4 106.2 596.0 C107.5 595.6 108.8 595.1 110.0 594.7 C111.3 594.4 112.6 594.0 113.9 593.6 C115.2 593.3 116.4 593.0 117.7 592.7 C119.1 592.4 120.4 592.2 121.7 591.9 C123.0 591.7 124.3 591.6 125.6 591.4 C127.0 591.3 128.3 591.2 129.6 591.1 C131.0 591.0 132.3 590.9 133.6 590.8 C135.0 590.8 136.3 590.7 137.6 590.6 C138.9 590.6 140.3 590.5 141.6 590.5 C142.9 590.4 144.3 590.4 145.6 590.4 C146.9 590.3 148.3 590.3 149.6 590.2 C150.9 590.2 152.3 590.2 153.6 590.1 C154.9 590.1 156.3 590.0 157.6 590.0 C158.9 589.9 160.3 589.9 161.6 589.8 C162.9 589.8 164.3 589.7 165.6 589.7 C166.9 589.7 168.3 589.6 169.6 589.6 C170.9 589.5 172.3 589.5 173.6 589.5 C174.9 589.4 176.3 589.4 177.6 589.4 C178.9 589.3 180.3 589.3 181.6 589.3 C182.9 589.2 184.3 589.2 185.6 589.2 C186.9 589.1 188.3 589.1 189.6 589.1 C190.9 589.0 192.3 589.0 193.6 588.9 C194.9 588.9 196.3 588.8 197.6 588.8 C198.9 588.7 200.3 588.7 201.6 588.6 C202.9 588.6 204.2 588.5 205.6 588.4 C206.9 588.4 208.2 588.3 209.6 588.3 C210.9 588.2 212.2 588.1 213.6 588.1 C214.9 588.0 216.2 587.9 217.6 587.8 C218.9 587.7 220.2 587.6 221.5 587.5 C222.9 587.3 224.2 587.2 225.5 587.0 C226.8 586.9 228.2 586.7 229.5 586.5 C230.8 586.3 232.1 586.0 233.4 585.8 C234.7 585.5 236.0 585.2 237.3 584.9 C238.6 584.6 239.9 584.3 241.2 583.9 C242.5 583.5 243.7 583.1 245.0 582.6 C246.2 582.1 247.4 581.6 248.6 581.0 C249.8 580.4 251.0 579.8 252.2 579.1 C253.3 578.4 254.4 577.7 255.5 576.9 C256.6 576.1 257.6 575.3 258.6 574.4 C259.6 573.5 260.5 572.5 261.4 571.5 C262.3 570.5 263.1 569.5 263.9 568.4 C264.7 567.4 265.5 566.2 266.2 565.1 C266.9 564.0 267.5 562.8 268.2 561.7 C268.8 560.5 269.4 559.3 270.1 558.1 C270.7 556.9 271.3 555.8 271.9 554.6 C272.5 553.4 273.2 552.2 273.8 551.0 C274.4 549.8 274.9 548.6 275.5 547.4 C276.1 546.2 276.6 545.0 277.2 543.8 C277.7 542.6 278.2 541.4 278.8 540.1 C279.3 538.9 279.8 537.7 280.3 536.4 C280.8 535.2 281.4 534.0 281.9 532.8 C282.5 531.6 283.1 530.4 283.7 529.2 C284.3 528.0 284.9 526.8 285.6 525.7 C286.2 524.5 286.8 523.3 287.6 522.2 C288.3 521.1 289.0 519.9 289.8 518.9 C290.6 517.9 291.5 516.9 292.5 516.0 C293.5 515.1 294.5 514.2 295.7 513.5 C296.8 512.8 298.0 512.2 299.2 511.9 C300.5 511.5 301.9 511.4 303.2 511.4 C304.5 511.4 305.9 511.5 307.1 511.8 C308.4 512.2 309.6 512.8 310.7 513.5 C311.8 514.2 312.8 515.2 313.8 516.1 C314.7 517.0 315.7 517.9 316.6 518.8 C317.6 519.8 318.5 520.7 319.5 521.7 C320.4 522.6 321.3 523.6 322.2 524.6 C323.2 525.5 324.1 526.5 325.1 527.3 C326.1 528.2 327.2 529.0 328.3 529.8 C329.4 530.6 330.5 531.3 331.6 531.9 C332.8 532.6 334.0 533.1 335.3 533.6 C336.5 534.1 337.7 534.6 339.0 535.0 C340.3 535.4 341.6 535.7 342.9 536.0 C344.2 536.3 345.5 536.5 346.8 536.7 C348.1 537.0 349.4 537.1 350.8 537.3 C352.1 537.4 353.4 537.6 354.7 537.7 C356.1 537.8 357.4 537.9 358.7 538.0 C360.1 538.1 361.4 538.2 362.7 538.3 C364.1 538.4 365.4 538.5 366.7 538.5 C368.1 538.6 369.4 538.7 370.7 538.8 C372.0 538.8 373.4 538.9 374.7 538.9 C376.0 539.0 377.4 539.1 378.7 539.1 C380.0 539.2 381.4 539.2 382.7 539.3 C384.0 539.3 385.4 539.4 386.7 539.4 C388.0 539.5 389.4 539.5 390.7 539.5 C392.0 539.6 393.4 539.6 394.7 539.7 C396.0 539.7 397.4 539.8 398.7 539.8 C400.0 539.9 401.8 539.9 402.7 539.9 C403.6 540.0 403.9 540.0 404.1 540.0" fill="none" stroke="#303030" stroke-width="2.1" stroke-linejoin="round"/><path d="M102.4 597.2 C103.1 597.1 105.0 596.6 106.3 596.3 C107.6 596.0 108.9 595.7 110.2 595.4 C111.5 595.2 112.8 594.9 114.1 594.7 C115.4 594.4 116.8 594.2 118.1 594.1 C119.4 593.9 120.7 593.8 122.1 593.7 C123.4 593.6 124.7 593.5 126.1 593.5 C127.4 593.5 128.7 593.5 130.1 593.5 C131.4 593.5 132.7 593.5 134.1 593.5 C135.4 593.5 136.7 593.6 138.1 593.6 C139.4 593.6 140.7 593.7 142.1 593.7 C143.4 593.8 144.7 593.8 146.1 593.9 C147.4 593.9 148.7 594.0 150.1 594.0 C151.4 594.1 152.7 594.2 154.1 594.2 C155.4 594.3 156.7 594.4 158.0 594.4 C159.4 594.5 160.7 594.5 162.0 594.6 C163.4 594.7 164.7 594.7 166.0 594.8 C167.4 594.9 168.7 595.0 170.0 595.0 C171.4 595.1 172.7 595.2 174.0 595.3 C175.4 595.3 176.7 595.4 178.0 595.5 C179.3 595.6 180.7 595.7 182.0 595.8 C183.3 595.9 184.7 596.0 186.0 596.1 C187.3 596.2 188.7 596.3 190.0 596.4 C191.3 596.6 192.6 596.7 194.0 596.8 C195.3 597.0 196.6 597.2 197.9 597.3 C199.3 597.5 200.6 597.7 201.9 597.8 C203.2 598.0 204.5 598.2 205.9 598.4 C207.2 598.6 208.5 598.8 209.8 599.0 C211.1 599.3 212.4 599.5 213.7 599.8 C215.0 600.0 216.3 600.3 217.6 600.7 C218.9 601.0 220.2 601.3 221.5 601.7 C222.8 602.1 224.0 602.5 225.3 603.0 C226.5 603.5 227.7 604.1 228.9 604.6 C230.1 605.2 231.3 605.8 232.5 606.5 C233.6 607.2 234.7 607.9 235.8 608.6 C237.0 609.4 238.0 610.2 239.1 610.9 C240.2 611.7 241.3 612.5 242.3 613.4 C243.3 614.3 244.3 615.2 245.1 616.2 C246.0 617.2 246.8 618.2 247.6 619.3 C248.3 620.4 249.0 621.6 249.7 622.7 C250.4 623.9 251.1 625.0 251.7 626.2 C252.4 627.3 252.9 628.6 253.5 629.7 C254.1 630.9 254.7 632.1 255.3 633.3 C256.0 634.5 256.6 635.6 257.3 636.8 C258.0 637.9 258.7 639.1 259.4 640.2 C260.1 641.3 260.8 642.5 261.5 643.6 C262.2 644.7 262.9 645.9 263.7 646.9 C264.5 648.0 265.4 649.0 266.3 649.9 C267.3 650.9 268.3 651.9 269.4 652.4 C270.6 652.8 272.0 653.1 273.2 652.9 C274.4 652.7 275.7 652.1 276.7 651.3 C277.7 650.5 278.5 649.3 279.3 648.3 C280.1 647.2 280.8 646.1 281.5 644.9 C282.1 643.8 282.8 642.6 283.4 641.4 C283.9 640.2 284.5 639.0 285.1 637.8 C285.6 636.6 286.1 635.3 286.7 634.1 C287.2 632.9 287.7 631.7 288.3 630.4 C288.8 629.2 289.4 628.0 289.9 626.8 C290.4 625.6 291.0 624.3 291.4 623.1 C291.9 621.9 292.4 620.6 292.8 619.3 C293.3 618.1 293.7 616.8 294.1 615.6 C294.6 614.3 295.1 613.1 295.5 611.8 C296.0 610.6 296.5 609.3 296.9 608.1 C297.4 606.8 297.7 605.5 298.1 604.2 C298.5 603.0 298.8 601.7 299.2 600.4 C299.6 599.1 299.9 597.8 300.3 596.6 C300.7 595.3 301.1 594.0 301.5 592.7 C301.9 591.5 302.3 590.2 302.9 589.0 C303.4 587.8 304.0 586.6 304.6 585.4 C305.2 584.2 305.8 583.0 306.4 581.8 C306.9 580.6 307.5 579.4 308.0 578.2 C308.6 576.9 309.0 575.7 309.5 574.4 C310.0 573.2 310.4 571.9 310.9 570.7 C311.4 569.5 311.9 568.2 312.5 567.0 C313.1 565.8 313.7 564.7 314.4 563.5 C315.0 562.4 315.7 561.2 316.5 560.1 C317.2 559.0 318.0 557.9 318.9 556.9 C319.8 555.9 320.7 554.9 321.7 554.0 C322.6 553.2 323.7 552.4 324.8 551.6 C325.9 550.8 327.0 550.1 328.1 549.3 C329.2 548.6 330.3 547.9 331.5 547.2 C332.7 546.6 333.8 545.9 335.0 545.4 C336.3 544.8 337.5 544.4 338.8 544.0 C340.1 543.6 341.4 543.4 342.7 543.2 C344.0 542.9 345.3 542.8 346.7 542.6 C348.0 542.5 349.3 542.4 350.6 542.3 C352.0 542.2 353.3 542.1 354.6 542.0 C356.0 542.0 357.3 541.9 358.6 541.9 C360.0 541.8 361.3 541.8 362.6 541.8 C364.0 541.7 365.3 541.7 366.6 541.7 C368.0 541.6 369.3 541.6 370.6 541.6 C372.0 541.6 373.3 541.6 374.6 541.5 C376.0 541.5 377.3 541.5 378.6 541.5 C380.0 541.5 381.3 541.4 382.6 541.4 C384.0 541.4 385.3 541.4 386.6 541.4 C388.0 541.4 389.3 541.4 390.6 541.3 C392.0 541.3 393.3 541.3 394.6 541.3 C396.0 541.3 397.3 541.3 398.6 541.3 C400.0 541.2 401.7 541.2 402.6 541.2 C403.5 541.2 403.9 541.2 404.1 541.2" fill="none" stroke="#303030" stroke-width="2.1" stroke-linejoin="round"/><path d="M102.4 645.4 C103.1 645.2 105.0 644.7 106.3 644.4 C107.6 644.1 108.9 643.7 110.2 643.4 C111.5 643.1 112.8 642.8 114.1 642.5 C115.4 642.2 116.7 642.0 118.0 641.7 C119.3 641.5 120.6 641.3 121.9 641.1 C123.2 640.9 124.6 640.8 125.9 640.6 C127.2 640.5 128.6 640.3 129.9 640.2 C131.2 640.1 132.5 640.0 133.9 639.9 C135.2 639.8 136.5 639.7 137.9 639.6 C139.2 639.5 140.5 639.4 141.8 639.3 C143.2 639.3 144.5 639.2 145.8 639.1 C147.2 639.0 148.5 638.9 149.8 638.9 C151.2 638.8 152.5 638.7 153.8 638.6 C155.2 638.6 156.5 638.5 157.8 638.4 C159.2 638.3 160.5 638.3 161.8 638.2 C163.1 638.1 164.5 638.0 165.8 638.0 C167.1 637.9 168.5 637.9 169.8 637.8 C171.1 637.7 172.5 637.7 173.8 637.6 C175.1 637.6 176.5 637.5 177.8 637.5 C179.1 637.4 180.5 637.4 181.8 637.3 C183.1 637.3 184.5 637.2 185.8 637.1 C187.1 637.1 188.5 637.0 189.8 637.0 C191.1 636.9 192.4 636.8 193.8 636.7 C195.1 636.7 196.4 636.6 197.8 636.5 C199.1 636.4 200.4 636.3 201.8 636.2 C203.1 636.1 204.4 636.0 205.7 635.9 C207.1 635.8 208.4 635.7 209.7 635.6 C211.1 635.4 212.4 635.3 213.7 635.2 C215.0 635.0 216.4 634.9 217.7 634.7 C219.0 634.6 220.3 634.4 221.7 634.2 C223.0 634.0 224.3 633.8 225.6 633.6 C226.9 633.4 228.2 633.1 229.5 632.9 C230.8 632.6 232.2 632.3 233.4 632.0 C234.7 631.7 236.0 631.3 237.3 630.9 C238.6 630.5 239.8 630.1 241.1 629.6 C242.3 629.1 243.5 628.6 244.7 628.0 C245.9 627.4 247.1 626.8 248.3 626.1 C249.4 625.4 250.5 624.7 251.5 623.9 C252.6 623.0 253.6 622.2 254.6 621.2 C255.5 620.3 256.4 619.3 257.3 618.3 C258.1 617.3 258.9 616.2 259.7 615.1 C260.5 614.0 261.2 612.9 261.9 611.8 C262.6 610.7 263.3 609.5 264.0 608.4 C264.7 607.2 265.3 606.1 265.9 604.9 C266.5 603.7 267.1 602.5 267.6 601.2 C268.1 600.0 268.6 598.8 269.2 597.6 C269.7 596.3 270.1 595.1 270.6 593.8 C271.1 592.6 271.6 591.4 272.1 590.1 C272.6 588.9 273.0 587.6 273.5 586.4 C273.9 585.1 274.3 583.8 274.8 582.6 C275.2 581.3 275.6 580.1 276.1 578.8 C276.5 577.5 276.9 576.3 277.4 575.0 C277.9 573.8 278.4 572.5 278.9 571.3 C279.4 570.1 279.9 568.9 280.5 567.7 C281.1 566.5 281.7 565.3 282.3 564.1 C282.9 562.9 283.5 561.7 284.1 560.5 C284.8 559.4 285.4 558.2 286.1 557.0 C286.8 555.9 287.5 554.7 288.2 553.6 C288.9 552.5 289.6 551.4 290.3 550.3 C291.1 549.2 291.9 548.1 292.7 547.1 C293.6 546.0 294.4 545.0 295.4 544.1 C296.3 543.1 297.3 542.2 298.4 541.4 C299.4 540.7 300.6 540.0 301.8 539.4 C303.0 538.8 304.3 538.4 305.5 538.0 C306.8 537.7 308.1 537.5 309.5 537.2 C310.8 537.0 312.1 536.9 313.4 536.8 C314.7 536.6 316.1 536.5 317.4 536.5 C318.7 536.4 320.1 536.4 321.4 536.3 C322.7 536.3 324.1 536.3 325.4 536.3 C326.7 536.3 328.1 536.4 329.4 536.4 C330.7 536.5 332.1 536.6 333.4 536.7 C334.7 536.8 336.1 536.8 337.4 536.9 C338.7 537.0 340.1 537.1 341.4 537.2 C342.7 537.2 344.0 537.3 345.4 537.4 C346.7 537.4 348.0 537.5 349.4 537.6 C350.7 537.6 352.0 537.7 353.4 537.8 C354.7 537.8 356.0 537.9 357.4 538.0 C358.7 538.0 360.0 538.1 361.4 538.1 C362.7 538.2 364.0 538.3 365.4 538.3 C366.7 538.4 368.0 538.4 369.4 538.5 C370.7 538.5 372.0 538.6 373.3 538.6 C374.7 538.7 376.0 538.7 377.3 538.7 C378.7 538.8 380.0 538.8 381.3 538.8 C382.7 538.9 384.0 538.9 385.3 538.9 C386.7 539.0 388.0 539.0 389.3 539.0 C390.7 539.1 392.0 539.1 393.3 539.1 C394.7 539.2 396.0 539.2 397.3 539.2 C398.7 539.3 400.2 539.3 401.3 539.3 C402.5 539.4 403.6 539.4 404.1 539.4" fill="none" stroke="#dc3844" stroke-width="2.1" stroke-linejoin="round"/><path d="M102.4 645.4 C103.1 645.3 105.0 644.9 106.3 644.7 C107.7 644.4 109.0 644.2 110.3 643.9 C111.6 643.7 112.9 643.5 114.2 643.3 C115.5 643.1 116.9 642.9 118.2 642.8 C119.5 642.7 120.8 642.5 122.2 642.5 C123.5 642.4 124.8 642.3 126.2 642.3 C127.5 642.3 128.8 642.3 130.2 642.2 C131.5 642.2 132.8 642.2 134.2 642.2 C135.5 642.2 136.8 642.3 138.2 642.3 C139.5 642.3 140.8 642.3 142.2 642.3 C143.5 642.4 144.8 642.4 146.2 642.4 C147.5 642.5 148.8 642.5 150.2 642.6 C151.5 642.6 152.8 642.6 154.2 642.7 C155.5 642.7 156.8 642.8 158.2 642.8 C159.5 642.9 160.8 642.9 162.2 643.0 C163.5 643.1 164.8 643.1 166.2 643.2 C167.5 643.2 168.8 643.3 170.2 643.4 C171.5 643.4 172.8 643.5 174.1 643.6 C175.5 643.6 176.8 643.7 178.1 643.8 C179.5 643.9 180.8 644.0 182.1 644.1 C183.5 644.2 184.8 644.3 186.1 644.4 C187.4 644.5 188.8 644.6 190.1 644.7 C191.4 644.9 192.8 645.0 194.1 645.2 C195.4 645.3 196.7 645.5 198.0 645.7 C199.4 645.9 200.7 646.0 202.0 646.3 C203.3 646.5 204.6 646.7 206.0 646.9 C207.3 647.1 208.6 647.4 209.9 647.6 C211.2 647.9 212.5 648.2 213.8 648.5 C215.1 648.8 216.4 649.1 217.7 649.5 C218.9 649.9 220.2 650.2 221.5 650.7 C222.7 651.1 224.0 651.6 225.2 652.2 C226.4 652.7 227.6 653.3 228.8 653.9 C229.9 654.6 231.1 655.3 232.2 656.0 C233.3 656.7 234.4 657.5 235.5 658.3 C236.6 659.1 237.6 659.9 238.7 660.7 C239.8 661.5 240.8 662.3 241.9 663.1 C242.9 663.9 244.0 664.7 245.0 665.5 C246.1 666.4 247.1 667.3 248.1 668.1 C249.1 669.0 250.0 669.9 251.0 670.8 C252.0 671.7 253.0 672.6 254.0 673.5 C255.0 674.4 256.0 675.3 257.0 676.2 C258.0 677.0 258.9 678.0 260.0 678.8 C261.0 679.6 262.1 680.5 263.3 681.0 C264.5 681.5 265.9 681.8 267.1 681.6 C268.4 681.5 269.7 681.0 270.8 680.3 C271.8 679.6 272.6 678.4 273.3 677.3 C274.0 676.2 274.5 675.0 275.1 673.7 C275.6 672.5 276.1 671.3 276.5 670.0 C276.9 668.7 277.4 667.5 277.7 666.2 C278.0 664.9 278.3 663.6 278.6 662.3 C278.9 661.0 279.2 659.7 279.5 658.4 C279.9 657.1 280.3 655.9 280.7 654.6 C281.0 653.3 281.4 652.0 281.8 650.7 C282.2 649.5 282.6 648.2 283.0 646.9 C283.4 645.6 283.8 644.4 284.2 643.1 C284.6 641.8 285.1 640.6 285.5 639.3 C285.9 638.1 286.4 636.8 286.8 635.5 C287.2 634.3 287.6 633.0 288.0 631.7 C288.4 630.5 288.8 629.2 289.2 627.9 C289.6 626.6 290.0 625.4 290.4 624.1 C290.8 622.8 291.2 621.5 291.6 620.3 C292.0 619.0 292.4 617.7 292.8 616.4 C293.1 615.2 293.5 613.9 293.9 612.6 C294.3 611.3 294.7 610.1 295.0 608.8 C295.4 607.5 295.8 606.2 296.1 604.9 C296.5 603.7 296.9 602.4 297.2 601.1 C297.6 599.8 297.9 598.5 298.2 597.2 C298.5 595.9 298.8 594.6 299.2 593.3 C299.5 592.0 299.8 590.7 300.2 589.5 C300.6 588.2 301.1 587.0 301.6 585.7 C302.1 584.5 302.6 583.3 303.1 582.0 C303.7 580.8 304.2 579.6 304.7 578.3 C305.2 577.1 305.7 575.9 306.2 574.6 C306.6 573.4 307.1 572.1 307.6 570.9 C308.1 569.7 308.7 568.4 309.2 567.2 C309.8 566.0 310.4 564.8 311.0 563.7 C311.6 562.5 312.2 561.3 312.9 560.1 C313.6 559.0 314.3 557.8 315.1 556.8 C315.9 555.7 316.7 554.7 317.7 553.8 C318.6 552.8 319.7 552.0 320.8 551.2 C321.9 550.5 323.0 549.8 324.2 549.1 C325.3 548.5 326.5 547.8 327.7 547.2 C328.8 546.6 330.0 546.0 331.2 545.4 C332.4 544.9 333.7 544.3 334.9 543.9 C336.2 543.5 337.5 543.1 338.8 542.9 C340.1 542.6 341.4 542.4 342.7 542.2 C344.1 542.1 345.4 542.0 346.7 541.9 C348.0 541.8 349.4 541.7 350.7 541.6 C352.0 541.6 353.4 541.5 354.7 541.5 C356.0 541.5 357.4 541.5 358.7 541.4 C360.0 541.4 361.4 541.4 362.7 541.4 C364.0 541.3 365.4 541.3 366.7 541.3 C368.0 541.3 369.4 541.3 370.7 541.2 C372.0 541.2 373.4 541.2 374.7 541.2 C376.0 541.2 377.4 541.2 378.7 541.2 C380.0 541.1 381.4 541.1 382.7 541.1 C384.0 541.1 385.4 541.1 386.7 541.1 C388.0 541.1 389.4 541.0 390.7 541.0 C392.0 541.0 393.4 541.0 394.7 541.0 C396.0 541.0 397.4 541.0 398.7 541.0 C400.0 540.9 401.8 540.9 402.7 540.9 C403.6 540.9 403.9 540.9 404.1 540.9" fill="none" stroke="#dc3844" stroke-width="2.1" stroke-linejoin="round"/><path d="M102.4 718.6 C103.1 718.4 105.0 718.0 106.3 717.7 C107.6 717.4 108.9 717.1 110.2 716.8 C111.5 716.5 112.8 716.2 114.1 716.0 C115.4 715.7 116.7 715.5 118.1 715.2 C119.4 715.0 120.7 714.8 122.0 714.7 C123.3 714.5 124.7 714.4 126.0 714.2 C127.3 714.1 128.6 714.0 130.0 713.9 C131.3 713.8 132.6 713.7 134.0 713.6 C135.3 713.5 136.6 713.4 138.0 713.3 C139.3 713.3 140.6 713.2 141.9 713.1 C143.3 713.0 144.6 713.0 145.9 712.9 C147.3 712.8 148.6 712.7 149.9 712.7 C151.3 712.6 152.6 712.5 153.9 712.4 C155.3 712.4 156.6 712.3 157.9 712.2 C159.2 712.1 160.6 712.0 161.9 712.0 C163.2 711.9 164.6 711.8 165.9 711.7 C167.2 711.7 168.6 711.6 169.9 711.5 C171.2 711.5 172.6 711.4 173.9 711.3 C175.2 711.2 176.6 711.2 177.9 711.1 C179.2 711.0 180.6 711.0 181.9 710.9 C183.2 710.8 184.5 710.7 185.9 710.7 C187.2 710.6 188.5 710.5 189.9 710.4 C191.2 710.3 192.5 710.2 193.9 710.1 C195.2 710.0 196.5 709.9 197.8 709.7 C199.2 709.6 200.5 709.5 201.8 709.3 C203.1 709.2 204.5 709.0 205.8 708.9 C207.1 708.7 208.4 708.5 209.8 708.4 C211.1 708.2 212.4 708.0 213.7 707.8 C215.0 707.6 216.4 707.4 217.7 707.2 C219.0 707.0 220.3 706.8 221.6 706.6 C222.9 706.3 224.3 706.1 225.6 705.9 C226.9 705.6 228.2 705.4 229.5 705.1 C230.8 704.9 232.1 704.6 233.4 704.3 C234.7 704.0 236.0 703.7 237.3 703.3 C238.5 702.9 239.8 702.4 241.0 701.9 C242.2 701.4 243.4 700.8 244.6 700.1 C245.7 699.4 246.8 698.6 247.8 697.8 C248.9 697.0 249.9 696.0 250.8 695.1 C251.7 694.2 252.7 693.2 253.5 692.2 C254.4 691.2 255.2 690.1 255.9 689.0 C256.7 687.9 257.3 686.7 258.0 685.6 C258.7 684.4 259.3 683.3 259.9 682.1 C260.5 680.9 261.1 679.7 261.7 678.5 C262.2 677.3 262.8 676.0 263.3 674.8 C263.8 673.6 264.3 672.4 264.8 671.1 C265.4 669.9 265.9 668.7 266.4 667.4 C266.8 666.2 267.3 664.9 267.7 663.7 C268.0 662.4 268.3 661.1 268.7 659.8 C269.0 658.5 269.5 657.2 269.9 656.0 C270.3 654.7 270.7 653.4 271.1 652.2 C271.5 650.9 271.9 649.6 272.3 648.4 C272.7 647.1 273.1 645.8 273.5 644.5 C273.9 643.3 274.3 642.0 274.6 640.7 C275.0 639.4 275.3 638.1 275.7 636.8 C276.0 635.6 276.4 634.3 276.8 633.0 C277.1 631.7 277.5 630.4 277.8 629.1 C278.2 627.9 278.6 626.6 278.9 625.3 C279.3 624.0 279.7 622.7 280.1 621.5 C280.5 620.2 280.9 618.9 281.2 617.6 C281.6 616.3 282.0 615.1 282.3 613.8 C282.7 612.5 283.0 611.2 283.3 609.9 C283.6 608.6 283.9 607.3 284.3 606.0 C284.7 604.8 285.1 603.5 285.5 602.2 C285.9 600.9 286.3 599.7 286.8 598.4 C287.2 597.2 287.7 595.9 288.2 594.7 C288.6 593.4 289.1 592.2 289.6 590.9 C290.1 589.7 290.6 588.5 291.1 587.2 C291.6 586.0 292.1 584.8 292.7 583.6 C293.2 582.3 293.8 581.1 294.4 579.9 C295.0 578.7 295.5 577.5 296.1 576.3 C296.7 575.1 297.2 573.9 297.8 572.7 C298.4 571.5 298.9 570.3 299.5 569.1 C300.1 567.9 300.8 566.8 301.5 565.6 C302.2 564.5 303.0 563.4 303.8 562.4 C304.6 561.3 305.4 560.2 306.3 559.2 C307.2 558.2 308.1 557.3 309.1 556.4 C310.1 555.5 311.1 554.7 312.2 553.9 C313.3 553.1 314.4 552.4 315.5 551.7 C316.7 550.9 317.8 550.2 318.9 549.6 C320.1 548.9 321.3 548.3 322.4 547.6 C323.6 547.0 324.8 546.5 326.0 545.9 C327.3 545.4 328.5 544.8 329.7 544.3 C331.0 543.8 332.2 543.4 333.5 543.0 C334.8 542.7 336.1 542.4 337.4 542.1 C338.7 541.8 340.0 541.6 341.3 541.4 C342.6 541.3 344.0 541.2 345.3 541.1 C346.6 541.1 348.0 541.1 349.3 541.0 C350.6 541.0 352.0 541.0 353.3 540.9 C354.6 540.9 356.0 540.9 357.3 540.9 C358.6 540.9 360.0 540.8 361.3 540.8 C362.6 540.8 364.0 540.8 365.3 540.8 C366.6 540.8 368.0 540.8 369.3 540.8 C370.6 540.7 372.0 540.7 373.3 540.7 C374.6 540.7 376.0 540.7 377.3 540.7 C378.6 540.7 380.0 540.7 381.3 540.7 C382.6 540.7 384.0 540.6 385.3 540.6 C386.6 540.6 388.0 540.6 389.3 540.6 C390.6 540.6 392.0 540.6 393.3 540.6 C394.6 540.6 396.0 540.6 397.3 540.6 C398.6 540.5 400.2 540.5 401.3 540.5 C402.4 540.5 403.6 540.5 404.1 540.5" fill="none" stroke="#2424c8" stroke-width="2.1" stroke-linejoin="round"/><path d="M102.4 718.6 C103.1 718.5 105.1 718.2 106.4 718.0 C107.7 717.8 109.0 717.6 110.3 717.5 C111.7 717.3 113.0 717.1 114.3 717.0 C115.6 716.8 117.0 716.7 118.3 716.6 C119.6 716.5 120.9 716.4 122.3 716.3 C123.6 716.3 124.9 716.3 126.3 716.2 C127.6 716.2 128.9 716.2 130.3 716.2 C131.6 716.2 132.9 716.2 134.3 716.2 C135.6 716.2 136.9 716.2 138.3 716.2 C139.6 716.3 140.9 716.3 142.3 716.3 C143.6 716.3 144.9 716.4 146.3 716.4 C147.6 716.4 148.9 716.5 150.3 716.5 C151.6 716.5 152.9 716.6 154.3 716.6 C155.6 716.7 156.9 716.7 158.3 716.7 C159.6 716.8 160.9 716.8 162.3 716.9 C163.6 716.9 164.9 717.0 166.3 717.0 C167.6 717.1 168.9 717.2 170.3 717.2 C171.6 717.3 172.9 717.3 174.3 717.4 C175.6 717.4 176.9 717.5 178.2 717.6 C179.6 717.7 180.9 717.7 182.2 717.8 C183.6 717.9 184.9 718.0 186.2 718.1 C187.6 718.2 188.9 718.3 190.2 718.4 C191.5 718.5 192.9 718.7 194.2 718.8 C195.5 718.9 196.8 719.1 198.2 719.3 C199.5 719.4 200.8 719.6 202.1 719.8 C203.5 720.0 204.8 720.2 206.1 720.4 C207.4 720.6 208.7 720.8 210.0 721.1 C211.3 721.3 212.6 721.6 213.9 721.9 C215.2 722.2 216.5 722.5 217.8 722.8 C219.1 723.2 220.4 723.6 221.7 724.0 C222.9 724.4 224.2 724.9 225.4 725.4 C226.6 725.9 227.8 726.5 229.0 727.1 C230.2 727.7 231.3 728.4 232.5 729.1 C233.6 729.8 234.7 730.5 235.8 731.3 C236.9 732.1 238.0 732.9 239.1 733.6 C240.1 734.4 241.2 735.2 242.2 736.1 C243.3 736.9 244.3 737.8 245.3 738.7 C246.2 739.6 247.1 740.6 248.1 741.6 C249.0 742.5 249.8 743.5 250.7 744.5 C251.6 745.5 252.5 746.5 253.4 747.5 C254.2 748.6 255.1 749.6 255.9 750.6 C256.7 751.7 257.5 752.8 258.4 753.8 C259.2 754.8 260.1 755.8 261.0 756.7 C262.0 757.6 263.0 758.6 264.2 759.2 C265.3 759.8 266.7 760.3 267.9 760.3 C269.1 760.3 270.4 759.9 271.4 759.1 C272.3 758.4 272.7 757.0 273.3 755.8 C273.8 754.6 274.3 753.3 274.7 752.1 C275.2 750.8 275.6 749.6 276.0 748.3 C276.4 747.0 276.8 745.8 277.2 744.5 C277.5 743.2 277.9 741.9 278.2 740.6 C278.5 739.3 278.8 738.0 279.1 736.7 C279.4 735.4 279.7 734.1 280.0 732.8 C280.2 731.5 280.5 730.2 280.8 728.9 C281.1 727.6 281.3 726.3 281.6 725.0 C281.9 723.7 282.1 722.4 282.4 721.1 C282.7 719.8 282.9 718.5 283.2 717.1 C283.5 715.8 283.8 714.5 284.1 713.2 C284.3 711.9 284.6 710.6 284.9 709.3 C285.2 708.0 285.5 706.7 285.7 705.4 C286.0 704.1 286.3 702.8 286.6 701.5 C286.8 700.2 287.1 698.9 287.4 697.6 C287.7 696.3 287.9 695.0 288.2 693.7 C288.5 692.4 288.8 691.1 289.0 689.8 C289.3 688.4 289.5 687.1 289.8 685.8 C290.0 684.5 290.3 683.2 290.5 681.9 C290.8 680.6 291.0 679.3 291.3 678.0 C291.5 676.7 291.8 675.3 292.0 674.0 C292.3 672.7 292.5 671.4 292.8 670.1 C293.0 668.8 293.3 667.5 293.6 666.2 C293.8 664.9 294.1 663.6 294.3 662.3 C294.6 661.0 294.9 659.7 295.1 658.3 C295.4 657.0 295.6 655.7 295.8 654.4 C296.1 653.1 296.3 651.8 296.6 650.5 C296.8 649.2 297.0 647.9 297.3 646.5 C297.6 645.2 297.8 643.9 298.1 642.6 C298.3 641.3 298.6 640.0 298.9 638.7 C299.2 637.4 299.5 636.1 299.8 634.8 C300.0 633.5 300.3 632.2 300.6 630.9 C300.8 629.6 301.1 628.3 301.4 627.0 C301.7 625.7 301.9 624.4 302.2 623.0 C302.4 621.7 302.6 620.4 302.9 619.1 C303.2 617.8 303.4 616.5 303.7 615.2 C304.0 613.9 304.3 612.6 304.6 611.3 C304.9 610.0 305.2 608.7 305.5 607.4 C305.8 606.1 306.1 604.8 306.4 603.5 C306.8 602.2 307.1 600.9 307.4 599.6 C307.8 598.4 308.2 597.1 308.6 595.8 C309.0 594.5 309.4 593.3 309.8 592.0 C310.2 590.7 310.7 589.5 311.2 588.2 C311.7 587.0 312.2 585.8 312.6 584.5 C313.1 583.3 313.4 582.0 313.8 580.7 C314.2 579.4 314.6 578.2 315.0 576.9 C315.5 575.6 315.9 574.4 316.3 573.1 C316.8 571.9 317.3 570.6 317.8 569.4 C318.4 568.2 318.9 567.0 319.5 565.8 C320.1 564.6 320.8 563.4 321.5 562.3 C322.2 561.2 322.9 560.0 323.7 559.0 C324.4 557.9 325.3 556.8 326.1 555.8 C326.9 554.7 327.8 553.7 328.7 552.8 C329.7 551.8 330.6 550.8 331.6 550.0 C332.6 549.1 333.6 548.3 334.8 547.6 C335.9 546.8 337.1 546.2 338.3 545.7 C339.5 545.2 340.8 544.7 342.0 544.3 C343.3 543.9 344.6 543.6 345.9 543.3 C347.2 543.1 348.6 542.9 349.9 542.8 C351.2 542.6 352.5 542.5 353.9 542.4 C355.2 542.3 356.5 542.3 357.9 542.2 C359.2 542.2 360.5 542.1 361.9 542.1 C363.2 542.0 364.5 542.0 365.8 542.0 C367.2 542.0 368.5 541.9 369.8 541.9 C371.2 541.9 372.5 541.9 373.8 541.9 C375.2 541.9 376.5 541.9 377.8 541.9 C379.2 541.9 380.5 541.9 381.8 541.9 C383.2 541.8 384.5 541.8 385.8 541.8 C387.2 541.8 388.5 541.8 389.8 541.8 C391.2 541.8 392.5 541.8 393.8 541.8 C395.2 541.8 396.5 541.8 397.8 541.8 C399.2 541.8 400.8 541.8 401.8 541.8 C402.9 541.8 403.7 541.8 404.1 541.8" fill="none" stroke="#2424c8" stroke-width="2.1" stroke-linejoin="round"/></g><path d="M102.29 800.60v-4.50M102.29 449.60v4.50M117.38 800.60v-4.50M117.38 449.60v4.50M132.47 800.60v-4.50M132.47 449.60v4.50M147.56 800.60v-9.00M147.56 449.60v9.00M162.65 800.60v-4.50M162.65 449.60v4.50M177.75 800.60v-4.50M177.75 449.60v4.50M192.84 800.60v-4.50M192.84 449.60v4.50M207.93 800.60v-9.00M207.93 449.60v9.00M223.02 800.60v-4.50M223.02 449.60v4.50M238.11 800.60v-4.50M238.11 449.60v4.50M253.20 800.60v-4.50M253.20 449.60v4.50M268.29 800.60v-9.00M268.29 449.60v9.00M283.38 800.60v-4.50M283.38 449.60v4.50M298.47 800.60v-4.50M298.47 449.60v4.50M313.56 800.60v-4.50M313.56 449.60v4.50M328.65 800.60v-9.00M328.65 449.60v9.00M343.75 800.60v-4.50M343.75 449.60v4.50M358.84 800.60v-4.50M358.84 449.60v4.50M373.93 800.60v-4.50M373.93 449.60v4.50M389.02 800.60v-9.00M389.02 449.60v9.00M404.11 800.60v-4.50M404.11 449.60v4.50M87.20 782.13h4.50M419.20 782.13h-4.50M87.20 763.65h9.00M419.20 763.65h-9.00M87.20 745.18h4.50M419.20 745.18h-4.50M87.20 726.71h9.00M419.20 726.71h-9.00M87.20 708.23h4.50M419.20 708.23h-4.50M87.20 689.76h9.00M419.20 689.76h-9.00M87.20 671.28h4.50M419.20 671.28h-4.50M87.20 652.81h9.00M419.20 652.81h-9.00M87.20 634.34h4.50M419.20 634.34h-4.50M87.20 615.86h9.00M419.20 615.86h-9.00M87.20 597.39h4.50M419.20 597.39h-4.50M87.20 578.92h9.00M419.20 578.92h-9.00M87.20 560.44h4.50M419.20 560.44h-4.50M87.20 541.97h9.00M419.20 541.97h-9.00M87.20 523.49h4.50M419.20 523.49h-4.50M87.20 505.02h9.00M419.20 505.02h-9.00M87.20 486.55h4.50M419.20 486.55h-4.50M87.20 468.07h9.00M419.20 468.07h-9.00" stroke="#333333" stroke-width="2" fill="none"/><rect x="87.20" y="449.60" width="332.00" height="351.00" fill="none" stroke="#333333" stroke-width="2.2"/><g font-family='"Liberation Sans", sans-serif' font-weight="bold" font-size="19.2" fill="#0c0c0c" stroke="#0c0c0c" stroke-width="0.3"><text transform="translate(76.90 806.40) scale(1.0 1)" text-anchor="end">-700</text><text transform="translate(76.90 769.45) scale(1.0 1)" text-anchor="end">-600</text><text transform="translate(76.90 732.51) scale(1.0 1)" text-anchor="end">-500</text><text transform="translate(76.90 695.56) scale(1.0 1)" text-anchor="end">-400</text><text transform="translate(76.90 658.61) scale(1.0 1)" text-anchor="end">-300</text><text transform="translate(76.90 621.66) scale(1.0 1)" text-anchor="end">-200</text><text transform="translate(76.90 584.72) scale(1.0 1)" text-anchor="end">-100</text><text transform="translate(76.90 547.77) scale(1.0 1)" text-anchor="end">0</text><text transform="translate(76.90 510.82) scale(1.0 1)" text-anchor="end">100</text><text transform="translate(76.90 473.87) scale(1.0 1)" text-anchor="end">200</text><text transform="translate(87.20 826.00) scale(1.01 1)" text-anchor="middle">0.8</text><text transform="translate(147.56 826.00) scale(1.01 1)" text-anchor="middle">0.6</text><text transform="translate(207.93 826.00) scale(1.01 1)" text-anchor="middle">0.4</text><text transform="translate(268.29 826.00) scale(1.01 1)" text-anchor="middle">0.2</text><text transform="translate(328.65 826.00) scale(1.01 1)" text-anchor="middle">0.0</text><text transform="translate(389.02 826.00) scale(1.01 1)" text-anchor="middle">-0.2</text></g><text transform="translate(253.20 854.60) scale(1.04 1)" text-anchor="middle" font-family='"Liberation Sans", sans-serif' font-weight="bold" font-size="23.5" fill="#0c0c0c" stroke="#0c0c0c" stroke-width="0.4">E / V vs. SCE</text><text transform="translate(27.70 625.10) rotate(-90)" text-anchor="middle" font-family='"Liberation Sans", sans-serif' font-weight="bold" font-size="24" fill="#0c0c0c">j / μA cm<tspan font-size="18" dy="-13">-2</tspan></text><text x="109.00" y="486.60" font-family='"Liberation Sans", sans-serif' font-weight="bold" font-size="35" fill="#000">d</text><text transform="translate(111.80 781.10) scale(1.05 1)" font-family='"Liberation Sans", sans-serif' font-weight="bold" font-size="16" fill="#151515">50 mM maltose</text></g>
<g><clipPath id="ce"><rect x="516.00" y="449.60" width="332.00" height="351.00"/></clipPath><g clip-path="url(#ce)"><line x1="516.00" y1="566.60" x2="848.00" y2="566.60" stroke="#222" stroke-width="2"/><path d="M531.8 582.7 C532.2 582.2 533.5 580.7 534.5 579.8 C535.5 579.0 536.6 578.2 537.8 577.5 C538.9 576.9 540.2 576.4 541.5 576.0 C542.7 575.6 544.0 575.4 545.4 575.1 C546.7 574.9 548.0 574.7 549.3 574.5 C550.6 574.3 551.9 574.1 553.3 573.9 C554.6 573.8 555.9 573.6 557.2 573.4 C558.6 573.3 559.9 573.1 561.2 573.0 C562.5 572.9 563.9 572.8 565.2 572.7 C566.5 572.6 567.9 572.6 569.2 572.5 C570.5 572.4 571.9 572.4 573.2 572.3 C574.5 572.2 575.8 572.2 577.2 572.1 C578.5 572.0 579.8 572.0 581.2 572.0 C582.5 571.9 583.8 571.9 585.2 571.8 C586.5 571.8 587.8 571.7 589.2 571.7 C590.5 571.7 591.8 571.6 593.2 571.6 C594.5 571.5 595.8 571.5 597.2 571.4 C598.5 571.4 599.8 571.3 601.2 571.3 C602.5 571.2 603.8 571.2 605.2 571.1 C606.5 571.1 607.8 571.0 609.2 570.9 C610.5 570.9 611.8 570.8 613.2 570.7 C614.5 570.7 615.8 570.6 617.1 570.5 C618.5 570.5 619.8 570.4 621.1 570.3 C622.5 570.2 623.8 570.1 625.1 570.0 C626.5 570.0 627.8 569.9 629.1 569.8 C630.5 569.7 631.8 569.6 633.1 569.5 C634.4 569.4 635.8 569.3 637.1 569.2 C638.4 569.1 639.8 569.0 641.1 568.9 C642.4 568.7 643.7 568.6 645.1 568.5 C646.4 568.4 647.7 568.3 649.1 568.1 C650.4 568.0 651.7 567.8 653.0 567.7 C654.4 567.5 655.7 567.3 657.0 567.1 C658.3 567.0 659.6 566.8 661.0 566.6 C662.3 566.4 663.6 566.3 664.9 566.1 C666.2 565.9 667.6 565.7 668.9 565.4 C670.1 565.0 671.4 564.6 672.6 564.1 C673.8 563.6 675.0 562.9 676.2 562.2 C677.3 561.5 678.4 560.7 679.4 559.9 C680.4 559.0 681.3 558.0 682.2 557.1 C683.1 556.1 684.0 555.1 684.9 554.1 C685.8 553.1 686.7 552.2 687.6 551.2 C688.5 550.1 689.3 549.1 690.1 548.0 C690.8 546.9 691.6 545.8 692.4 544.7 C693.1 543.7 693.9 542.6 694.6 541.4 C695.4 540.3 696.0 539.2 696.7 538.0 C697.4 536.9 698.1 535.7 698.7 534.6 C699.4 533.4 700.0 532.2 700.7 531.1 C701.3 529.9 701.9 528.7 702.5 527.5 C703.1 526.4 703.8 525.2 704.3 524.0 C704.9 522.7 705.4 521.5 705.8 520.3 C706.3 519.0 706.7 517.7 707.2 516.5 C707.6 515.2 708.0 514.0 708.4 512.7 C708.8 511.4 709.2 510.2 709.7 508.9 C710.1 507.6 710.6 506.4 711.0 505.1 C711.4 503.9 711.9 502.6 712.3 501.3 C712.8 500.1 713.2 498.8 713.7 497.6 C714.1 496.3 714.5 495.1 715.0 493.8 C715.4 492.5 715.9 491.3 716.4 490.0 C716.9 488.8 717.4 487.6 717.9 486.3 C718.4 485.1 718.9 483.9 719.4 482.6 C719.9 481.4 720.3 480.1 720.9 478.9 C721.4 477.7 721.9 476.5 722.5 475.3 C723.1 474.1 723.7 472.9 724.5 471.8 C725.3 470.8 726.2 469.8 727.2 468.9 C728.2 468.1 729.4 467.1 730.5 466.8 C731.7 466.5 733.0 466.7 734.1 467.2 C735.2 467.7 736.1 468.8 737.0 469.8 C737.9 470.8 738.7 471.9 739.5 473.0 C740.3 474.0 741.0 475.1 741.8 476.2 C742.5 477.3 743.2 478.5 743.9 479.6 C744.6 480.7 745.3 481.9 746.0 483.0 C746.7 484.2 747.3 485.3 748.0 486.5 C748.6 487.7 749.3 488.8 750.0 490.0 C750.6 491.1 751.3 492.3 751.9 493.4 C752.6 494.6 753.2 495.8 753.9 496.9 C754.6 498.1 755.2 499.2 756.0 500.4 C756.7 501.5 757.4 502.6 758.2 503.7 C759.0 504.8 759.8 505.8 760.6 506.9 C761.4 508.0 762.1 509.1 762.9 510.2 C763.6 511.3 764.4 512.4 765.2 513.4 C766.0 514.5 766.8 515.5 767.7 516.5 C768.6 517.5 769.6 518.4 770.5 519.3 C771.5 520.3 772.5 521.2 773.5 522.1 C774.4 523.0 775.4 523.9 776.5 524.7 C777.5 525.6 778.5 526.5 779.6 527.3 C780.6 528.0 781.7 528.8 782.9 529.5 C784.0 530.1 785.3 530.7 786.5 531.2 C787.7 531.8 788.9 532.3 790.1 532.8 C791.4 533.4 792.5 534.0 793.7 534.6 C794.9 535.1 796.1 535.7 797.4 536.2 C798.6 536.8 799.8 537.3 801.1 537.7 C802.3 538.2 803.6 538.6 804.8 539.1 C806.1 539.5 807.4 539.8 808.7 540.2 C810.0 540.5 811.3 540.8 812.6 541.2 C813.8 541.5 815.1 541.9 816.4 542.2 C817.7 542.6 819.0 542.9 820.3 543.2 C821.6 543.5 822.9 543.8 824.2 544.1 C825.5 544.3 826.8 544.6 828.1 544.9 C829.4 545.2 831.1 545.7 832.0 546.0 C832.8 546.2 832.9 546.3 833.1 546.3" fill="none" stroke="#303030" stroke-width="2.5" stroke-dasharray="4.5 4" stroke-linejoin="round"/><path d="M531.8 582.7 C532.4 582.5 534.3 581.8 535.6 581.4 C536.8 581.0 538.1 580.5 539.4 580.2 C540.7 579.9 542.0 579.6 543.3 579.4 C544.6 579.2 545.9 579.0 547.3 578.9 C548.6 578.7 549.9 578.6 551.2 578.6 C552.6 578.5 553.9 578.4 555.2 578.4 C556.6 578.3 557.9 578.3 559.2 578.3 C560.6 578.2 561.9 578.2 563.2 578.2 C564.6 578.2 565.9 578.2 567.2 578.1 C568.6 578.1 569.9 578.2 571.2 578.2 C572.6 578.2 573.9 578.2 575.2 578.3 C576.6 578.3 577.9 578.3 579.2 578.4 C580.6 578.4 581.9 578.5 583.2 578.6 C584.6 578.6 585.9 578.7 587.2 578.8 C588.5 578.9 589.9 579.0 591.2 579.1 C592.5 579.2 593.9 579.3 595.2 579.4 C596.5 579.5 597.9 579.6 599.2 579.7 C600.5 579.9 601.8 580.0 603.2 580.1 C604.5 580.3 605.8 580.4 607.1 580.6 C608.5 580.8 609.8 580.9 611.1 581.1 C612.4 581.3 613.7 581.5 615.1 581.7 C616.4 581.8 617.7 582.0 619.0 582.3 C620.3 582.5 621.6 582.7 623.0 582.9 C624.3 583.2 625.6 583.4 626.9 583.7 C628.2 584.0 629.5 584.3 630.8 584.6 C632.1 584.9 633.4 585.2 634.7 585.6 C635.9 585.9 637.2 586.3 638.5 586.7 C639.8 587.1 641.0 587.6 642.3 588.0 C643.5 588.5 644.8 589.0 646.0 589.5 C647.2 590.0 648.5 590.5 649.7 591.1 C650.9 591.7 652.0 592.3 653.2 593.0 C654.3 593.6 655.4 594.4 656.6 595.1 C657.7 595.8 658.8 596.5 659.9 597.3 C661.0 598.1 662.1 598.9 663.1 599.7 C664.1 600.6 665.0 601.6 665.8 602.6 C666.7 603.6 667.6 604.6 668.4 605.7 C669.2 606.7 670.0 607.8 670.8 608.9 C671.6 609.9 672.4 611.0 673.2 612.1 C673.9 613.2 674.7 614.3 675.3 615.5 C676.0 616.6 676.6 617.8 677.2 619.0 C677.8 620.2 678.3 621.4 678.9 622.6 C679.4 623.9 679.9 625.1 680.4 626.4 C680.8 627.6 681.3 628.9 681.7 630.1 C682.2 631.4 682.7 632.6 683.2 633.8 C683.7 635.1 684.2 636.3 684.7 637.5 C685.2 638.8 685.6 640.0 686.0 641.3 C686.4 642.6 686.8 643.9 687.1 645.2 C687.4 646.5 687.7 647.8 688.0 649.1 C688.3 650.4 688.6 651.7 688.9 653.0 C689.2 654.3 689.5 655.6 689.8 656.8 C690.2 658.1 690.6 659.4 691.0 660.7 C691.4 661.9 691.8 663.2 692.3 664.5 C692.7 665.7 693.1 667.0 693.6 668.2 C694.0 669.5 694.5 670.8 694.9 672.0 C695.3 673.3 695.8 674.5 696.2 675.8 C696.6 677.1 696.9 678.4 697.2 679.7 C697.6 680.9 697.9 682.3 698.3 683.5 C698.7 684.8 699.1 686.1 699.6 687.3 C700.2 688.5 700.7 689.7 701.4 690.8 C702.2 691.9 703.0 693.2 704.0 693.8 C705.0 694.4 706.5 694.6 707.5 694.3 C708.6 694.0 709.6 692.7 710.5 691.8 C711.3 690.8 712.0 689.6 712.7 688.5 C713.3 687.3 713.9 686.1 714.4 684.9 C714.9 683.6 715.2 682.3 715.6 681.1 C716.0 679.8 716.4 678.5 716.8 677.2 C717.1 676.0 717.5 674.7 717.9 673.4 C718.2 672.1 718.6 670.8 718.9 669.5 C719.3 668.2 719.6 667.0 720.0 665.7 C720.3 664.4 720.7 663.1 721.0 661.8 C721.4 660.5 721.7 659.2 722.0 657.9 C722.4 656.6 722.7 655.4 723.0 654.1 C723.3 652.8 723.6 651.5 723.9 650.2 C724.2 648.9 724.5 647.6 724.8 646.3 C725.0 644.9 725.3 643.6 725.6 642.3 C725.8 641.0 726.1 639.7 726.4 638.4 C726.6 637.1 726.9 635.8 727.2 634.5 C727.4 633.2 727.7 631.9 728.0 630.6 C728.3 629.3 728.6 628.0 728.9 626.7 C729.2 625.4 729.5 624.1 729.8 622.8 C730.1 621.5 730.4 620.2 730.7 618.9 C731.0 617.6 731.3 616.3 731.6 615.0 C732.0 613.7 732.3 612.4 732.6 611.1 C733.0 609.8 733.3 608.5 733.6 607.3 C734.0 606.0 734.3 604.7 734.7 603.4 C735.1 602.1 735.4 600.8 735.8 599.6 C736.2 598.3 736.6 597.0 737.0 595.7 C737.4 594.5 737.8 593.2 738.2 591.9 C738.6 590.7 739.1 589.4 739.6 588.2 C740.1 586.9 740.6 585.7 741.2 584.5 C741.8 583.3 742.4 582.1 743.0 581.0 C743.7 579.8 744.4 578.7 745.4 577.8 C746.3 576.8 747.5 576.3 748.5 575.4 C749.5 574.5 750.3 573.5 751.2 572.5 C752.1 571.5 753.0 570.5 753.9 569.5 C754.8 568.6 755.7 567.6 756.8 566.7 C757.8 565.9 758.8 565.0 759.9 564.3 C761.0 563.6 762.3 563.2 763.5 562.7 C764.8 562.3 766.1 562.1 767.4 561.7 C768.7 561.4 770.0 561.0 771.3 560.6 C772.5 560.3 773.8 559.9 775.1 559.6 C776.4 559.3 777.7 559.0 779.0 558.8 C780.3 558.6 781.7 558.4 783.0 558.2 C784.3 558.0 785.6 557.8 786.9 557.6 C788.2 557.3 789.5 557.0 790.9 556.8 C792.2 556.5 793.5 556.3 794.8 556.0 C796.1 555.8 797.4 555.6 798.7 555.4 C800.1 555.2 801.4 555.0 802.7 554.7 C804.0 554.5 805.3 554.3 806.6 554.1 C807.9 553.8 809.2 553.5 810.5 553.2 C811.8 552.8 813.1 552.4 814.4 552.1 C815.7 551.8 817.0 551.5 818.3 551.2 C819.6 550.9 820.9 550.8 822.2 550.4 C823.5 550.1 824.7 549.7 826.0 549.2 C827.3 548.8 828.5 548.2 829.7 547.7 C830.9 547.2 832.5 546.6 833.1 546.3" fill="none" stroke="#303030" stroke-width="2.5" stroke-dasharray="4.5 4" stroke-linejoin="round"/><path d="M531.4 689.9 C532.0 689.7 533.9 688.9 535.1 688.4 C536.4 687.9 537.6 687.4 538.8 686.9 C540.1 686.5 541.3 686.0 542.6 685.5 C543.8 685.1 545.1 684.7 546.4 684.3 C547.6 683.9 548.9 683.5 550.2 683.2 C551.5 682.9 552.8 682.6 554.1 682.3 C555.4 682.0 556.7 681.8 558.0 681.6 C559.4 681.3 560.7 681.1 562.0 680.9 C563.3 680.6 564.6 680.4 565.9 680.2 C567.2 680.0 568.6 679.8 569.9 679.6 C571.2 679.4 572.5 679.2 573.8 679.0 C575.2 678.9 576.5 678.7 577.8 678.5 C579.1 678.3 580.5 678.2 581.8 678.0 C583.1 677.8 584.4 677.7 585.7 677.5 C587.1 677.4 588.4 677.2 589.7 677.1 C591.1 677.0 592.4 676.8 593.7 676.7 C595.0 676.6 596.4 676.5 597.7 676.4 C599.0 676.3 600.4 676.2 601.7 676.1 C603.0 676.0 604.3 675.9 605.7 675.8 C607.0 675.7 608.3 675.7 609.7 675.6 C611.0 675.5 612.3 675.4 613.7 675.4 C615.0 675.3 616.3 675.2 617.7 675.1 C619.0 675.1 620.3 675.0 621.6 674.9 C623.0 674.8 624.3 674.7 625.6 674.6 C627.0 674.5 628.3 674.4 629.6 674.3 C631.0 674.2 632.3 674.1 633.6 674.0 C634.9 673.9 636.3 673.8 637.6 673.7 C638.9 673.6 640.3 673.5 641.6 673.3 C642.9 673.2 644.2 673.0 645.6 672.8 C646.9 672.7 648.2 672.5 649.5 672.3 C650.8 672.2 652.2 672.0 653.5 671.8 C654.8 671.6 656.1 671.4 657.4 671.1 C658.7 670.9 660.0 670.6 661.3 670.2 C662.6 669.8 663.8 669.3 665.1 668.8 C666.3 668.3 667.5 667.7 668.6 667.0 C669.8 666.4 670.9 665.7 672.0 664.9 C673.1 664.1 674.2 663.3 675.2 662.4 C676.2 661.6 677.1 660.6 678.0 659.6 C678.9 658.7 679.8 657.6 680.6 656.6 C681.4 655.5 682.2 654.4 683.0 653.4 C683.7 652.3 684.5 651.2 685.2 650.0 C685.9 648.9 686.6 647.8 687.3 646.6 C688.0 645.5 688.6 644.3 689.2 643.1 C689.9 642.0 690.5 640.8 691.1 639.6 C691.7 638.4 692.2 637.2 692.7 635.9 C693.2 634.7 693.7 633.5 694.1 632.2 C694.6 631.0 695.1 629.7 695.6 628.5 C696.1 627.2 696.6 626.0 697.1 624.8 C697.6 623.5 698.1 622.3 698.7 621.1 C699.2 619.9 699.7 618.7 700.3 617.4 C700.8 616.2 701.4 615.0 702.0 613.8 C702.5 612.6 703.1 611.4 703.7 610.2 C704.3 609.0 704.8 607.8 705.4 606.6 C706.0 605.4 706.6 604.2 707.2 603.0 C707.8 601.8 708.4 600.6 709.0 599.4 C709.6 598.3 710.2 597.1 710.9 595.9 C711.5 594.7 712.1 593.5 712.7 592.4 C713.4 591.2 714.0 590.0 714.6 588.9 C715.3 587.7 716.0 586.5 716.6 585.4 C717.3 584.2 718.0 583.1 718.7 582.0 C719.4 580.8 720.2 579.7 720.9 578.6 C721.7 577.5 722.5 576.4 723.3 575.4 C724.2 574.4 725.1 573.5 726.0 572.5 C727.0 571.6 728.0 570.8 729.0 569.9 C730.0 568.9 730.9 567.9 731.9 567.0 C732.8 566.1 733.8 565.2 734.9 564.4 C735.9 563.6 737.0 562.7 738.1 562.1 C739.2 561.4 740.5 560.9 741.7 560.5 C743.0 560.0 744.3 559.8 745.6 559.5 C746.9 559.3 748.2 559.1 749.6 558.9 C750.9 558.8 752.2 558.7 753.6 558.7 C754.9 558.6 756.2 558.7 757.5 558.7 C758.9 558.8 760.2 558.9 761.5 559.0 C762.9 559.2 764.2 559.3 765.5 559.4 C766.8 559.6 768.2 559.8 769.5 559.9 C770.8 560.1 772.1 560.3 773.4 560.5 C774.8 560.7 776.1 560.9 777.4 561.0 C778.7 561.2 780.1 561.4 781.4 561.5 C782.7 561.7 784.0 561.8 785.4 561.9 C786.7 562.0 788.0 562.1 789.3 562.2 C790.7 562.3 792.0 562.4 793.3 562.5 C794.7 562.6 796.0 562.7 797.3 562.8 C798.7 562.9 800.0 562.9 801.3 563.0 C802.7 563.1 804.0 563.2 805.3 563.2 C806.6 563.3 808.0 563.4 809.3 563.5 C810.6 563.5 812.0 563.6 813.3 563.7 C814.6 563.7 816.0 563.8 817.3 563.8 C818.6 563.9 820.0 563.9 821.3 564.0 C822.6 564.0 824.0 564.1 825.3 564.1 C826.6 564.2 828.0 564.2 829.3 564.2 C830.6 564.3 832.0 564.3 833.3 564.4 C834.6 564.4 836.5 564.5 837.3 564.5 C838.1 564.5 837.8 564.5 837.9 564.5" fill="none" stroke="#303030" stroke-width="2.1" stroke-linejoin="round"/><path d="M531.4 689.9 C532.1 689.9 534.1 689.8 535.4 689.7 C536.7 689.6 538.1 689.6 539.4 689.5 C540.7 689.5 542.0 689.4 543.4 689.4 C544.7 689.4 546.0 689.5 547.4 689.5 C548.7 689.6 550.0 689.7 551.4 689.8 C552.7 689.9 554.0 690.1 555.3 690.3 C556.7 690.5 558.0 690.7 559.3 690.9 C560.6 691.1 561.9 691.3 563.2 691.5 C564.6 691.8 565.9 692.0 567.2 692.2 C568.5 692.5 569.8 692.7 571.1 693.0 C572.4 693.2 573.7 693.4 575.0 693.7 C576.4 693.9 577.7 694.2 579.0 694.4 C580.3 694.7 581.6 694.9 582.9 695.2 C584.2 695.5 585.5 695.7 586.8 695.9 C588.1 696.2 589.5 696.4 590.8 696.7 C592.1 696.9 593.4 697.1 594.7 697.4 C596.0 697.6 597.3 697.8 598.7 698.0 C600.0 698.2 601.3 698.4 602.6 698.7 C603.9 698.9 605.2 699.1 606.5 699.4 C607.8 699.7 609.1 700.0 610.4 700.3 C611.7 700.6 613.0 700.9 614.3 701.3 C615.6 701.6 616.9 702.0 618.1 702.4 C619.4 702.8 620.7 703.2 621.9 703.7 C623.2 704.1 624.4 704.6 625.7 705.1 C626.9 705.5 628.2 706.0 629.4 706.5 C630.6 707.0 631.9 707.5 633.1 708.1 C634.3 708.6 635.6 709.1 636.8 709.6 C638.0 710.2 639.2 710.7 640.4 711.3 C641.6 711.9 642.8 712.4 644.0 713.0 C645.2 713.6 646.4 714.2 647.6 714.8 C648.8 715.4 649.9 716.1 651.1 716.7 C652.3 717.4 653.4 718.1 654.5 718.8 C655.7 719.5 656.8 720.2 657.9 721.0 C659.0 721.8 660.0 722.5 661.1 723.4 C662.1 724.2 663.2 725.0 664.2 725.9 C665.1 726.8 666.1 727.8 667.0 728.7 C668.0 729.7 668.9 730.7 669.8 731.6 C670.7 732.6 671.5 733.6 672.4 734.6 C673.3 735.6 674.3 736.6 675.2 737.6 C676.0 738.5 676.9 739.5 677.8 740.5 C678.7 741.5 679.5 742.6 680.4 743.6 C681.3 744.6 682.2 745.6 683.1 746.5 C684.1 747.4 685.0 748.4 686.1 749.2 C687.2 749.9 688.3 750.8 689.5 751.1 C690.7 751.5 692.2 751.6 693.3 751.1 C694.4 750.7 695.4 749.6 696.3 748.7 C697.2 747.8 698.1 746.7 698.8 745.6 C699.6 744.5 700.2 743.3 700.8 742.1 C701.3 740.9 701.7 739.6 702.2 738.4 C702.6 737.1 703.0 735.8 703.3 734.6 C703.7 733.3 704.1 732.0 704.4 730.7 C704.8 729.4 705.1 728.1 705.4 726.8 C705.8 725.5 706.1 724.3 706.4 723.0 C706.8 721.7 707.1 720.4 707.4 719.1 C707.8 717.8 708.1 716.5 708.5 715.2 C708.8 713.9 709.1 712.6 709.5 711.4 C709.8 710.1 710.1 708.8 710.5 707.5 C710.8 706.2 711.1 704.9 711.4 703.6 C711.8 702.3 712.1 701.0 712.4 699.7 C712.7 698.4 713.0 697.1 713.4 695.8 C713.7 694.5 714.0 693.2 714.3 691.9 C714.6 690.6 714.9 689.3 715.2 688.1 C715.5 686.8 715.8 685.5 716.1 684.1 C716.4 682.8 716.7 681.5 717.0 680.2 C717.2 678.9 717.5 677.6 717.8 676.3 C718.1 675.0 718.4 673.7 718.7 672.4 C719.0 671.1 719.2 669.8 719.5 668.5 C719.8 667.2 720.1 665.9 720.4 664.6 C720.7 663.3 721.0 662.0 721.3 660.7 C721.6 659.4 722.0 658.1 722.3 656.8 C722.6 655.5 722.9 654.3 723.3 653.0 C723.6 651.7 723.9 650.4 724.2 649.1 C724.6 647.8 724.9 646.5 725.2 645.2 C725.5 643.9 725.9 642.6 726.2 641.3 C726.5 640.0 726.8 638.7 727.1 637.4 C727.5 636.1 727.8 634.9 728.1 633.6 C728.4 632.3 728.7 631.0 729.1 629.7 C729.4 628.4 729.7 627.1 730.1 625.8 C730.4 624.5 730.8 623.2 731.1 621.9 C731.5 620.7 731.8 619.4 732.2 618.1 C732.6 616.8 733.0 615.5 733.4 614.3 C733.7 613.0 734.2 611.7 734.6 610.4 C735.0 609.2 735.4 607.9 735.8 606.6 C736.2 605.4 736.6 604.1 737.1 602.9 C737.5 601.6 738.0 600.4 738.5 599.1 C739.0 597.9 739.5 596.7 740.1 595.5 C740.7 594.2 741.3 593.1 741.9 591.9 C742.5 590.7 743.2 589.6 743.9 588.4 C744.6 587.3 745.3 586.2 746.0 585.0 C746.8 583.9 747.5 582.8 748.3 581.7 C749.1 580.6 749.8 579.6 750.7 578.6 C751.6 577.6 752.6 576.6 753.6 575.8 C754.6 574.9 755.7 574.2 756.9 573.5 C758.0 572.8 759.2 572.3 760.4 571.8 C761.7 571.2 762.9 570.8 764.2 570.4 C765.5 570.0 766.8 569.7 768.1 569.4 C769.4 569.1 770.7 568.9 772.0 568.7 C773.3 568.5 774.6 568.3 776.0 568.2 C777.3 568.0 778.6 567.9 779.9 567.8 C781.3 567.6 782.6 567.5 783.9 567.4 C785.3 567.3 786.6 567.2 787.9 567.1 C789.2 567.0 790.6 566.9 791.9 566.8 C793.2 566.8 794.6 566.7 795.9 566.6 C797.2 566.5 798.6 566.5 799.9 566.4 C801.2 566.3 802.6 566.3 803.9 566.2 C805.2 566.2 806.6 566.2 807.9 566.1 C809.2 566.1 810.6 566.0 811.9 566.0 C813.2 566.0 814.6 566.0 815.9 565.9 C817.2 565.9 818.6 565.9 819.9 565.8 C821.2 565.8 822.6 565.8 823.9 565.8 C825.2 565.7 826.6 565.7 827.9 565.7 C829.2 565.7 831.0 565.6 831.9 565.6 C832.8 565.6 832.9 565.6 833.1 565.6" fill="none" stroke="#303030" stroke-width="2.1" stroke-linejoin="round"/><path d="M531.4 698.1 C532.0 697.9 533.9 697.3 535.2 696.9 C536.5 696.5 537.8 696.1 539.0 695.7 C540.3 695.4 541.6 695.0 542.9 694.7 C544.2 694.3 545.5 694.0 546.8 693.7 C548.1 693.4 549.4 693.2 550.7 693.0 C552.0 692.7 553.3 692.6 554.7 692.4 C556.0 692.2 557.3 692.1 558.6 692.0 C560.0 691.8 561.3 691.7 562.6 691.6 C564.0 691.5 565.3 691.4 566.6 691.3 C567.9 691.2 569.3 691.1 570.6 691.1 C571.9 691.0 573.3 690.9 574.6 690.8 C575.9 690.7 577.3 690.7 578.6 690.6 C579.9 690.5 581.2 690.4 582.6 690.3 C583.9 690.2 585.2 690.1 586.6 690.1 C587.9 690.0 589.2 689.9 590.6 689.8 C591.9 689.7 593.2 689.6 594.5 689.5 C595.9 689.4 597.2 689.3 598.5 689.2 C599.9 689.1 601.2 689.0 602.5 688.9 C603.9 688.8 605.2 688.8 606.5 688.7 C607.9 688.6 609.2 688.5 610.5 688.4 C611.8 688.3 613.2 688.2 614.5 688.1 C615.8 688.0 617.2 687.9 618.5 687.8 C619.8 687.7 621.1 687.6 622.5 687.4 C623.8 687.3 625.1 687.2 626.5 687.0 C627.8 686.9 629.1 686.8 630.4 686.6 C631.8 686.5 633.1 686.3 634.4 686.2 C635.7 686.0 637.1 685.8 638.4 685.7 C639.7 685.5 641.0 685.3 642.3 685.1 C643.7 685.0 645.0 684.8 646.3 684.6 C647.6 684.4 648.9 684.2 650.2 683.9 C651.6 683.7 652.9 683.5 654.2 683.2 C655.5 682.9 656.8 682.6 658.1 682.2 C659.3 681.8 660.5 681.3 661.8 680.7 C663.0 680.2 664.2 679.7 665.4 679.2 C666.7 678.6 667.9 678.1 669.1 677.5 C670.3 676.9 671.5 676.4 672.6 675.7 C673.8 675.1 674.9 674.4 676.0 673.6 C677.1 672.8 678.2 672.0 679.1 671.1 C680.1 670.2 681.1 669.3 682.0 668.3 C682.9 667.3 683.8 666.3 684.6 665.3 C685.4 664.2 686.2 663.1 687.0 662.0 C687.7 660.9 688.4 659.8 689.1 658.6 C689.8 657.5 690.4 656.3 691.0 655.1 C691.6 654.0 692.2 652.7 692.8 651.5 C693.3 650.3 693.9 649.1 694.4 647.9 C695.0 646.7 695.5 645.5 696.1 644.3 C696.6 643.0 697.1 641.8 697.7 640.6 C698.2 639.4 698.7 638.1 699.2 636.9 C699.7 635.7 700.2 634.4 700.7 633.2 C701.2 631.9 701.7 630.7 702.1 629.5 C702.6 628.2 703.1 627.0 703.6 625.7 C704.1 624.5 704.6 623.3 705.1 622.0 C705.6 620.8 706.1 619.5 706.6 618.3 C707.1 617.1 707.6 615.8 708.1 614.6 C708.6 613.4 709.1 612.1 709.6 610.9 C710.1 609.7 710.6 608.4 711.0 607.2 C711.5 605.9 712.0 604.7 712.5 603.5 C713.0 602.2 713.5 601.0 714.0 599.7 C714.5 598.5 714.9 597.2 715.4 596.0 C715.9 594.8 716.4 593.5 716.9 592.3 C717.4 591.0 717.9 589.8 718.4 588.6 C718.9 587.3 719.4 586.1 719.9 584.9 C720.5 583.7 721.0 582.4 721.5 581.2 C722.0 580.0 722.5 578.7 723.1 577.5 C723.6 576.3 724.2 575.1 724.8 573.9 C725.4 572.7 726.1 571.6 726.7 570.4 C727.4 569.3 728.2 568.2 729.0 567.1 C729.8 566.1 730.7 565.0 731.6 564.1 C732.6 563.2 733.7 562.4 734.8 561.7 C735.9 561.1 737.2 560.6 738.4 560.1 C739.7 559.7 741.0 559.4 742.3 559.1 C743.6 558.8 744.9 558.6 746.2 558.4 C747.6 558.3 748.9 558.2 750.2 558.2 C751.6 558.2 752.9 558.2 754.2 558.3 C755.6 558.3 756.9 558.5 758.2 558.6 C759.5 558.7 760.9 558.9 762.2 559.1 C763.5 559.2 764.8 559.4 766.2 559.5 C767.5 559.6 768.8 559.8 770.1 559.9 C771.5 560.0 772.8 560.1 774.1 560.2 C775.5 560.3 776.8 560.4 778.1 560.5 C779.4 560.6 780.8 560.7 782.1 560.8 C783.4 560.9 784.8 561.0 786.1 561.1 C787.4 561.2 788.7 561.3 790.1 561.4 C791.4 561.5 792.7 561.6 794.1 561.7 C795.4 561.8 796.7 561.9 798.1 562.0 C799.4 562.1 800.7 562.2 802.0 562.3 C803.4 562.4 804.7 562.5 806.0 562.6 C807.4 562.7 808.7 562.8 810.0 562.9 C811.4 563.0 812.7 563.1 814.0 563.2 C815.3 563.3 816.7 563.4 818.0 563.4 C819.3 563.5 820.7 563.6 822.0 563.7 C823.3 563.8 824.7 563.9 826.0 564.0 C827.3 564.1 828.8 564.2 830.0 564.3 C831.2 564.4 832.6 564.5 833.1 564.5" fill="none" stroke="#dc3844" stroke-width="2.1" stroke-linejoin="round"/><path d="M531.4 698.1 C532.1 698.0 534.0 697.8 535.4 697.6 C536.7 697.5 538.0 697.3 539.3 697.1 C540.7 697.0 542.0 696.8 543.3 696.7 C544.6 696.6 546.0 696.5 547.3 696.4 C548.6 696.4 550.0 696.3 551.3 696.3 C552.6 696.3 554.0 696.3 555.3 696.3 C556.6 696.3 558.0 696.4 559.3 696.4 C560.6 696.4 562.0 696.5 563.3 696.5 C564.6 696.6 566.0 696.6 567.3 696.7 C568.6 696.7 570.0 696.8 571.3 696.9 C572.6 696.9 574.0 697.0 575.3 697.1 C576.6 697.2 577.9 697.2 579.3 697.3 C580.6 697.4 581.9 697.5 583.3 697.6 C584.6 697.7 585.9 697.8 587.2 698.0 C588.6 698.1 589.9 698.2 591.2 698.4 C592.6 698.5 593.9 698.7 595.2 698.8 C596.5 699.0 597.8 699.1 599.2 699.3 C600.5 699.5 601.8 699.7 603.1 699.9 C604.4 700.2 605.8 700.4 607.1 700.7 C608.4 700.9 609.7 701.2 611.0 701.5 C612.3 701.8 613.6 702.1 614.9 702.4 C616.1 702.8 617.4 703.1 618.7 703.5 C620.0 703.9 621.3 704.3 622.5 704.7 C623.8 705.1 625.1 705.5 626.3 705.9 C627.6 706.4 628.9 706.8 630.1 707.3 C631.4 707.7 632.6 708.2 633.8 708.7 C635.1 709.2 636.3 709.7 637.6 710.2 C638.8 710.7 640.0 711.2 641.2 711.7 C642.5 712.3 643.7 712.8 644.9 713.4 C646.1 714.0 647.3 714.6 648.4 715.2 C649.6 715.8 650.8 716.5 651.9 717.2 C653.1 717.8 654.2 718.5 655.3 719.3 C656.4 720.0 657.5 720.7 658.6 721.5 C659.7 722.3 660.8 723.1 661.8 723.9 C662.9 724.8 663.9 725.6 664.8 726.6 C665.8 727.5 666.8 728.4 667.7 729.4 C668.6 730.3 669.5 731.3 670.4 732.3 C671.3 733.3 672.2 734.3 673.1 735.3 C674.0 736.3 674.9 737.3 675.7 738.3 C676.6 739.3 677.4 740.3 678.3 741.4 C679.1 742.4 679.9 743.5 680.8 744.5 C681.6 745.5 682.5 746.5 683.4 747.5 C684.3 748.5 685.3 749.4 686.3 750.2 C687.3 751.1 688.4 751.9 689.6 752.5 C690.8 753.0 692.1 753.7 693.3 753.6 C694.5 753.6 695.7 752.9 696.8 752.2 C697.8 751.5 698.7 750.4 699.6 749.4 C700.5 748.5 701.4 747.5 702.1 746.4 C702.8 745.3 703.2 744.0 703.7 742.7 C704.2 741.5 704.5 740.2 704.9 738.9 C705.3 737.6 705.7 736.4 706.0 735.1 C706.4 733.8 706.7 732.5 707.1 731.2 C707.4 729.9 707.8 728.6 708.1 727.3 C708.4 726.1 708.8 724.8 709.1 723.5 C709.4 722.2 709.8 720.9 710.1 719.6 C710.5 718.3 710.8 717.0 711.1 715.7 C711.5 714.4 711.8 713.2 712.2 711.9 C712.5 710.6 712.8 709.3 713.2 708.0 C713.5 706.7 713.8 705.4 714.2 704.1 C714.5 702.8 714.8 701.5 715.1 700.2 C715.5 698.9 715.8 697.7 716.1 696.4 C716.4 695.1 716.7 693.8 716.9 692.4 C717.2 691.1 717.5 689.8 717.7 688.5 C717.9 687.2 718.1 685.9 718.3 684.6 C718.5 683.3 718.7 681.9 718.9 680.6 C719.1 679.3 719.3 678.0 719.5 676.7 C719.7 675.3 719.9 674.0 720.0 672.7 C720.2 671.4 720.4 670.1 720.6 668.7 C720.8 667.4 720.9 666.1 721.2 664.8 C721.4 663.5 721.6 662.1 721.8 660.8 C722.1 659.5 722.4 658.2 722.7 656.9 C723.0 655.6 723.3 654.3 723.6 653.0 C724.0 651.7 724.3 650.5 724.6 649.2 C725.0 647.9 725.3 646.6 725.7 645.3 C726.0 644.0 726.3 642.7 726.7 641.4 C727.0 640.1 727.3 638.8 727.6 637.5 C727.9 636.2 728.3 635.0 728.6 633.7 C728.9 632.4 729.2 631.1 729.6 629.8 C729.9 628.5 730.2 627.2 730.6 625.9 C730.9 624.6 731.3 623.3 731.6 622.1 C732.0 620.8 732.3 619.5 732.7 618.2 C733.1 616.9 733.4 615.6 733.8 614.4 C734.2 613.1 734.6 611.8 735.0 610.6 C735.4 609.3 735.9 608.0 736.3 606.7 C736.7 605.5 737.1 604.2 737.6 603.0 C738.0 601.7 738.5 600.5 739.0 599.2 C739.5 598.0 740.0 596.8 740.6 595.6 C741.1 594.3 741.7 593.2 742.4 592.0 C743.0 590.8 743.7 589.7 744.4 588.5 C745.0 587.4 745.8 586.2 746.5 585.1 C747.2 584.0 747.9 582.9 748.7 581.8 C749.5 580.7 750.3 579.6 751.2 578.7 C752.1 577.7 753.0 576.7 754.0 575.9 C755.0 575.0 756.1 574.2 757.3 573.6 C758.4 572.9 759.6 572.3 760.9 571.8 C762.1 571.3 763.3 570.8 764.6 570.4 C765.9 570.0 767.2 569.6 768.5 569.3 C769.7 569.0 771.1 568.8 772.4 568.6 C773.7 568.4 775.0 568.3 776.4 568.2 C777.7 568.0 779.0 567.9 780.3 567.8 C781.7 567.7 783.0 567.6 784.3 567.5 C785.7 567.4 787.0 567.3 788.3 567.2 C789.6 567.1 791.0 567.0 792.3 567.0 C793.6 566.9 795.0 566.8 796.3 566.8 C797.6 566.7 799.0 566.6 800.3 566.6 C801.6 566.5 803.0 566.5 804.3 566.4 C805.6 566.4 807.0 566.4 808.3 566.3 C809.6 566.3 811.0 566.3 812.3 566.2 C813.6 566.2 815.0 566.2 816.3 566.1 C817.6 566.1 819.0 566.1 820.3 566.0 C821.6 566.0 823.0 566.0 824.3 566.0 C825.6 565.9 827.0 565.9 828.3 565.9 C829.6 565.9 831.5 565.8 832.3 565.8 C833.1 565.8 833.0 565.8 833.1 565.8" fill="none" stroke="#dc3844" stroke-width="2.1" stroke-linejoin="round"/><path d="M531.4 708.1 C532.0 707.9 534.0 707.5 535.3 707.1 C536.6 706.8 537.9 706.5 539.2 706.2 C540.5 705.9 541.8 705.6 543.1 705.3 C544.4 705.0 545.7 704.7 547.0 704.5 C548.3 704.3 549.6 704.0 550.9 703.8 C552.2 703.6 553.6 703.4 554.9 703.3 C556.2 703.1 557.5 702.9 558.9 702.8 C560.2 702.6 561.5 702.5 562.8 702.4 C564.2 702.2 565.5 702.1 566.8 702.0 C568.1 701.8 569.5 701.7 570.8 701.6 C572.1 701.5 573.4 701.3 574.8 701.2 C576.1 701.1 577.4 701.0 578.8 700.8 C580.1 700.7 581.4 700.6 582.7 700.5 C584.1 700.4 585.4 700.2 586.7 700.1 C588.0 700.0 589.4 699.8 590.7 699.7 C592.0 699.6 593.4 699.4 594.7 699.3 C596.0 699.2 597.3 699.1 598.7 699.0 C600.0 698.8 601.3 698.7 602.7 698.6 C604.0 698.5 605.3 698.3 606.6 698.2 C608.0 698.1 609.3 698.0 610.6 697.8 C611.9 697.7 613.3 697.6 614.6 697.5 C615.9 697.3 617.3 697.2 618.6 697.0 C619.9 696.9 621.2 696.8 622.6 696.6 C623.9 696.4 625.2 696.3 626.5 696.1 C627.8 695.9 629.2 695.8 630.5 695.6 C631.8 695.4 633.1 695.2 634.4 695.0 C635.8 694.8 637.1 694.6 638.4 694.4 C639.7 694.2 641.0 694.0 642.3 693.8 C643.7 693.5 645.0 693.3 646.3 693.1 C647.6 692.8 648.9 692.5 650.2 692.3 C651.5 692.0 652.8 691.7 654.1 691.3 C655.4 691.0 656.7 690.7 657.9 690.3 C659.2 689.9 660.5 689.4 661.7 689.0 C663.0 688.5 664.2 687.9 665.4 687.3 C666.6 686.7 667.7 686.1 668.9 685.4 C670.0 684.7 671.1 683.9 672.2 683.1 C673.3 682.4 674.3 681.5 675.3 680.7 C676.3 679.8 677.3 678.8 678.2 677.9 C679.1 676.9 680.0 675.9 680.8 674.9 C681.6 673.8 682.4 672.7 683.1 671.6 C683.9 670.5 684.6 669.4 685.2 668.2 C685.9 667.1 686.6 665.9 687.2 664.8 C687.9 663.6 688.5 662.4 689.2 661.3 C689.8 660.1 690.5 658.9 691.1 657.7 C691.7 656.6 692.4 655.4 693.0 654.2 C693.6 653.0 694.1 651.8 694.7 650.6 C695.2 649.4 695.7 648.1 696.3 646.9 C696.8 645.7 697.4 644.5 697.9 643.3 C698.4 642.0 698.9 640.8 699.4 639.6 C699.9 638.3 700.3 637.1 700.8 635.8 C701.3 634.6 701.7 633.3 702.2 632.0 C702.6 630.8 703.0 629.5 703.5 628.3 C703.9 627.0 704.4 625.8 704.8 624.5 C705.3 623.2 705.7 622.0 706.1 620.7 C706.6 619.5 707.0 618.2 707.5 617.0 C707.9 615.7 708.3 614.4 708.8 613.2 C709.2 611.9 709.6 610.7 710.1 609.4 C710.5 608.1 711.0 606.9 711.4 605.6 C711.9 604.4 712.4 603.1 712.8 601.9 C713.3 600.6 713.8 599.4 714.3 598.2 C714.8 596.9 715.3 595.7 715.8 594.4 C716.3 593.2 716.8 592.0 717.4 590.8 C717.9 589.6 718.5 588.4 719.1 587.2 C719.8 586.0 720.4 584.8 721.1 583.7 C721.8 582.6 722.5 581.4 723.2 580.3 C724.0 579.2 724.7 578.1 725.6 577.1 C726.4 576.1 727.3 575.1 728.3 574.1 C729.2 573.2 730.3 572.4 731.3 571.6 C732.4 570.8 733.5 570.0 734.6 569.2 C735.7 568.5 736.8 567.8 738.0 567.1 C739.1 566.4 740.3 565.8 741.5 565.2 C742.7 564.6 743.9 564.2 745.2 563.8 C746.5 563.4 747.8 563.3 749.1 563.0 C750.4 562.8 751.7 562.6 753.1 562.5 C754.4 562.3 755.7 562.2 757.0 562.1 C758.4 562.0 759.7 561.9 761.0 561.8 C762.4 561.8 763.7 561.8 765.0 561.8 C766.4 561.8 767.7 561.8 769.0 561.8 C770.4 561.9 771.7 561.9 773.0 562.0 C774.4 562.0 775.7 562.1 777.0 562.2 C778.4 562.2 779.7 562.3 781.0 562.3 C782.4 562.4 783.7 562.5 785.0 562.5 C786.3 562.6 787.7 562.6 789.0 562.7 C790.3 562.7 791.7 562.8 793.0 562.8 C794.3 562.9 795.7 562.9 797.0 563.0 C798.3 563.1 799.7 563.1 801.0 563.2 C802.3 563.2 803.7 563.3 805.0 563.3 C806.3 563.4 807.7 563.4 809.0 563.5 C810.3 563.5 811.7 563.6 813.0 563.7 C814.3 563.7 815.7 563.8 817.0 563.8 C818.3 563.9 819.7 563.9 821.0 564.0 C822.3 564.0 823.7 564.1 825.0 564.2 C826.3 564.2 827.6 564.3 829.0 564.3 C830.3 564.4 832.4 564.5 833.1 564.5" fill="none" stroke="#2424c8" stroke-width="2.1" stroke-linejoin="round"/><path d="M531.4 708.1 C532.1 708.1 534.1 708.0 535.4 708.0 C536.7 708.0 538.1 708.0 539.4 707.9 C540.7 707.9 542.1 707.9 543.4 707.9 C544.7 707.9 546.1 707.9 547.4 707.9 C548.7 708.0 550.1 708.0 551.4 708.1 C552.7 708.1 554.1 708.2 555.4 708.3 C556.7 708.3 558.0 708.4 559.4 708.5 C560.7 708.5 562.0 708.6 563.4 708.7 C564.7 708.8 566.0 708.9 567.4 709.0 C568.7 709.0 570.0 709.1 571.4 709.2 C572.7 709.3 574.0 709.4 575.3 709.5 C576.7 709.6 578.0 709.8 579.3 709.9 C580.7 710.0 582.0 710.1 583.3 710.2 C584.6 710.4 586.0 710.5 587.3 710.6 C588.6 710.8 589.9 710.9 591.3 711.1 C592.6 711.3 593.9 711.4 595.2 711.6 C596.6 711.8 597.9 711.9 599.2 712.1 C600.5 712.3 601.8 712.5 603.2 712.6 C604.5 712.8 605.8 713.0 607.1 713.2 C608.4 713.4 609.8 713.6 611.1 713.8 C612.4 714.0 613.7 714.3 615.0 714.5 C616.3 714.7 617.7 714.9 619.0 715.2 C620.3 715.4 621.6 715.6 622.9 715.9 C624.2 716.1 625.5 716.4 626.8 716.7 C628.1 716.9 629.4 717.2 630.7 717.5 C632.0 717.8 633.3 718.0 634.6 718.3 C635.9 718.6 637.2 718.9 638.5 719.3 C639.8 719.6 641.1 719.9 642.4 720.3 C643.7 720.6 645.0 721.0 646.2 721.4 C647.5 721.8 648.8 722.2 650.0 722.7 C651.3 723.1 652.5 723.6 653.7 724.2 C655.0 724.7 656.2 725.3 657.4 725.9 C658.5 726.5 659.7 727.1 660.8 727.8 C662.0 728.5 663.1 729.2 664.2 730.0 C665.3 730.7 666.4 731.5 667.5 732.3 C668.6 733.0 669.7 733.8 670.7 734.7 C671.7 735.5 672.8 736.4 673.7 737.3 C674.7 738.2 675.6 739.2 676.5 740.1 C677.4 741.1 678.3 742.1 679.2 743.1 C680.1 744.1 681.0 745.0 682.0 745.9 C683.0 746.8 684.1 747.7 685.2 748.4 C686.3 749.1 687.5 750.0 688.7 750.0 C689.8 750.0 691.0 749.4 692.0 748.6 C692.9 747.8 693.6 746.5 694.3 745.4 C695.0 744.3 695.7 743.1 696.2 741.9 C696.8 740.7 697.3 739.4 697.7 738.2 C698.2 736.9 698.6 735.7 699.0 734.4 C699.4 733.1 699.8 731.8 700.2 730.6 C700.6 729.3 701.0 728.0 701.3 726.7 C701.7 725.5 702.1 724.2 702.4 722.9 C702.8 721.6 703.2 720.3 703.5 719.0 C703.9 717.7 704.2 716.5 704.6 715.2 C704.9 713.9 705.3 712.6 705.6 711.3 C706.0 710.0 706.3 708.8 706.7 707.5 C707.0 706.2 707.4 704.9 707.7 703.6 C708.1 702.3 708.4 701.0 708.8 699.7 C709.1 698.4 709.4 697.2 709.8 695.9 C710.1 694.6 710.4 693.3 710.8 692.0 C711.1 690.7 711.4 689.4 711.8 688.1 C712.1 686.8 712.4 685.5 712.7 684.2 C713.0 682.9 713.3 681.6 713.6 680.3 C713.9 679.0 714.2 677.7 714.5 676.4 C714.8 675.1 715.0 673.8 715.3 672.5 C715.6 671.2 715.8 669.9 716.1 668.6 C716.3 667.3 716.6 666.0 716.8 664.7 C717.1 663.4 717.3 662.0 717.6 660.7 C717.9 659.4 718.2 658.1 718.5 656.8 C718.9 655.6 719.2 654.3 719.5 653.0 C719.8 651.7 720.2 650.4 720.5 649.1 C720.8 647.8 721.2 646.5 721.5 645.2 C721.8 643.9 722.2 642.6 722.5 641.3 C722.8 640.0 723.1 638.8 723.4 637.5 C723.7 636.2 724.1 634.9 724.4 633.6 C724.7 632.3 725.0 631.0 725.4 629.7 C725.7 628.4 726.0 627.1 726.4 625.8 C726.7 624.5 727.1 623.2 727.4 622.0 C727.8 620.7 728.1 619.4 728.5 618.1 C728.9 616.8 729.3 615.6 729.7 614.3 C730.1 613.0 730.5 611.7 730.9 610.5 C731.3 609.2 731.7 607.9 732.1 606.7 C732.5 605.4 733.0 604.1 733.4 602.9 C733.9 601.6 734.3 600.4 734.8 599.1 C735.3 597.9 735.8 596.7 736.4 595.5 C736.9 594.2 737.5 593.0 738.0 591.8 C738.6 590.6 739.2 589.4 739.9 588.3 C740.5 587.1 741.2 585.9 741.9 584.8 C742.6 583.7 743.3 582.5 744.1 581.5 C744.8 580.4 745.6 579.3 746.5 578.3 C747.3 577.2 748.2 576.2 749.2 575.3 C750.1 574.4 751.2 573.6 752.4 572.9 C753.5 572.3 754.7 571.7 756.0 571.2 C757.2 570.7 758.5 570.3 759.7 569.9 C761.0 569.6 762.3 569.3 763.6 569.0 C764.9 568.8 766.2 568.5 767.6 568.3 C768.9 568.1 770.2 567.8 771.5 567.6 C772.8 567.5 774.2 567.4 775.5 567.3 C776.8 567.2 778.1 567.1 779.5 567.0 C780.8 567.0 782.1 566.9 783.5 566.8 C784.8 566.8 786.1 566.7 787.5 566.7 C788.8 566.6 790.1 566.6 791.5 566.6 C792.8 566.5 794.1 566.5 795.5 566.4 C796.8 566.4 798.1 566.4 799.5 566.3 C800.8 566.3 802.1 566.2 803.5 566.2 C804.8 566.2 806.1 566.1 807.5 566.1 C808.8 566.1 810.1 566.0 811.5 566.0 C812.8 565.9 814.1 565.9 815.5 565.9 C816.8 565.8 818.1 565.8 819.5 565.8 C820.8 565.7 822.1 565.7 823.5 565.7 C824.8 565.6 826.1 565.6 827.5 565.6 C828.8 565.5 830.5 565.5 831.5 565.4 C832.4 565.4 832.8 565.4 833.1 565.4" fill="none" stroke="#2424c8" stroke-width="2.1" stroke-linejoin="round"/></g><path d="M531.09 800.60v-4.50M531.09 449.60v4.50M546.18 800.60v-4.50M546.18 449.60v4.50M561.27 800.60v-4.50M561.27 449.60v4.50M576.36 800.60v-9.00M576.36 449.60v9.00M591.45 800.60v-4.50M591.45 449.60v4.50M606.55 800.60v-4.50M606.55 449.60v4.50M621.64 800.60v-4.50M621.64 449.60v4.50M636.73 800.60v-9.00M636.73 449.60v9.00M651.82 800.60v-4.50M651.82 449.60v4.50M666.91 800.60v-4.50M666.91 449.60v4.50M682.00 800.60v-4.50M682.00 449.60v4.50M697.09 800.60v-9.00M697.09 449.60v9.00M712.18 800.60v-4.50M712.18 449.60v4.50M727.27 800.60v-4.50M727.27 449.60v4.50M742.36 800.60v-4.50M742.36 449.60v4.50M757.45 800.60v-9.00M757.45 449.60v9.00M772.55 800.60v-4.50M772.55 449.60v4.50M787.64 800.60v-4.50M787.64 449.60v4.50M802.73 800.60v-4.50M802.73 449.60v4.50M817.82 800.60v-9.00M817.82 449.60v9.00M832.91 800.60v-4.50M832.91 449.60v4.50M516.00 777.20h4.50M848.00 777.20h-4.50M516.00 753.80h9.00M848.00 753.80h-9.00M516.00 730.40h4.50M848.00 730.40h-4.50M516.00 707.00h9.00M848.00 707.00h-9.00M516.00 683.60h4.50M848.00 683.60h-4.50M516.00 660.20h9.00M848.00 660.20h-9.00M516.00 636.80h4.50M848.00 636.80h-4.50M516.00 613.40h9.00M848.00 613.40h-9.00M516.00 590.00h4.50M848.00 590.00h-4.50M516.00 566.60h9.00M848.00 566.60h-9.00M516.00 543.20h4.50M848.00 543.20h-4.50M516.00 519.80h9.00M848.00 519.80h-9.00M516.00 496.40h4.50M848.00 496.40h-4.50M516.00 473.00h9.00M848.00 473.00h-9.00" stroke="#333333" stroke-width="2" fill="none"/><rect x="516.00" y="449.60" width="332.00" height="351.00" fill="none" stroke="#333333" stroke-width="2.2"/><g font-family='"Liberation Sans", sans-serif' font-weight="bold" font-size="19.2" fill="#0c0c0c" stroke="#0c0c0c" stroke-width="0.3"><text transform="translate(505.70 806.40) scale(1.0 1)" text-anchor="end">-500</text><text transform="translate(505.70 759.60) scale(1.0 1)" text-anchor="end">-400</text><text transform="translate(505.70 712.80) scale(1.0 1)" text-anchor="end">-300</text><text transform="translate(505.70 666.00) scale(1.0 1)" text-anchor="end">-200</text><text transform="translate(505.70 619.20) scale(1.0 1)" text-anchor="end">-100</text><text transform="translate(505.70 572.40) scale(1.0 1)" text-anchor="end">0</text><text transform="translate(505.70 525.60) scale(1.0 1)" text-anchor="end">100</text><text transform="translate(505.70 478.80) scale(1.0 1)" text-anchor="end">200</text><text transform="translate(516.00 826.00) scale(1.01 1)" text-anchor="middle">0.8</text><text transform="translate(576.36 826.00) scale(1.01 1)" text-anchor="middle">0.6</text><text transform="translate(636.73 826.00) scale(1.01 1)" text-anchor="middle">0.4</text><text transform="translate(697.09 826.00) scale(1.01 1)" text-anchor="middle">0.2</text><text transform="translate(757.45 826.00) scale(1.01 1)" text-anchor="middle">0.0</text><text transform="translate(817.82 826.00) scale(1.01 1)" text-anchor="middle">-0.2</text></g><text transform="translate(682.00 854.60) scale(1.04 1)" text-anchor="middle" font-family='"Liberation Sans", sans-serif' font-weight="bold" font-size="23.5" fill="#0c0c0c" stroke="#0c0c0c" stroke-width="0.4">E / V vs. SCE</text><text transform="translate(456.50 625.10) rotate(-90)" text-anchor="middle" font-family='"Liberation Sans", sans-serif' font-weight="bold" font-size="24" fill="#0c0c0c">j / μA cm<tspan font-size="18" dy="-13">-2</tspan></text><text x="537.80" y="486.60" font-family='"Liberation Sans", sans-serif' font-weight="bold" font-size="35" fill="#000">e</text><text transform="translate(526.40 787.30) scale(1.05 1)" font-family='"Liberation Sans", sans-serif' font-weight="bold" font-size="16" fill="#151515">10 mM cellobiose</text></g>
<g><clipPath id="cf"><rect x="945.90" y="449.50" width="332.00" height="351.00"/></clipPath><g clip-path="url(#cf)"><line x1="945.90" y1="541.87" x2="1277.90" y2="541.87" stroke="#222" stroke-width="2"/><path d="M961.7 554.6 C962.2 554.2 963.7 552.8 964.8 552.1 C965.9 551.4 967.1 550.7 968.3 550.2 C969.5 549.7 970.8 549.4 972.1 549.1 C973.4 548.8 974.8 548.7 976.1 548.5 C977.4 548.3 978.7 548.2 980.1 548.0 C981.4 547.9 982.7 547.7 984.0 547.6 C985.4 547.4 986.7 547.3 988.0 547.2 C989.3 547.1 990.7 547.0 992.0 546.9 C993.3 546.8 994.7 546.7 996.0 546.7 C997.3 546.6 998.7 546.5 1000.0 546.5 C1001.3 546.4 1002.7 546.4 1004.0 546.3 C1005.3 546.3 1006.7 546.2 1008.0 546.2 C1009.3 546.1 1010.6 546.1 1012.0 546.1 C1013.3 546.0 1014.6 546.0 1016.0 546.0 C1017.3 545.9 1018.6 545.9 1020.0 545.9 C1021.3 545.8 1022.6 545.8 1024.0 545.8 C1025.3 545.7 1026.6 545.7 1028.0 545.6 C1029.3 545.6 1030.6 545.6 1032.0 545.5 C1033.3 545.5 1034.6 545.4 1036.0 545.4 C1037.3 545.4 1038.6 545.3 1040.0 545.3 C1041.3 545.2 1042.6 545.2 1044.0 545.1 C1045.3 545.0 1046.6 545.0 1048.0 544.9 C1049.3 544.9 1050.6 544.8 1052.0 544.7 C1053.3 544.7 1054.6 544.6 1056.0 544.5 C1057.3 544.5 1058.6 544.4 1059.9 544.3 C1061.3 544.3 1062.6 544.2 1063.9 544.1 C1065.3 544.0 1066.6 543.9 1067.9 543.8 C1069.3 543.8 1070.6 543.7 1071.9 543.6 C1073.3 543.5 1074.6 543.4 1075.9 543.3 C1077.2 543.2 1078.6 543.1 1079.9 543.0 C1081.2 542.9 1082.6 542.7 1083.9 542.6 C1085.2 542.5 1086.5 542.3 1087.9 542.2 C1089.2 542.1 1090.5 541.9 1091.8 541.8 C1093.2 541.6 1094.5 541.5 1095.8 541.4 C1097.1 541.2 1098.5 541.0 1099.8 540.7 C1101.0 540.4 1102.3 540.0 1103.6 539.5 C1104.8 539.0 1106.0 538.5 1107.2 537.8 C1108.4 537.2 1109.5 536.4 1110.5 535.6 C1111.6 534.8 1112.6 533.9 1113.6 533.1 C1114.6 532.2 1115.6 531.4 1116.6 530.5 C1117.6 529.6 1118.6 528.6 1119.5 527.7 C1120.4 526.7 1121.3 525.7 1122.2 524.7 C1123.1 523.7 1123.9 522.7 1124.8 521.7 C1125.6 520.7 1126.4 519.6 1127.2 518.5 C1128.0 517.5 1128.8 516.4 1129.6 515.3 C1130.3 514.2 1131.1 513.1 1131.8 512.0 C1132.5 510.9 1133.3 509.8 1134.0 508.6 C1134.6 507.5 1135.3 506.3 1135.8 505.1 C1136.4 503.9 1136.9 502.6 1137.4 501.4 C1138.0 500.2 1138.5 498.9 1139.0 497.7 C1139.5 496.5 1140.0 495.3 1140.6 494.1 C1141.1 492.8 1141.7 491.6 1142.2 490.4 C1142.8 489.2 1143.3 488.0 1143.8 486.7 C1144.4 485.5 1144.9 484.3 1145.5 483.1 C1146.1 481.9 1146.7 480.7 1147.2 479.5 C1147.8 478.3 1148.5 477.1 1149.1 475.9 C1149.7 474.8 1150.2 473.6 1150.9 472.4 C1151.5 471.2 1152.2 470.0 1152.9 469.0 C1153.7 467.9 1154.6 466.8 1155.5 466.0 C1156.5 465.1 1157.7 464.3 1158.8 463.8 C1160.0 463.2 1161.3 462.8 1162.5 462.9 C1163.7 463.1 1164.9 463.9 1166.0 464.6 C1167.1 465.4 1167.9 466.4 1168.9 467.4 C1169.8 468.4 1170.7 469.4 1171.5 470.4 C1172.4 471.4 1173.2 472.4 1174.1 473.5 C1174.9 474.5 1175.7 475.6 1176.5 476.7 C1177.3 477.8 1178.0 478.8 1178.8 479.9 C1179.6 481.0 1180.4 482.1 1181.2 483.2 C1181.9 484.2 1182.7 485.3 1183.5 486.4 C1184.3 487.5 1185.1 488.6 1185.9 489.6 C1186.7 490.6 1187.6 491.6 1188.5 492.6 C1189.4 493.6 1190.3 494.6 1191.2 495.6 C1192.1 496.5 1193.0 497.6 1193.9 498.6 C1194.8 499.5 1195.7 500.5 1196.6 501.4 C1197.6 502.3 1198.7 503.2 1199.7 504.0 C1200.8 504.8 1201.8 505.6 1202.9 506.4 C1204.0 507.2 1205.1 508.0 1206.2 508.7 C1207.3 509.4 1208.4 510.2 1209.5 510.9 C1210.7 511.5 1211.9 512.1 1213.1 512.7 C1214.3 513.2 1215.6 513.6 1216.8 514.1 C1218.1 514.6 1219.4 515.0 1220.6 515.4 C1221.9 515.9 1223.1 516.4 1224.3 516.9 C1225.6 517.3 1226.9 517.8 1228.1 518.2 C1229.4 518.6 1230.7 519.0 1231.9 519.4 C1233.2 519.7 1234.5 520.1 1235.8 520.4 C1237.1 520.7 1238.4 520.9 1239.7 521.2 C1241.0 521.5 1242.3 521.8 1243.6 522.0 C1244.9 522.3 1246.2 522.6 1247.5 522.9 C1248.9 523.1 1250.2 523.4 1251.5 523.6 C1252.8 523.9 1254.1 524.1 1255.4 524.3 C1256.7 524.5 1258.1 524.7 1259.4 525.0 C1260.6 525.3 1262.4 525.7 1263.0 525.9" fill="none" stroke="#303030" stroke-width="2.5" stroke-dasharray="4.5 4" stroke-linejoin="round"/><path d="M961.7 554.6 C962.3 554.4 964.2 553.9 965.5 553.5 C966.8 553.2 968.1 552.8 969.4 552.6 C970.7 552.3 972.1 552.1 973.4 551.9 C974.7 551.8 976.0 551.7 977.4 551.5 C978.7 551.4 980.0 551.4 981.3 551.3 C982.7 551.2 984.0 551.2 985.3 551.2 C986.7 551.1 988.0 551.1 989.3 551.1 C990.7 551.0 992.0 551.0 993.3 551.0 C994.7 551.0 996.0 551.0 997.3 551.0 C998.7 551.0 1000.0 551.0 1001.3 551.0 C1002.7 551.0 1004.0 551.0 1005.3 551.1 C1006.7 551.1 1008.0 551.1 1009.3 551.2 C1010.7 551.2 1012.0 551.3 1013.3 551.3 C1014.7 551.4 1016.0 551.4 1017.3 551.5 C1018.7 551.6 1020.0 551.6 1021.3 551.7 C1022.7 551.8 1024.0 551.9 1025.3 552.0 C1026.6 552.1 1028.0 552.2 1029.3 552.3 C1030.6 552.4 1032.0 552.5 1033.3 552.6 C1034.6 552.7 1035.9 552.8 1037.3 552.9 C1038.6 553.1 1039.9 553.2 1041.3 553.3 C1042.6 553.5 1043.9 553.6 1045.2 553.8 C1046.6 553.9 1047.9 554.1 1049.2 554.3 C1050.5 554.4 1051.8 554.6 1053.2 554.8 C1054.5 555.0 1055.8 555.2 1057.1 555.4 C1058.4 555.7 1059.7 555.9 1061.1 556.1 C1062.4 556.4 1063.7 556.6 1065.0 556.9 C1066.3 557.2 1067.6 557.6 1068.9 557.9 C1070.1 558.2 1071.4 558.6 1072.7 558.9 C1074.0 559.3 1075.3 559.7 1076.5 560.1 C1077.8 560.5 1079.1 561.0 1080.3 561.5 C1081.5 562.0 1082.7 562.5 1084.0 563.1 C1085.2 563.7 1086.3 564.3 1087.5 564.9 C1088.7 565.5 1089.9 566.1 1091.0 566.8 C1092.2 567.5 1093.3 568.3 1094.3 569.1 C1095.4 569.9 1096.3 570.8 1097.3 571.7 C1098.3 572.7 1099.2 573.6 1100.1 574.6 C1101.0 575.5 1101.9 576.5 1102.8 577.5 C1103.7 578.5 1104.6 579.5 1105.3 580.6 C1106.1 581.7 1106.8 582.8 1107.5 584.0 C1108.2 585.1 1108.9 586.3 1109.5 587.5 C1110.1 588.6 1110.6 589.9 1111.2 591.1 C1111.8 592.3 1112.4 593.5 1112.9 594.7 C1113.5 595.9 1114.2 597.0 1114.8 598.2 C1115.3 599.4 1115.9 600.7 1116.3 601.9 C1116.8 603.2 1117.1 604.4 1117.5 605.7 C1117.9 607.0 1118.2 608.3 1118.6 609.6 C1119.0 610.8 1119.4 612.1 1119.8 613.4 C1120.3 614.6 1120.8 615.9 1121.3 617.1 C1121.8 618.3 1122.4 619.5 1122.9 620.8 C1123.4 622.0 1124.0 623.2 1124.5 624.4 C1125.0 625.7 1125.6 626.9 1126.1 628.1 C1126.6 629.3 1126.9 630.6 1127.4 631.9 C1127.8 633.1 1128.2 634.4 1128.8 635.6 C1129.3 636.8 1130.0 638.0 1130.7 639.1 C1131.5 640.1 1132.4 641.3 1133.5 641.9 C1134.5 642.6 1135.9 643.0 1137.0 642.8 C1138.2 642.6 1139.3 641.6 1140.3 640.7 C1141.3 639.9 1142.1 638.8 1142.9 637.7 C1143.6 636.6 1144.2 635.4 1144.8 634.2 C1145.3 633.0 1145.7 631.7 1146.2 630.4 C1146.7 629.2 1147.1 627.9 1147.6 626.7 C1148.0 625.4 1148.5 624.2 1148.9 622.9 C1149.3 621.7 1149.8 620.4 1150.2 619.1 C1150.6 617.9 1151.1 616.6 1151.5 615.3 C1151.9 614.1 1152.3 612.8 1152.7 611.5 C1153.1 610.3 1153.5 609.0 1153.9 607.7 C1154.2 606.4 1154.6 605.1 1154.9 603.8 C1155.2 602.6 1155.6 601.3 1155.9 600.0 C1156.2 598.7 1156.6 597.4 1156.9 596.1 C1157.2 594.8 1157.6 593.5 1158.0 592.2 C1158.3 590.9 1158.7 589.7 1159.0 588.4 C1159.4 587.1 1159.8 585.8 1160.2 584.5 C1160.6 583.3 1160.9 582.0 1161.3 580.7 C1161.7 579.4 1162.1 578.2 1162.6 576.9 C1163.0 575.6 1163.4 574.4 1163.8 573.1 C1164.3 571.9 1164.7 570.6 1165.2 569.4 C1165.6 568.1 1166.1 566.9 1166.6 565.6 C1167.1 564.4 1167.5 563.1 1168.1 561.9 C1168.6 560.7 1169.2 559.5 1169.8 558.3 C1170.4 557.1 1171.1 556.0 1171.8 554.9 C1172.6 553.7 1173.3 552.6 1174.2 551.7 C1175.2 550.8 1176.4 550.2 1177.4 549.4 C1178.5 548.6 1179.6 547.9 1180.6 547.0 C1181.6 546.2 1182.5 545.2 1183.6 544.4 C1184.6 543.5 1185.6 542.7 1186.7 541.9 C1187.8 541.2 1189.0 540.4 1190.2 539.9 C1191.4 539.4 1192.7 539.0 1193.9 538.7 C1195.2 538.4 1196.6 538.2 1197.9 537.9 C1199.2 537.6 1200.5 537.3 1201.8 537.0 C1203.1 536.7 1204.4 536.4 1205.7 536.2 C1207.0 536.0 1208.3 535.8 1209.6 535.6 C1211.0 535.4 1212.3 535.4 1213.6 535.2 C1214.9 535.0 1216.3 534.8 1217.6 534.6 C1218.9 534.4 1220.2 534.2 1221.5 534.0 C1222.8 533.8 1224.2 533.6 1225.5 533.4 C1226.8 533.2 1228.1 533.1 1229.4 532.9 C1230.8 532.7 1232.1 532.6 1233.4 532.4 C1234.7 532.2 1236.1 532.0 1237.4 531.8 C1238.7 531.6 1240.0 531.3 1241.3 531.1 C1242.6 530.8 1243.9 530.5 1245.2 530.2 C1246.5 530.0 1247.8 529.8 1249.2 529.6 C1250.5 529.4 1251.8 529.2 1253.1 528.9 C1254.4 528.6 1255.7 528.2 1256.9 527.8 C1258.2 527.4 1259.7 526.9 1260.8 526.6 C1261.8 526.3 1262.6 526.0 1263.0 525.9" fill="none" stroke="#303030" stroke-width="2.5" stroke-dasharray="4.5 4" stroke-linejoin="round"/><path d="M961.4 566.3 C962.0 566.1 964.0 565.5 965.2 565.1 C966.5 564.7 967.8 564.3 969.0 563.9 C970.3 563.5 971.6 563.1 972.9 562.8 C974.2 562.4 975.5 562.1 976.8 561.9 C978.1 561.6 979.4 561.3 980.7 561.1 C982.0 560.9 983.3 560.8 984.7 560.6 C986.0 560.5 987.3 560.4 988.7 560.3 C990.0 560.2 991.3 560.1 992.7 560.1 C994.0 560.0 995.3 559.9 996.6 559.9 C998.0 559.8 999.3 559.8 1000.6 559.7 C1002.0 559.7 1003.3 559.6 1004.6 559.6 C1006.0 559.5 1007.3 559.5 1008.6 559.5 C1010.0 559.4 1011.3 559.4 1012.6 559.3 C1014.0 559.3 1015.3 559.2 1016.6 559.2 C1018.0 559.1 1019.3 559.1 1020.6 559.0 C1022.0 559.0 1023.3 558.9 1024.6 558.9 C1026.0 558.8 1027.3 558.7 1028.6 558.7 C1030.0 558.6 1031.3 558.6 1032.6 558.5 C1034.0 558.5 1035.3 558.4 1036.6 558.4 C1038.0 558.3 1039.3 558.3 1040.6 558.2 C1042.0 558.2 1043.3 558.1 1044.6 558.1 C1045.9 558.0 1047.3 558.0 1048.6 557.9 C1049.9 557.9 1051.3 557.8 1052.6 557.7 C1053.9 557.7 1055.3 557.6 1056.6 557.5 C1057.9 557.4 1059.3 557.3 1060.6 557.2 C1061.9 557.1 1063.2 557.0 1064.6 556.8 C1065.9 556.7 1067.2 556.6 1068.5 556.4 C1069.9 556.3 1071.2 556.1 1072.5 556.0 C1073.9 555.8 1075.2 555.7 1076.5 555.6 C1077.8 555.5 1079.2 555.3 1080.5 555.2 C1081.8 555.1 1083.1 554.9 1084.5 554.8 C1085.8 554.7 1087.1 554.5 1088.4 554.4 C1089.8 554.3 1091.1 554.1 1092.4 554.0 C1093.8 553.8 1095.1 553.7 1096.4 553.5 C1097.7 553.3 1099.0 553.1 1100.3 552.8 C1101.6 552.5 1102.9 552.1 1104.2 551.7 C1105.4 551.2 1106.6 550.7 1107.8 550.1 C1109.0 549.5 1110.2 548.8 1111.4 548.2 C1112.5 547.6 1113.7 547.0 1114.9 546.3 C1116.0 545.6 1117.1 544.9 1118.0 544.0 C1119.0 543.1 1119.5 541.8 1120.4 540.8 C1121.3 539.9 1122.5 539.2 1123.4 538.3 C1124.3 537.4 1125.2 536.3 1125.9 535.2 C1126.7 534.2 1127.3 533.0 1128.0 531.8 C1128.7 530.7 1129.3 529.5 1130.0 528.3 C1130.6 527.2 1131.2 526.0 1131.9 524.8 C1132.5 523.6 1133.1 522.4 1133.7 521.3 C1134.3 520.1 1134.9 518.9 1135.5 517.7 C1136.1 516.5 1136.7 515.3 1137.3 514.1 C1137.9 512.9 1138.5 511.7 1139.1 510.5 C1139.7 509.3 1140.3 508.2 1140.9 507.0 C1141.6 505.8 1142.2 504.6 1142.8 503.4 C1143.4 502.3 1144.1 501.1 1144.8 500.0 C1145.5 498.8 1146.2 497.7 1147.0 496.6 C1147.7 495.5 1148.6 494.5 1149.5 493.5 C1150.4 492.5 1151.3 491.6 1152.4 490.8 C1153.4 490.0 1154.6 489.3 1155.8 488.8 C1157.0 488.4 1158.4 488.2 1159.7 488.1 C1161.0 488.1 1162.4 488.2 1163.7 488.5 C1164.9 488.7 1166.2 489.2 1167.4 489.8 C1168.6 490.4 1169.7 491.1 1170.8 491.9 C1171.9 492.6 1173.0 493.4 1174.0 494.2 C1175.1 495.0 1176.1 495.9 1177.2 496.7 C1178.2 497.5 1179.2 498.4 1180.3 499.2 C1181.3 500.1 1182.3 500.9 1183.3 501.8 C1184.3 502.7 1185.3 503.6 1186.4 504.4 C1187.4 505.3 1188.4 506.1 1189.5 506.9 C1190.5 507.8 1191.6 508.6 1192.6 509.4 C1193.7 510.2 1194.8 510.9 1195.9 511.7 C1197.0 512.4 1198.1 513.2 1199.3 513.8 C1200.4 514.5 1201.6 515.1 1202.8 515.7 C1204.0 516.3 1205.2 516.9 1206.4 517.5 C1207.6 518.0 1208.8 518.5 1210.1 519.0 C1211.3 519.5 1212.5 520.0 1213.8 520.5 C1215.0 521.0 1216.3 521.4 1217.5 521.9 C1218.8 522.3 1220.1 522.8 1221.3 523.2 C1222.6 523.6 1223.9 524.0 1225.2 524.3 C1226.4 524.7 1227.7 525.1 1229.0 525.4 C1230.3 525.8 1231.6 526.1 1232.9 526.4 C1234.2 526.8 1235.5 527.1 1236.8 527.4 C1238.1 527.7 1239.4 528.0 1240.7 528.3 C1242.0 528.5 1243.3 528.8 1244.6 529.1 C1245.9 529.3 1247.2 529.6 1248.5 529.8 C1249.8 530.1 1251.1 530.3 1252.4 530.5 C1253.8 530.7 1255.1 530.9 1256.4 531.2 C1257.7 531.4 1259.2 531.6 1260.4 531.8 C1261.5 531.9 1262.7 532.1 1263.1 532.2" fill="none" stroke="#303030" stroke-width="2.1" stroke-linejoin="round"/><path d="M961.4 566.3 C962.1 566.2 964.0 565.8 965.4 565.6 C966.7 565.4 968.0 565.1 969.3 564.9 C970.6 564.7 971.9 564.5 973.2 564.3 C974.6 564.2 975.9 564.0 977.2 563.9 C978.6 563.8 979.9 563.7 981.2 563.6 C982.5 563.6 983.9 563.6 985.2 563.6 C986.5 563.6 987.9 563.6 989.2 563.6 C990.5 563.6 991.9 563.6 993.2 563.6 C994.5 563.7 995.9 563.7 997.2 563.8 C998.5 563.8 999.9 563.9 1001.2 563.9 C1002.5 564.0 1003.9 564.0 1005.2 564.1 C1006.5 564.2 1007.9 564.2 1009.2 564.3 C1010.5 564.4 1011.9 564.5 1013.2 564.6 C1014.5 564.7 1015.8 564.8 1017.2 564.9 C1018.5 565.0 1019.8 565.1 1021.2 565.2 C1022.5 565.3 1023.8 565.5 1025.1 565.6 C1026.5 565.7 1027.8 565.9 1029.1 566.0 C1030.4 566.2 1031.8 566.3 1033.1 566.5 C1034.4 566.7 1035.7 566.8 1037.1 567.0 C1038.4 567.2 1039.7 567.3 1041.0 567.5 C1042.3 567.7 1043.7 567.9 1045.0 568.1 C1046.3 568.3 1047.6 568.5 1048.9 568.7 C1050.3 568.9 1051.6 569.1 1052.9 569.3 C1054.2 569.6 1055.5 569.8 1056.8 570.0 C1058.1 570.3 1059.4 570.6 1060.7 570.8 C1062.0 571.1 1063.3 571.4 1064.6 571.8 C1065.9 572.2 1067.2 572.6 1068.4 573.0 C1069.7 573.4 1071.0 573.9 1072.2 574.4 C1073.4 574.9 1074.7 575.4 1075.9 576.0 C1077.1 576.5 1078.3 577.1 1079.4 577.8 C1080.6 578.4 1081.8 579.1 1082.9 579.8 C1084.0 580.5 1085.1 581.3 1086.2 582.1 C1087.2 582.9 1088.3 583.7 1089.3 584.6 C1090.3 585.4 1091.3 586.3 1092.2 587.3 C1093.2 588.2 1094.1 589.2 1095.0 590.2 C1095.9 591.1 1096.8 592.1 1097.7 593.1 C1098.6 594.1 1099.4 595.1 1100.3 596.2 C1101.1 597.2 1102.0 598.2 1102.8 599.3 C1103.6 600.4 1104.4 601.4 1105.1 602.5 C1105.9 603.6 1106.6 604.7 1107.4 605.8 C1108.1 606.9 1108.9 608.1 1109.6 609.2 C1110.3 610.3 1111.0 611.4 1111.7 612.5 C1112.4 613.7 1113.1 614.8 1113.8 616.0 C1114.5 617.1 1115.2 618.2 1115.9 619.4 C1116.6 620.5 1117.3 621.6 1118.1 622.7 C1118.8 623.8 1119.6 624.9 1120.4 626.0 C1121.2 627.0 1122.1 628.1 1123.0 629.1 C1123.8 630.1 1124.7 631.1 1125.8 631.9 C1126.8 632.7 1127.9 633.7 1129.0 634.1 C1130.2 634.5 1131.6 634.6 1132.8 634.3 C1134.0 634.0 1135.1 633.1 1136.1 632.3 C1137.1 631.5 1138.0 630.4 1138.8 629.3 C1139.6 628.3 1140.3 627.1 1140.9 626.0 C1141.6 624.8 1142.3 623.6 1142.9 622.5 C1143.5 621.3 1144.1 620.1 1144.7 618.9 C1145.3 617.7 1145.8 616.5 1146.4 615.3 C1146.9 614.1 1147.5 612.8 1148.0 611.6 C1148.5 610.4 1149.0 609.2 1149.5 607.9 C1150.0 606.7 1150.4 605.4 1150.8 604.1 C1151.2 602.9 1151.6 601.6 1152.0 600.3 C1152.4 599.0 1152.8 597.8 1153.2 596.5 C1153.7 595.2 1154.1 594.0 1154.5 592.7 C1154.9 591.4 1155.3 590.2 1155.7 588.9 C1156.1 587.6 1156.6 586.4 1157.0 585.1 C1157.5 583.9 1157.9 582.6 1158.4 581.4 C1158.9 580.1 1159.4 578.9 1159.9 577.7 C1160.4 576.4 1161.0 575.2 1161.5 574.0 C1162.1 572.8 1162.7 571.6 1163.3 570.4 C1163.9 569.2 1164.5 568.0 1165.1 566.9 C1165.8 565.7 1166.4 564.5 1167.1 563.4 C1167.8 562.2 1168.5 561.1 1169.2 560.0 C1169.9 558.9 1170.7 557.8 1171.5 556.7 C1172.3 555.6 1173.1 554.6 1173.9 553.5 C1174.8 552.5 1175.6 551.5 1176.5 550.5 C1177.4 549.5 1178.2 548.4 1179.2 547.5 C1180.1 546.6 1181.1 545.7 1182.2 544.9 C1183.3 544.2 1184.5 543.6 1185.8 543.1 C1187.0 542.6 1188.3 542.3 1189.6 542.0 C1190.9 541.7 1192.2 541.5 1193.5 541.3 C1194.9 541.1 1196.2 540.9 1197.5 540.7 C1198.8 540.6 1200.1 540.4 1201.5 540.2 C1202.8 540.0 1204.1 539.8 1205.4 539.6 C1206.7 539.4 1208.1 539.3 1209.4 539.1 C1210.7 538.9 1212.0 538.7 1213.4 538.6 C1214.7 538.4 1216.0 538.2 1217.3 538.0 C1218.6 537.8 1220.0 537.6 1221.3 537.4 C1222.6 537.2 1223.9 537.0 1225.2 536.8 C1226.5 536.6 1227.8 536.4 1229.2 536.1 C1230.5 535.9 1231.8 535.7 1233.1 535.5 C1234.4 535.3 1235.8 535.1 1237.1 535.0 C1238.4 534.8 1239.7 534.6 1241.1 534.5 C1242.4 534.3 1243.7 534.2 1245.0 534.1 C1246.4 533.9 1247.7 533.8 1249.0 533.6 C1250.3 533.5 1251.7 533.4 1253.0 533.2 C1254.3 533.1 1255.6 533.0 1257.0 532.8 C1258.3 532.7 1259.9 532.5 1260.9 532.4 C1262.0 532.3 1262.7 532.2 1263.1 532.2" fill="none" stroke="#303030" stroke-width="2.1" stroke-linejoin="round"/><path d="M961.4 669.2 C962.1 669.1 964.0 668.6 965.3 668.4 C966.6 668.1 967.9 667.8 969.2 667.5 C970.5 667.3 971.8 667.0 973.2 666.8 C974.5 666.5 975.8 666.3 977.1 666.1 C978.4 665.9 979.7 665.7 981.1 665.5 C982.4 665.4 983.7 665.3 985.0 665.1 C986.4 665.0 987.7 664.9 989.0 664.8 C990.4 664.7 991.7 664.6 993.0 664.5 C994.4 664.4 995.7 664.3 997.0 664.2 C998.3 664.2 999.7 664.1 1001.0 664.0 C1002.3 663.9 1003.7 663.8 1005.0 663.8 C1006.3 663.7 1007.7 663.6 1009.0 663.6 C1010.3 663.5 1011.7 663.4 1013.0 663.3 C1014.3 663.3 1015.6 663.2 1017.0 663.1 C1018.3 663.0 1019.6 662.9 1021.0 662.9 C1022.3 662.8 1023.6 662.7 1025.0 662.7 C1026.3 662.6 1027.6 662.5 1029.0 662.4 C1030.3 662.4 1031.6 662.3 1033.0 662.2 C1034.3 662.2 1035.6 662.1 1037.0 662.1 C1038.3 662.0 1039.6 661.9 1040.9 661.9 C1042.3 661.8 1043.6 661.7 1044.9 661.6 C1046.3 661.6 1047.6 661.5 1048.9 661.4 C1050.3 661.3 1051.6 661.2 1052.9 661.2 C1054.3 661.1 1055.6 661.0 1056.9 660.9 C1058.2 660.7 1059.6 660.6 1060.9 660.5 C1062.2 660.4 1063.6 660.3 1064.9 660.2 C1066.2 660.1 1067.5 660.0 1068.9 659.8 C1070.2 659.7 1071.5 659.6 1072.8 659.4 C1074.2 659.3 1075.5 659.1 1076.8 658.9 C1078.1 658.7 1079.5 658.6 1080.8 658.3 C1082.1 658.1 1083.4 657.9 1084.7 657.6 C1086.0 657.3 1087.3 657.0 1088.6 656.7 C1089.9 656.4 1091.2 656.0 1092.5 655.6 C1093.7 655.3 1095.0 654.9 1096.3 654.4 C1097.5 654.0 1098.8 653.6 1100.0 653.1 C1101.3 652.6 1102.5 652.1 1103.6 651.4 C1104.8 650.7 1105.8 649.9 1106.9 649.0 C1107.9 648.2 1108.9 647.3 1109.8 646.4 C1110.8 645.4 1111.7 644.5 1112.6 643.5 C1113.5 642.5 1114.3 641.5 1115.1 640.4 C1115.9 639.3 1116.6 638.2 1117.4 637.1 C1118.1 636.0 1118.8 634.8 1119.5 633.7 C1120.2 632.5 1120.9 631.4 1121.6 630.3 C1122.3 629.1 1123.0 628.0 1123.6 626.8 C1124.2 625.6 1124.8 624.4 1125.4 623.2 C1125.9 622.0 1126.5 620.8 1127.0 619.6 C1127.5 618.4 1128.1 617.1 1128.6 615.9 C1129.1 614.7 1129.6 613.5 1130.1 612.2 C1130.6 611.0 1131.1 609.7 1131.6 608.5 C1132.1 607.3 1132.6 606.0 1133.1 604.8 C1133.6 603.5 1134.0 602.3 1134.5 601.0 C1135.0 599.8 1135.4 598.5 1135.9 597.3 C1136.3 596.0 1136.7 594.8 1137.2 593.5 C1137.6 592.2 1138.0 591.0 1138.5 589.7 C1138.9 588.5 1139.3 587.2 1139.7 585.9 C1140.2 584.7 1140.6 583.4 1141.0 582.1 C1141.4 580.8 1141.7 579.6 1142.1 578.3 C1142.5 577.0 1142.9 575.7 1143.3 574.5 C1143.7 573.2 1144.0 571.9 1144.4 570.6 C1144.8 569.4 1145.2 568.1 1145.7 566.8 C1146.2 565.6 1146.7 564.4 1147.3 563.2 C1147.8 562.0 1148.4 560.8 1149.0 559.6 C1149.6 558.4 1150.2 557.2 1150.9 556.0 C1151.5 554.9 1152.2 553.7 1152.9 552.6 C1153.6 551.4 1154.3 550.3 1155.1 549.2 C1155.9 548.2 1156.7 547.1 1157.6 546.1 C1158.5 545.2 1159.5 544.2 1160.6 543.5 C1161.6 542.7 1162.8 542.1 1164.1 541.6 C1165.3 541.0 1166.6 540.7 1167.9 540.4 C1169.2 540.1 1170.5 539.9 1171.8 539.7 C1173.1 539.5 1174.4 539.3 1175.8 539.2 C1177.1 539.0 1178.4 538.9 1179.7 538.8 C1181.1 538.7 1182.4 538.6 1183.7 538.5 C1185.1 538.4 1186.4 538.3 1187.7 538.3 C1189.1 538.2 1190.4 538.2 1191.7 538.2 C1193.1 538.2 1194.4 538.2 1195.7 538.2 C1197.1 538.2 1198.4 538.3 1199.7 538.3 C1201.1 538.4 1202.4 538.5 1203.7 538.5 C1205.1 538.6 1206.4 538.7 1207.7 538.8 C1209.0 538.8 1210.4 538.9 1211.7 539.0 C1213.0 539.0 1214.4 539.1 1215.7 539.2 C1217.0 539.2 1218.4 539.3 1219.7 539.3 C1221.0 539.4 1222.4 539.4 1223.7 539.4 C1225.0 539.5 1226.4 539.5 1227.7 539.5 C1229.0 539.6 1230.4 539.6 1231.7 539.6 C1233.0 539.7 1234.4 539.7 1235.7 539.7 C1237.0 539.8 1238.4 539.8 1239.7 539.8 C1241.0 539.9 1242.4 539.9 1243.7 539.9 C1245.0 540.0 1246.4 540.0 1247.7 540.0 C1249.0 540.1 1250.4 540.1 1251.7 540.1 C1253.0 540.2 1254.4 540.2 1255.7 540.2 C1257.0 540.3 1258.5 540.3 1259.7 540.3 C1260.9 540.3 1262.5 540.4 1263.1 540.4" fill="none" stroke="#dc3844" stroke-width="2.1" stroke-linejoin="round"/><path d="M961.4 669.2 C962.1 669.1 964.1 668.9 965.4 668.8 C966.7 668.6 968.0 668.5 969.4 668.3 C970.7 668.2 972.0 668.1 973.3 667.9 C974.7 667.8 976.0 667.7 977.3 667.6 C978.7 667.6 980.0 667.5 981.3 667.4 C982.7 667.4 984.0 667.4 985.3 667.3 C986.7 667.3 988.0 667.3 989.3 667.2 C990.7 667.2 992.0 667.2 993.3 667.2 C994.7 667.1 996.0 667.1 997.3 667.1 C998.7 667.1 1000.0 667.1 1001.3 667.1 C1002.7 667.1 1004.0 667.1 1005.3 667.1 C1006.7 667.1 1008.0 667.1 1009.3 667.2 C1010.7 667.2 1012.0 667.2 1013.3 667.2 C1014.7 667.3 1016.0 667.3 1017.3 667.4 C1018.7 667.4 1020.0 667.5 1021.3 667.5 C1022.7 667.6 1024.0 667.6 1025.3 667.7 C1026.6 667.8 1028.0 667.8 1029.3 667.9 C1030.6 668.0 1032.0 668.1 1033.3 668.2 C1034.6 668.2 1036.0 668.3 1037.3 668.4 C1038.6 668.5 1040.0 668.6 1041.3 668.7 C1042.6 668.9 1043.9 669.0 1045.3 669.1 C1046.6 669.2 1047.9 669.4 1049.2 669.5 C1050.6 669.7 1051.9 669.8 1053.2 670.0 C1054.5 670.1 1055.9 670.3 1057.2 670.5 C1058.5 670.7 1059.8 670.9 1061.1 671.1 C1062.5 671.3 1063.8 671.5 1065.1 671.8 C1066.4 672.0 1067.7 672.3 1069.0 672.5 C1070.3 672.8 1071.6 673.1 1072.9 673.4 C1074.2 673.7 1075.5 674.0 1076.8 674.4 C1078.1 674.7 1079.4 675.1 1080.6 675.5 C1081.9 675.9 1083.2 676.3 1084.4 676.8 C1085.7 677.3 1086.9 677.8 1088.1 678.3 C1089.3 678.9 1090.5 679.5 1091.7 680.1 C1092.9 680.7 1094.0 681.4 1095.2 682.1 C1096.3 682.8 1097.4 683.5 1098.6 684.2 C1099.7 684.9 1100.8 685.7 1101.9 686.4 C1102.9 687.2 1104.0 688.0 1105.0 688.9 C1106.1 689.7 1107.0 690.6 1108.0 691.5 C1109.0 692.4 1110.0 693.4 1110.9 694.3 C1111.9 695.2 1112.9 696.1 1113.9 697.0 C1114.8 698.0 1115.7 698.9 1116.7 699.9 C1117.6 700.8 1118.5 701.8 1119.5 702.7 C1120.5 703.6 1121.5 704.6 1122.6 705.1 C1123.8 705.7 1125.1 706.2 1126.3 706.0 C1127.5 705.9 1128.8 705.1 1129.7 704.3 C1130.7 703.5 1131.5 702.3 1132.2 701.2 C1132.9 700.1 1133.5 698.9 1134.0 697.7 C1134.6 696.5 1135.1 695.2 1135.6 694.0 C1136.0 692.7 1136.5 691.5 1136.9 690.2 C1137.3 689.0 1137.7 687.7 1138.0 686.4 C1138.4 685.1 1138.7 683.8 1139.0 682.5 C1139.3 681.2 1139.6 679.9 1139.9 678.6 C1140.2 677.3 1140.5 676.0 1140.8 674.7 C1141.1 673.4 1141.5 672.1 1141.8 670.8 C1142.1 669.5 1142.4 668.2 1142.7 667.0 C1143.1 665.7 1143.4 664.4 1143.7 663.1 C1144.0 661.8 1144.3 660.5 1144.6 659.2 C1144.9 657.9 1145.2 656.6 1145.5 655.3 C1145.8 654.0 1146.1 652.7 1146.4 651.4 C1146.7 650.1 1147.0 648.8 1147.3 647.5 C1147.6 646.2 1147.8 644.9 1148.1 643.6 C1148.4 642.3 1148.7 641.0 1149.0 639.7 C1149.3 638.4 1149.6 637.1 1149.9 635.8 C1150.1 634.4 1150.4 633.1 1150.7 631.8 C1151.0 630.5 1151.2 629.2 1151.5 627.9 C1151.8 626.6 1152.1 625.3 1152.4 624.0 C1152.7 622.7 1153.0 621.4 1153.3 620.1 C1153.6 618.8 1154.0 617.5 1154.3 616.3 C1154.7 615.0 1155.1 613.7 1155.5 612.4 C1155.9 611.2 1156.3 609.9 1156.7 608.6 C1157.1 607.4 1157.6 606.1 1158.0 604.8 C1158.4 603.6 1158.8 602.3 1159.2 601.0 C1159.7 599.8 1160.1 598.5 1160.5 597.2 C1160.9 596.0 1161.3 594.7 1161.7 593.4 C1162.1 592.2 1162.5 590.9 1162.9 589.6 C1163.3 588.3 1163.8 587.1 1164.2 585.8 C1164.6 584.6 1165.1 583.3 1165.6 582.1 C1166.1 580.8 1166.5 579.6 1167.1 578.4 C1167.6 577.1 1168.1 575.9 1168.6 574.7 C1169.2 573.5 1169.7 572.3 1170.3 571.1 C1170.9 569.9 1171.5 568.7 1172.2 567.5 C1172.8 566.3 1173.4 565.2 1174.1 564.0 C1174.8 562.9 1175.5 561.7 1176.2 560.6 C1177.0 559.5 1177.7 558.4 1178.6 557.4 C1179.4 556.3 1180.3 555.3 1181.2 554.4 C1182.1 553.4 1183.0 552.4 1184.0 551.5 C1184.9 550.6 1185.9 549.6 1186.9 548.8 C1187.9 547.9 1188.9 547.0 1190.1 546.3 C1191.2 545.6 1192.4 545.0 1193.6 544.5 C1194.8 544.0 1196.1 543.7 1197.4 543.4 C1198.7 543.0 1200.0 542.7 1201.3 542.5 C1202.6 542.2 1204.0 542.1 1205.3 542.0 C1206.6 541.9 1207.9 541.9 1209.3 541.8 C1210.6 541.8 1211.9 541.8 1213.3 541.7 C1214.6 541.7 1215.9 541.7 1217.3 541.6 C1218.6 541.6 1219.9 541.6 1221.3 541.6 C1222.6 541.6 1223.9 541.5 1225.3 541.5 C1226.6 541.5 1227.9 541.5 1229.3 541.5 C1230.6 541.5 1231.9 541.5 1233.3 541.4 C1234.6 541.4 1235.9 541.4 1237.3 541.4 C1238.6 541.4 1239.9 541.4 1241.3 541.4 C1242.6 541.4 1243.9 541.4 1245.3 541.3 C1246.6 541.3 1247.9 541.3 1249.3 541.3 C1250.6 541.3 1251.9 541.3 1253.3 541.3 C1254.6 541.3 1255.9 541.3 1257.3 541.3 C1258.6 541.2 1260.3 541.2 1261.3 541.2 C1262.2 541.2 1262.8 541.2 1263.1 541.2" fill="none" stroke="#dc3844" stroke-width="2.1" stroke-linejoin="round"/><path d="M961.4 729.9 C962.1 729.7 964.0 729.1 965.2 728.7 C966.5 728.3 967.8 727.9 969.1 727.5 C970.3 727.2 971.6 726.8 972.9 726.5 C974.2 726.1 975.5 725.8 976.8 725.5 C978.1 725.2 979.4 725.0 980.7 724.8 C982.0 724.5 983.4 724.4 984.7 724.2 C986.0 724.0 987.3 723.9 988.7 723.8 C990.0 723.6 991.3 723.5 992.6 723.4 C994.0 723.3 995.3 723.2 996.6 723.1 C998.0 723.0 999.3 722.9 1000.6 722.8 C1001.9 722.7 1003.3 722.7 1004.6 722.6 C1005.9 722.5 1007.3 722.4 1008.6 722.3 C1009.9 722.2 1011.3 722.2 1012.6 722.1 C1013.9 722.0 1015.3 721.9 1016.6 721.8 C1017.9 721.8 1019.2 721.7 1020.6 721.6 C1021.9 721.5 1023.2 721.4 1024.6 721.3 C1025.9 721.3 1027.2 721.2 1028.6 721.1 C1029.9 721.1 1031.2 721.0 1032.6 720.9 C1033.9 720.9 1035.2 720.8 1036.6 720.7 C1037.9 720.7 1039.2 720.6 1040.6 720.5 C1041.9 720.5 1043.2 720.4 1044.5 720.3 C1045.9 720.2 1047.2 720.2 1048.5 720.1 C1049.9 720.0 1051.2 719.9 1052.5 719.8 C1053.9 719.7 1055.2 719.6 1056.5 719.5 C1057.8 719.4 1059.2 719.2 1060.5 719.1 C1061.8 719.0 1063.2 718.8 1064.5 718.7 C1065.8 718.6 1067.1 718.4 1068.5 718.3 C1069.8 718.1 1071.1 717.9 1072.4 717.8 C1073.7 717.6 1075.1 717.4 1076.4 717.2 C1077.7 717.0 1079.0 716.8 1080.3 716.6 C1081.7 716.4 1083.0 716.2 1084.3 715.9 C1085.6 715.7 1086.9 715.5 1088.2 715.2 C1089.5 715.0 1090.8 714.7 1092.1 714.4 C1093.4 714.1 1094.7 713.8 1096.0 713.4 C1097.3 713.0 1098.5 712.6 1099.8 712.0 C1101.0 711.5 1102.2 710.9 1103.3 710.2 C1104.4 709.5 1105.5 708.7 1106.5 707.8 C1107.5 707.0 1108.5 706.1 1109.4 705.1 C1110.4 704.2 1111.3 703.2 1112.1 702.2 C1113.0 701.1 1113.7 700.0 1114.4 698.9 C1115.1 697.7 1115.6 696.5 1116.2 695.3 C1116.8 694.1 1117.3 692.9 1117.9 691.7 C1118.4 690.5 1118.9 689.2 1119.4 688.0 C1119.9 686.8 1120.4 685.5 1120.9 684.3 C1121.4 683.0 1121.9 681.8 1122.4 680.6 C1122.9 679.3 1123.4 678.1 1123.9 676.9 C1124.4 675.6 1124.9 674.4 1125.4 673.1 C1125.9 671.9 1126.3 670.7 1126.8 669.4 C1127.3 668.2 1127.7 666.9 1128.1 665.6 C1128.6 664.4 1129.0 663.1 1129.4 661.8 C1129.8 660.6 1130.2 659.3 1130.6 658.0 C1131.0 656.8 1131.4 655.5 1131.8 654.2 C1132.2 652.9 1132.6 651.7 1132.9 650.4 C1133.3 649.1 1133.7 647.8 1134.1 646.5 C1134.4 645.3 1134.8 644.0 1135.2 642.7 C1135.5 641.4 1135.9 640.1 1136.2 638.8 C1136.6 637.5 1136.9 636.3 1137.2 635.0 C1137.6 633.7 1137.9 632.4 1138.2 631.1 C1138.5 629.8 1138.8 628.5 1139.1 627.2 C1139.4 625.9 1139.8 624.6 1140.1 623.3 C1140.5 622.0 1140.9 620.8 1141.3 619.5 C1141.7 618.2 1142.1 616.9 1142.4 615.6 C1142.7 614.4 1143.0 613.1 1143.2 611.7 C1143.5 610.4 1143.7 609.1 1144.0 607.8 C1144.2 606.5 1144.4 605.2 1144.7 603.9 C1145.0 602.6 1145.3 601.3 1145.6 600.0 C1146.0 598.7 1146.4 597.4 1146.8 596.2 C1147.2 594.9 1147.6 593.6 1148.0 592.4 C1148.4 591.1 1148.9 589.8 1149.3 588.6 C1149.8 587.3 1150.2 586.1 1150.7 584.8 C1151.1 583.5 1151.6 582.3 1152.0 581.0 C1152.5 579.8 1152.9 578.5 1153.4 577.3 C1153.8 576.0 1154.3 574.8 1154.8 573.5 C1155.2 572.3 1155.7 571.0 1156.2 569.8 C1156.7 568.6 1157.3 567.3 1157.8 566.1 C1158.3 564.9 1158.9 563.7 1159.5 562.5 C1160.1 561.3 1160.7 560.1 1161.3 559.0 C1162.0 557.8 1162.6 556.6 1163.4 555.5 C1164.1 554.4 1164.8 553.3 1165.7 552.3 C1166.5 551.2 1167.4 550.2 1168.4 549.4 C1169.4 548.5 1170.6 547.8 1171.7 547.1 C1172.8 546.4 1174.0 545.8 1175.2 545.2 C1176.4 544.7 1177.7 544.2 1179.0 543.8 C1180.2 543.4 1181.5 543.0 1182.7 542.7 C1183.9 542.3 1184.9 541.9 1186.1 541.7 C1187.4 541.5 1188.8 541.5 1190.1 541.5 C1191.4 541.4 1192.8 541.4 1194.1 541.4 C1195.4 541.3 1196.8 541.3 1198.1 541.3 C1199.4 541.2 1200.8 541.2 1202.1 541.2 C1203.4 541.2 1204.8 541.2 1206.1 541.2 C1207.4 541.1 1208.8 541.1 1210.1 541.1 C1211.4 541.1 1212.8 541.1 1214.1 541.1 C1215.4 541.0 1216.8 541.0 1218.1 541.0 C1219.4 541.0 1220.8 541.0 1222.1 541.0 C1223.4 541.0 1224.8 540.9 1226.1 540.9 C1227.4 540.9 1228.8 540.9 1230.1 540.9 C1231.4 540.9 1232.8 540.9 1234.1 540.9 C1235.4 540.8 1236.8 540.8 1238.1 540.8 C1239.4 540.8 1240.8 540.8 1242.1 540.8 C1243.4 540.8 1244.8 540.8 1246.1 540.8 C1247.4 540.7 1248.8 540.7 1250.1 540.7 C1251.4 540.7 1252.8 540.7 1254.1 540.7 C1255.4 540.7 1256.8 540.7 1258.1 540.7 C1259.4 540.6 1261.3 540.6 1262.1 540.6 C1262.9 540.6 1262.9 540.6 1263.1 540.6" fill="none" stroke="#2424c8" stroke-width="2.1" stroke-linejoin="round"/><path d="M961.4 729.9 C962.1 729.8 964.0 729.5 965.4 729.2 C966.7 729.0 968.0 728.8 969.3 728.6 C970.6 728.4 971.9 728.2 973.3 728.0 C974.6 727.8 975.9 727.7 977.2 727.6 C978.6 727.4 979.9 727.3 981.2 727.3 C982.6 727.2 983.9 727.1 985.2 727.1 C986.6 727.1 987.9 727.1 989.2 727.0 C990.6 727.0 991.9 727.0 993.2 727.0 C994.6 727.0 995.9 727.0 997.2 727.1 C998.6 727.1 999.9 727.1 1001.2 727.1 C1002.6 727.1 1003.9 727.2 1005.2 727.2 C1006.6 727.2 1007.9 727.3 1009.2 727.3 C1010.5 727.3 1011.9 727.4 1013.2 727.4 C1014.5 727.5 1015.9 727.5 1017.2 727.5 C1018.5 727.6 1019.9 727.6 1021.2 727.7 C1022.5 727.7 1023.9 727.8 1025.2 727.9 C1026.5 727.9 1027.9 728.0 1029.2 728.0 C1030.5 728.1 1031.9 728.1 1033.2 728.2 C1034.5 728.3 1035.9 728.3 1037.2 728.4 C1038.5 728.5 1039.9 728.6 1041.2 728.7 C1042.5 728.8 1043.8 728.8 1045.2 728.9 C1046.5 729.1 1047.8 729.2 1049.2 729.3 C1050.5 729.4 1051.8 729.5 1053.1 729.7 C1054.5 729.8 1055.8 730.0 1057.1 730.2 C1058.4 730.3 1059.8 730.5 1061.1 730.7 C1062.4 730.9 1063.7 731.1 1065.0 731.3 C1066.3 731.5 1067.7 731.8 1069.0 732.0 C1070.3 732.3 1071.6 732.5 1072.9 732.8 C1074.2 733.1 1075.5 733.4 1076.8 733.8 C1078.1 734.1 1079.3 734.5 1080.6 734.9 C1081.9 735.3 1083.1 735.7 1084.4 736.2 C1085.6 736.7 1086.8 737.2 1088.0 737.8 C1089.2 738.4 1090.4 739.0 1091.6 739.7 C1092.8 740.3 1093.9 741.0 1095.0 741.7 C1096.1 742.4 1097.2 743.2 1098.3 744.0 C1099.4 744.7 1100.5 745.5 1101.6 746.3 C1102.6 747.2 1103.6 748.0 1104.6 749.0 C1105.5 749.9 1106.4 750.9 1107.3 751.9 C1108.2 752.8 1109.1 753.9 1110.0 754.8 C1110.9 755.8 1111.8 756.8 1112.7 757.8 C1113.6 758.8 1114.4 759.8 1115.3 760.8 C1116.2 761.8 1117.1 762.8 1118.0 763.8 C1118.9 764.8 1119.8 765.8 1120.8 766.6 C1121.8 767.4 1122.9 768.4 1124.1 768.8 C1125.3 769.1 1126.7 769.2 1127.9 768.9 C1129.0 768.5 1130.1 767.6 1131.0 766.6 C1131.8 765.6 1132.4 764.3 1133.0 763.2 C1133.5 762.0 1134.0 760.7 1134.5 759.5 C1134.9 758.2 1135.4 756.9 1135.8 755.7 C1136.2 754.4 1136.6 753.1 1136.9 751.8 C1137.3 750.6 1137.6 749.3 1137.9 748.0 C1138.3 746.7 1138.6 745.4 1138.9 744.1 C1139.2 742.8 1139.5 741.5 1139.8 740.2 C1140.1 738.9 1140.4 737.6 1140.6 736.3 C1140.9 735.0 1141.2 733.7 1141.5 732.4 C1141.8 731.1 1142.0 729.8 1142.3 728.5 C1142.6 727.2 1142.9 725.9 1143.1 724.5 C1143.4 723.2 1143.7 721.9 1143.9 720.6 C1144.2 719.3 1144.5 718.0 1144.7 716.7 C1145.0 715.4 1145.2 714.1 1145.5 712.8 C1145.7 711.5 1146.0 710.2 1146.2 708.9 C1146.5 707.5 1146.7 706.2 1147.0 704.9 C1147.3 703.6 1147.5 702.3 1147.8 701.0 C1148.0 699.7 1148.3 698.4 1148.5 697.1 C1148.8 695.8 1149.0 694.5 1149.3 693.1 C1149.5 691.8 1149.8 690.5 1150.0 689.2 C1150.3 687.9 1150.5 686.6 1150.7 685.3 C1151.0 684.0 1151.2 682.7 1151.4 681.3 C1151.7 680.0 1151.9 678.7 1152.1 677.4 C1152.3 676.1 1152.5 674.8 1152.7 673.4 C1152.9 672.1 1153.1 670.8 1153.3 669.5 C1153.6 668.2 1153.8 666.9 1154.0 665.5 C1154.2 664.2 1154.4 662.9 1154.6 661.6 C1154.9 660.3 1155.1 659.0 1155.3 657.7 C1155.6 656.3 1155.8 655.0 1156.1 653.7 C1156.3 652.4 1156.6 651.1 1156.8 649.8 C1157.1 648.5 1157.3 647.2 1157.6 645.9 C1157.8 644.6 1158.1 643.3 1158.4 641.9 C1158.6 640.6 1158.9 639.3 1159.1 638.0 C1159.4 636.7 1159.6 635.4 1159.9 634.1 C1160.2 632.8 1160.4 631.5 1160.7 630.2 C1160.9 628.9 1161.2 627.6 1161.4 626.2 C1161.7 624.9 1161.9 623.6 1162.2 622.3 C1162.5 621.0 1162.7 619.7 1163.0 618.4 C1163.2 617.1 1163.5 615.8 1163.8 614.5 C1164.0 613.2 1164.3 611.9 1164.6 610.6 C1164.8 609.3 1165.1 607.9 1165.4 606.6 C1165.7 605.3 1165.9 604.0 1166.3 602.7 C1166.6 601.4 1167.0 600.2 1167.3 598.9 C1167.7 597.6 1168.1 596.3 1168.5 595.1 C1168.9 593.8 1169.4 592.5 1169.8 591.3 C1170.2 590.0 1170.7 588.7 1171.1 587.5 C1171.5 586.2 1172.0 585.0 1172.4 583.7 C1172.9 582.5 1173.4 581.2 1173.8 580.0 C1174.3 578.7 1174.8 577.5 1175.3 576.2 C1175.8 575.0 1176.3 573.8 1176.8 572.5 C1177.3 571.3 1177.8 570.1 1178.4 568.9 C1179.0 567.7 1179.6 566.5 1180.2 565.3 C1180.8 564.1 1181.4 562.9 1182.1 561.8 C1182.8 560.7 1183.5 559.5 1184.3 558.4 C1185.1 557.4 1185.9 556.3 1186.8 555.3 C1187.7 554.3 1188.6 553.4 1189.6 552.4 C1190.5 551.5 1191.5 550.6 1192.5 549.7 C1193.5 548.9 1194.6 548.0 1195.7 547.3 C1196.8 546.6 1198.0 546.0 1199.2 545.5 C1200.4 544.9 1201.7 544.6 1203.0 544.2 C1204.3 543.9 1205.6 543.6 1206.9 543.3 C1208.2 543.0 1209.5 542.7 1210.8 542.5 C1212.1 542.3 1213.4 542.2 1214.8 542.1 C1216.1 542.0 1217.4 542.0 1218.8 541.9 C1220.1 541.9 1221.4 541.9 1222.8 541.8 C1224.1 541.8 1225.4 541.8 1226.8 541.8 C1228.1 541.8 1229.4 541.8 1230.8 541.8 C1232.1 541.8 1233.4 541.8 1234.8 541.8 C1236.1 541.8 1237.4 541.8 1238.8 541.8 C1240.1 541.8 1241.4 541.8 1242.8 541.8 C1244.1 541.8 1245.4 541.8 1246.8 541.8 C1248.1 541.8 1249.4 541.8 1250.8 541.8 C1252.1 541.8 1253.4 541.8 1254.8 541.8 C1256.1 541.8 1257.4 541.8 1258.8 541.8 C1260.2 541.8 1262.4 541.8 1263.1 541.8" fill="none" stroke="#2424c8" stroke-width="2.1" stroke-linejoin="round"/></g><path d="M960.99 800.50v-4.50M960.99 449.50v4.50M976.08 800.50v-4.50M976.08 449.50v4.50M991.17 800.50v-4.50M991.17 449.50v4.50M1006.26 800.50v-9.00M1006.26 449.50v9.00M1021.35 800.50v-4.50M1021.35 449.50v4.50M1036.45 800.50v-4.50M1036.45 449.50v4.50M1051.54 800.50v-4.50M1051.54 449.50v4.50M1066.63 800.50v-9.00M1066.63 449.50v9.00M1081.72 800.50v-4.50M1081.72 449.50v4.50M1096.81 800.50v-4.50M1096.81 449.50v4.50M1111.90 800.50v-4.50M1111.90 449.50v4.50M1126.99 800.50v-9.00M1126.99 449.50v9.00M1142.08 800.50v-4.50M1142.08 449.50v4.50M1157.17 800.50v-4.50M1157.17 449.50v4.50M1172.26 800.50v-4.50M1172.26 449.50v4.50M1187.35 800.50v-9.00M1187.35 449.50v9.00M1202.45 800.50v-4.50M1202.45 449.50v4.50M1217.54 800.50v-4.50M1217.54 449.50v4.50M1232.63 800.50v-4.50M1232.63 449.50v4.50M1247.72 800.50v-9.00M1247.72 449.50v9.00M1262.81 800.50v-4.50M1262.81 449.50v4.50M945.90 782.03h4.50M1277.90 782.03h-4.50M945.90 763.55h9.00M1277.90 763.55h-9.00M945.90 745.08h4.50M1277.90 745.08h-4.50M945.90 726.61h9.00M1277.90 726.61h-9.00M945.90 708.13h4.50M1277.90 708.13h-4.50M945.90 689.66h9.00M1277.90 689.66h-9.00M945.90 671.18h4.50M1277.90 671.18h-4.50M945.90 652.71h9.00M1277.90 652.71h-9.00M945.90 634.24h4.50M1277.90 634.24h-4.50M945.90 615.76h9.00M1277.90 615.76h-9.00M945.90 597.29h4.50M1277.90 597.29h-4.50M945.90 578.82h9.00M1277.90 578.82h-9.00M945.90 560.34h4.50M1277.90 560.34h-4.50M945.90 541.87h9.00M1277.90 541.87h-9.00M945.90 523.39h4.50M1277.90 523.39h-4.50M945.90 504.92h9.00M1277.90 504.92h-9.00M945.90 486.45h4.50M1277.90 486.45h-4.50M945.90 467.97h9.00M1277.90 467.97h-9.00" stroke="#333333" stroke-width="2" fill="none"/><rect x="945.90" y="449.50" width="332.00" height="351.00" fill="none" stroke="#333333" stroke-width="2.2"/><g font-family='"Liberation Sans", sans-serif' font-weight="bold" font-size="19.2" fill="#0c0c0c" stroke="#0c0c0c" stroke-width="0.3"><text transform="translate(935.60 806.30) scale(1.0 1)" text-anchor="end">-700</text><text transform="translate(935.60 769.35) scale(1.0 1)" text-anchor="end">-600</text><text transform="translate(935.60 732.41) scale(1.0 1)" text-anchor="end">-500</text><text transform="translate(935.60 695.46) scale(1.0 1)" text-anchor="end">-400</text><text transform="translate(935.60 658.51) scale(1.0 1)" text-anchor="end">-300</text><text transform="translate(935.60 621.56) scale(1.0 1)" text-anchor="end">-200</text><text transform="translate(935.60 584.62) scale(1.0 1)" text-anchor="end">-100</text><text transform="translate(935.60 547.67) scale(1.0 1)" text-anchor="end">0</text><text transform="translate(935.60 510.72) scale(1.0 1)" text-anchor="end">100</text><text transform="translate(935.60 473.77) scale(1.0 1)" text-anchor="end">200</text><text transform="translate(945.90 825.90) scale(1.01 1)" text-anchor="middle">0.8</text><text transform="translate(1006.26 825.90) scale(1.01 1)" text-anchor="middle">0.6</text><text transform="translate(1066.63 825.90) scale(1.01 1)" text-anchor="middle">0.4</text><text transform="translate(1126.99 825.90) scale(1.01 1)" text-anchor="middle">0.2</text><text transform="translate(1187.35 825.90) scale(1.01 1)" text-anchor="middle">0.0</text><text transform="translate(1247.72 825.90) scale(1.01 1)" text-anchor="middle">-0.2</text></g><text transform="translate(1111.90 854.50) scale(1.04 1)" text-anchor="middle" font-family='"Liberation Sans", sans-serif' font-weight="bold" font-size="23.5" fill="#0c0c0c" stroke="#0c0c0c" stroke-width="0.4">E / V vs. SCE</text><text transform="translate(886.40 625.00) rotate(-90)" text-anchor="middle" font-family='"Liberation Sans", sans-serif' font-weight="bold" font-size="24" fill="#0c0c0c">j / μA cm<tspan font-size="18" dy="-13">-2</tspan></text><text x="967.70" y="486.50" font-family='"Liberation Sans", sans-serif' font-weight="bold" font-size="35" fill="#000">f</text><text transform="translate(960.40 781.10) scale(1.05 1)" font-family='"Liberation Sans", sans-serif' font-weight="bold" font-size="16" fill="#151515">25 mM xylose</text></g>
</g></svg></body></html>
